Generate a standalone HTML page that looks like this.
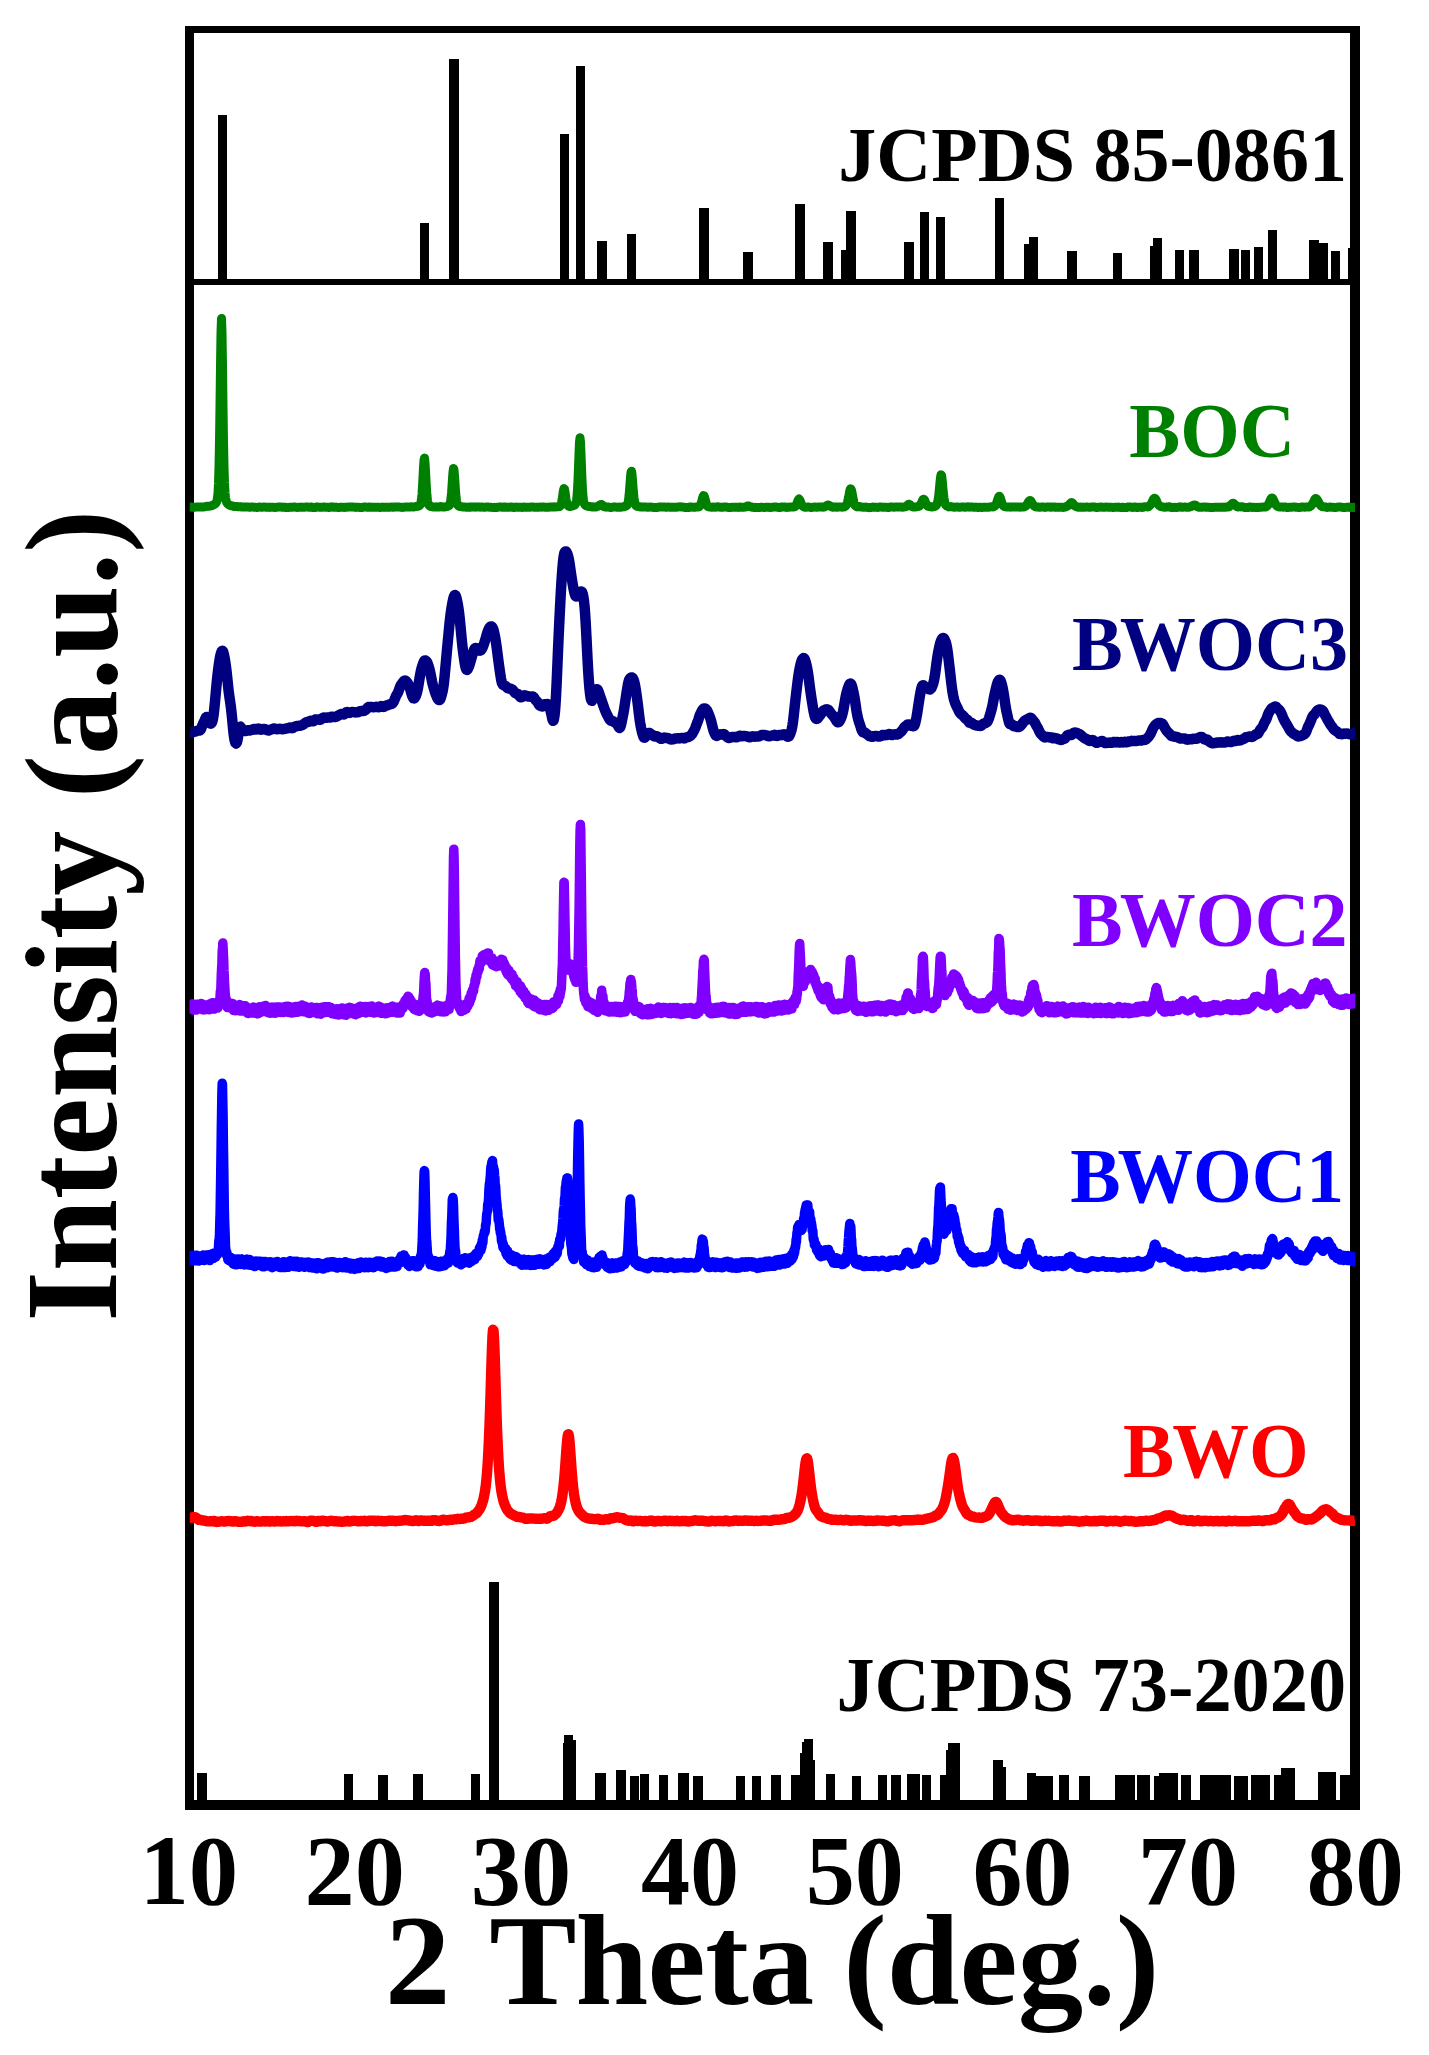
<!DOCTYPE html>
<html><head><meta charset="utf-8"><title>XRD patterns</title>
<style>html,body{margin:0;padding:0;background:#fff}svg{display:block}text{font-family:'Liberation Serif','Times New Roman',serif;font-weight:bold}</style>
</head><body>
<svg width="1429" height="2055" viewBox="0 0 1429 2055">
<rect x="0" y="0" width="1429" height="2055" fill="#fff"/>
<g fill="#000" shape-rendering="crispEdges">
<rect x="185" y="26" width="1175" height="7"/>
<rect x="185" y="1800" width="1175" height="10"/>
<rect x="185" y="26" width="9" height="1784"/>
<rect x="1350" y="26" width="10" height="1784"/>
<rect x="185" y="279" width="1175" height="6"/>
<rect x="218" y="115" width="9" height="167"/>
<rect x="420" y="223" width="9" height="59"/>
<rect x="449" y="59" width="10" height="223"/>
<rect x="560" y="134" width="9" height="148"/>
<rect x="576" y="66" width="9" height="216"/>
<rect x="597" y="241" width="10" height="41"/>
<rect x="627" y="234" width="9" height="48"/>
<rect x="699" y="208" width="10" height="74"/>
<rect x="743" y="252" width="10" height="30"/>
<rect x="795" y="204" width="10" height="78"/>
<rect x="823" y="242" width="10" height="40"/>
<rect x="841" y="250" width="9" height="32"/>
<rect x="846" y="211" width="10" height="71"/>
<rect x="904" y="242" width="10" height="40"/>
<rect x="920" y="212" width="9" height="70"/>
<rect x="936" y="217" width="9" height="65"/>
<rect x="995" y="198" width="9" height="84"/>
<rect x="1024" y="244" width="9" height="38"/>
<rect x="1029" y="237" width="9" height="45"/>
<rect x="1067" y="251" width="10" height="31"/>
<rect x="1113" y="253" width="9" height="29"/>
<rect x="1150" y="246" width="8" height="36"/>
<rect x="1153" y="238" width="9" height="44"/>
<rect x="1175" y="250" width="9" height="32"/>
<rect x="1189" y="250" width="10" height="32"/>
<rect x="1229" y="249" width="10" height="33"/>
<rect x="1241" y="250" width="9" height="32"/>
<rect x="1254" y="247" width="9" height="35"/>
<rect x="1268" y="230" width="9" height="52"/>
<rect x="1309" y="240" width="10" height="42"/>
<rect x="1319" y="243" width="9" height="39"/>
<rect x="1331" y="251" width="9" height="31"/>
<rect x="1348" y="248" width="7" height="34"/>
<rect x="197" y="1773" width="10" height="32"/>
<rect x="344" y="1774" width="9" height="31"/>
<rect x="378" y="1775" width="10" height="30"/>
<rect x="413" y="1774" width="10" height="31"/>
<rect x="471" y="1774" width="9" height="31"/>
<rect x="489" y="1582" width="10" height="223"/>
<rect x="563" y="1743" width="13" height="62"/>
<rect x="564" y="1735" width="9" height="70"/>
<rect x="573" y="1740" width="3" height="65"/>
<rect x="595" y="1773" width="11" height="32"/>
<rect x="616" y="1770" width="10" height="35"/>
<rect x="630" y="1776" width="9" height="29"/>
<rect x="640" y="1774" width="9" height="31"/>
<rect x="659" y="1775" width="9" height="30"/>
<rect x="678" y="1773" width="11" height="32"/>
<rect x="693" y="1776" width="10" height="29"/>
<rect x="736" y="1776" width="9" height="29"/>
<rect x="752" y="1776" width="9" height="29"/>
<rect x="771" y="1775" width="10" height="30"/>
<rect x="791" y="1775" width="9" height="30"/>
<rect x="800" y="1760" width="15" height="45"/>
<rect x="800" y="1753" width="13" height="52"/>
<rect x="802" y="1742" width="11" height="63"/>
<rect x="804" y="1739" width="9" height="66"/>
<rect x="826" y="1774" width="9" height="31"/>
<rect x="852" y="1776" width="9" height="29"/>
<rect x="878" y="1775" width="9" height="30"/>
<rect x="891" y="1775" width="10" height="30"/>
<rect x="907" y="1774" width="13" height="31"/>
<rect x="922" y="1775" width="9" height="30"/>
<rect x="940" y="1775" width="6" height="30"/>
<rect x="946" y="1750" width="14" height="55"/>
<rect x="948" y="1743" width="12" height="62"/>
<rect x="993" y="1767" width="13" height="38"/>
<rect x="993" y="1760" width="10" height="45"/>
<rect x="1027" y="1776" width="26" height="29"/>
<rect x="1027" y="1773" width="9" height="32"/>
<rect x="1059" y="1775" width="10" height="30"/>
<rect x="1079" y="1776" width="11" height="29"/>
<rect x="1115" y="1775" width="20" height="30"/>
<rect x="1137" y="1775" width="13" height="30"/>
<rect x="1154" y="1776" width="24" height="29"/>
<rect x="1159" y="1773" width="19" height="32"/>
<rect x="1181" y="1775" width="10" height="30"/>
<rect x="1200" y="1775" width="31" height="30"/>
<rect x="1234" y="1776" width="14" height="29"/>
<rect x="1251" y="1775" width="19" height="30"/>
<rect x="1274" y="1775" width="7" height="30"/>
<rect x="1281" y="1768" width="14" height="37"/>
<rect x="1318" y="1772" width="18" height="33"/>
<rect x="1340" y="1775" width="15" height="30"/>
</g>
<clipPath id="cp"><rect x="189.5" y="286" width="1165.8" height="1513"/></clipPath>
<g clip-path="url(#cp)">
<polyline points="189.5,507.1 190,507.1 190.5,507.1 191,507.1 191.5,507.1 192,507.2 192.5,507.3 193,507.3 193.5,507.3 194,507.2 194.5,507.2 195,507.2 195.5,507.2 196,507.1 196.5,507 197,507 197.5,507 198,507 198.5,507 199,507.1 199.5,507 200,507 200.5,507 201,507 201.5,507 202,507.1 202.5,507.1 203,507 203.5,507 204,506.9 204.5,506.8 205,506.7 205.5,506.6 206,506.5 206.5,506.4 207,506.3 207.5,506.2 208,506.2 208.5,506.2 209,506.2 209.5,506.2 210,506.1 210.5,505.9 211,505.8 211.5,505.6 212,505.5 212.5,505.3 213,505.1 213.5,504.9 214,504.6 214.5,504.2 215,503.9 215.5,503.5 216,502.9 216.5,502.1 217,500.6 217.5,497.9 218,492.9 218.5,483.4 219,466.7 219.5,440.6 220,405.4 220.5,365.9 221,332.3 221.5,318.6 222,332.2 222.5,365.8 223,405.2 223.5,440.3 224,466.3 224.5,483 225,492.6 225.5,497.7 226,500.4 226.5,501.9 227,502.9 227.5,503.6 228,504.1 228.5,504.5 229,504.8 229.5,505.1 230,505.4 230.5,505.7 231,505.8 231.5,505.8 232,505.8 232.5,505.9 233,506.1 233.5,506.4 234,506.5 234.5,506.5 235,506.5 235.5,506.5 236,506.5 236.5,506.5 237,506.6 237.5,506.7 238,506.8 238.5,506.8 239,506.8 239.5,506.8 240,506.7 240.5,506.7 241,506.7 241.5,506.8 242,507 242.5,507.1 243,507 243.5,507 244,506.9 244.5,506.9 245,506.9 245.5,507 246,507.1 246.5,507 247,507 247.5,507 248,507 248.5,507.1 249,507.2 249.5,507.3 250,507.3 250.5,507.2 251,507.1 251.5,507.1 252,507.1 252.5,507.1 253,507.1 253.5,507.2 254,507.2 254.5,507.2 255,507.2 255.5,507.3 256,507.3 256.5,507.4 257,507.4 257.5,507.4 258,507.3 258.5,507.2 259,507.1 259.5,507.1 260,507.1 260.5,507.2 261,507.3 261.5,507.3 262,507.2 262.5,507.2 263,507.2 263.5,507.1 264,507 264.5,507.1 265,507.1 265.5,507.2 266,507.3 266.5,507.3 267,507.3 267.5,507.2 268,507.2 268.5,507.2 269,507.3 269.5,507.4 270,507.3 270.5,507.3 271,507.3 271.5,507.3 272,507.3 272.5,507.3 273,507.2 273.5,507.3 274,507.3 274.5,507.4 275,507.4 275.5,507.4 276,507.3 276.5,507.3 277,507.3 277.5,507.2 278,507.1 278.5,507 279,507 279.5,506.9 280,506.9 280.5,506.9 281,507.1 281.5,507.2 282,507.2 282.5,507.2 283,507.1 283.5,507.2 284,507.3 284.5,507.3 285,507.4 285.5,507.3 286,507.3 286.5,507.4 287,507.5 287.5,507.5 288,507.5 288.5,507.5 289,507.4 289.5,507.3 290,507.2 290.5,507.2 291,507.2 291.5,507.3 292,507.3 292.5,507.3 293,507.2 293.5,507.1 294,507 294.5,507 295,507.1 295.5,507.2 296,507.3 296.5,507.3 297,507.4 297.5,507.4 298,507.4 298.5,507.3 299,507.3 299.5,507.3 300,507.2 300.5,507.2 301,507.1 301.5,507.2 302,507.2 302.5,507.2 303,507.3 303.5,507.3 304,507.3 304.5,507.2 305,507.2 305.5,507.1 306,507.1 306.5,507.1 307,507.1 307.5,507.1 308,507.1 308.5,507.2 309,507.3 309.5,507.3 310,507.2 310.5,507 311,507 311.5,507 312,507.2 312.5,507.3 313,507.5 313.5,507.6 314,507.6 314.5,507.6 315,507.5 315.5,507.3 316,507.1 316.5,507 317,507 317.5,507 318,507.1 318.5,507.2 319,507.2 319.5,507.3 320,507.3 320.5,507.3 321,507.2 321.5,507.2 322,507.2 322.5,507.2 323,507.2 323.5,507.1 324,507 324.5,507.1 325,507.2 325.5,507.3 326,507.3 326.5,507.3 327,507.2 327.5,507.2 328,507.3 328.5,507.4 329,507.4 329.5,507.4 330,507.3 330.5,507.1 331,506.9 331.5,506.8 332,506.9 332.5,507 333,507.2 333.5,507.3 334,507.3 334.5,507.3 335,507.3 335.5,507.2 336,507.1 336.5,507.2 337,507.3 337.5,507.4 338,507.5 338.5,507.5 339,507.5 339.5,507.4 340,507.3 340.5,507.2 341,507.2 341.5,507.2 342,507.2 342.5,507.3 343,507.3 343.5,507.3 344,507.4 344.5,507.4 345,507.3 345.5,507.2 346,507.2 346.5,507.2 347,507.2 347.5,507.2 348,507.1 348.5,507 349,506.9 349.5,506.9 350,507 350.5,507 351,507 351.5,507 352,507 352.5,507 353,507.1 353.5,507.1 354,507.2 354.5,507.2 355,507.3 355.5,507.3 356,507.4 356.5,507.3 357,507.3 357.5,507.3 358,507.3 358.5,507.3 359,507.3 359.5,507.4 360,507.4 360.5,507.5 361,507.4 361.5,507.4 362,507.4 362.5,507.4 363,507.3 363.5,507.2 364,507 364.5,507 365,507 365.5,507.1 366,507.1 366.5,507.2 367,507.3 367.5,507.2 368,507.2 368.5,507.1 369,507.2 369.5,507.2 370,507.1 370.5,507.1 371,507.2 371.5,507.3 372,507.3 372.5,507.3 373,507.3 373.5,507.2 374,507.3 374.5,507.3 375,507.3 375.5,507.2 376,507.2 376.5,507.2 377,507.3 377.5,507.3 378,507.3 378.5,507.2 379,507.3 379.5,507.4 380,507.4 380.5,507.4 381,507.3 381.5,507.2 382,507.2 382.5,507.1 383,507.2 383.5,507.2 384,507.2 384.5,507.3 385,507.3 385.5,507.3 386,507.2 386.5,507.2 387,507.3 387.5,507.3 388,507.3 388.5,507.2 389,507.2 389.5,507.2 390,507.2 390.5,507.2 391,507.1 391.5,507.1 392,507.1 392.5,507.2 393,507.3 393.5,507.3 394,507.2 394.5,507 395,506.9 395.5,506.9 396,507 396.5,507.1 397,507.1 397.5,507 398,506.9 398.5,506.9 399,507 399.5,507.1 400,507.2 400.5,507.2 401,507.2 401.5,507.3 402,507.4 402.5,507.4 403,507.3 403.5,507.3 404,507.2 404.5,507.2 405,507.1 405.5,507 406,507 406.5,507 407,507.1 407.5,507.1 408,507.1 408.5,507 409,507 409.5,507 410,507 410.5,506.9 411,506.8 411.5,506.8 412,506.8 412.5,506.9 413,507 413.5,507 414,506.9 414.5,506.8 415,506.7 415.5,506.6 416,506.5 416.5,506.5 417,506.4 417.5,506.3 418,506.1 418.5,506 419,505.8 419.5,505.5 420,505 420.5,504 421,502.2 421.5,499 422,493.9 422.5,486.4 423,477 423.5,467.3 424,460 424.5,458 425,462.4 425.5,471 426,480.7 426.5,489.4 427,496 427.5,500.5 428,503.1 428.5,504.5 429,505.2 429.5,505.7 430,506.1 430.5,506.4 431,506.6 431.5,506.7 432,506.7 432.5,506.8 433,506.9 433.5,507 434,507 434.5,507 435,507 435.5,506.9 436,506.9 436.5,506.8 437,506.9 437.5,507 438,507.1 438.5,507.1 439,507 439.5,506.8 440,506.6 440.5,506.6 441,506.6 441.5,506.7 442,506.9 442.5,507 443,507.1 443.5,507.1 444,507.1 444.5,507 445,506.9 445.5,506.8 446,506.7 446.5,506.6 447,506.5 447.5,506.4 448,506.2 448.5,506.1 449,505.7 449.5,505.1 450,504 450.5,501.9 451,498.4 451.5,493.2 452,486.3 452.5,478.6 453,471.8 453.5,468.4 454,470 454.5,475.8 455,483.4 455.5,490.7 456,496.6 456.5,500.6 457,503.1 457.5,504.5 458,505.3 458.5,505.9 459,506.2 459.5,506.4 460,506.5 460.5,506.5 461,506.5 461.5,506.7 462,506.8 462.5,506.9 463,507 463.5,507 464,507 464.5,507.1 465,507.1 465.5,507.1 466,507.2 466.5,507.3 467,507.3 467.5,507.2 468,507.2 468.5,507.1 469,506.9 469.5,506.9 470,507 470.5,507.2 471,507.2 471.5,507.1 472,507.1 472.5,507.1 473,507 473.5,507 474,506.9 474.5,507 475,507.1 475.5,507.2 476,507.1 476.5,507.1 477,507 477.5,507 478,507.1 478.5,507.1 479,507.1 479.5,507.1 480,507.2 480.5,507.2 481,507.1 481.5,507 482,507 482.5,507.1 483,507.2 483.5,507.3 484,507.2 484.5,507.2 485,507.2 485.5,507.2 486,507.1 486.5,507.1 487,507.1 487.5,507.1 488,507.1 488.5,507.1 489,507.2 489.5,507.2 490,507.3 490.5,507.3 491,507.3 491.5,507.3 492,507.4 492.5,507.4 493,507.4 493.5,507.4 494,507.4 494.5,507.3 495,507.4 495.5,507.5 496,507.6 496.5,507.5 497,507.4 497.5,507.2 498,507.2 498.5,507.2 499,507.1 499.5,507.1 500,507 500.5,507 501,507.1 501.5,507.2 502,507.2 502.5,507.2 503,507.2 503.5,507.2 504,507 504.5,506.9 505,507 505.5,507.1 506,507.3 506.5,507.3 507,507.3 507.5,507.3 508,507.3 508.5,507.3 509,507.3 509.5,507.2 510,507.1 510.5,507.1 511,507 511.5,507 512,507.1 512.5,507.3 513,507.4 513.5,507.4 514,507.3 514.5,507.4 515,507.3 515.5,507.2 516,507.1 516.5,507.2 517,507.2 517.5,507.2 518,507.2 518.5,507.3 519,507.3 519.5,507.3 520,507.3 520.5,507.3 521,507.3 521.5,507.3 522,507.4 522.5,507.4 523,507.3 523.5,507.1 524,507.1 524.5,507.1 525,507.2 525.5,507.2 526,507.2 526.5,507.2 527,507.2 527.5,507.3 528,507.3 528.5,507.3 529,507.3 529.5,507.3 530,507.3 530.5,507.2 531,507.1 531.5,507 532,507 532.5,507 533,507.1 533.5,507.1 534,507.2 534.5,507.3 535,507.3 535.5,507.3 536,507.2 536.5,507.2 537,507.2 537.5,507.2 538,507.3 538.5,507.3 539,507.2 539.5,507.2 540,507.1 540.5,507.1 541,507.1 541.5,507.2 542,507.2 542.5,507.1 543,507.1 543.5,507.1 544,507.1 544.5,507.2 545,507.2 545.5,507.2 546,507.2 546.5,507.2 547,507.2 547.5,507.3 548,507.3 548.5,507.3 549,507.2 549.5,507.1 550,507 550.5,506.9 551,506.9 551.5,506.9 552,507 552.5,507 553,507 553.5,506.9 554,506.8 554.5,506.8 555,506.9 555.5,506.9 556,506.9 556.5,506.8 557,506.8 557.5,506.8 558,506.8 558.5,506.8 559,506.7 559.5,506.5 560,506.2 560.5,505.5 561,504.6 561.5,503 562,500.5 562.5,497.2 563,493.4 563.5,490.1 564,488.5 564.5,489.2 565,491.9 565.5,495.6 566,499 566.5,501.8 567,503.6 567.5,504.8 568,505.6 568.5,506.1 569,506.4 569.5,506.5 570,506.5 570.5,506.4 571,506.3 571.5,506.2 572,506.1 572.5,505.8 573,505.6 573.5,505.5 574,505.4 574.5,505.1 575,504.7 575.5,504 576,502.7 576.5,500.4 577,496.4 577.5,489.7 578,479.8 578.5,467.1 579,453.4 579.5,442.1 580,437.7 580.5,442.3 581,453.6 581.5,467.2 582,479.9 582.5,489.7 583,496.3 583.5,500.4 584,502.8 584.5,504.1 585,504.8 585.5,505.3 586,505.6 586.5,505.9 587,506.1 587.5,506.2 588,506.3 588.5,506.4 589,506.6 589.5,506.6 590,506.6 590.5,506.6 591,506.7 591.5,506.9 592,506.9 592.5,506.9 593,506.8 593.5,506.8 594,506.9 594.5,507.1 595,507.1 595.5,507 596,506.9 596.5,506.8 597,506.6 597.5,506.4 598,506.2 598.5,505.9 599,505.6 599.5,505.3 600,504.9 600.5,504.6 601,504.4 601.5,504.5 602,504.8 602.5,505.3 603,505.8 603.5,506.3 604,506.6 604.5,506.8 605,506.9 605.5,507 606,507.1 606.5,507.2 607,507.1 607.5,507 608,507 608.5,507 609,507.2 609.5,507.3 610,507.4 610.5,507.5 611,507.5 611.5,507.4 612,507.3 612.5,507.2 613,507.1 613.5,507 614,507.1 614.5,507.1 615,507.1 615.5,507.1 616,507.1 616.5,507.2 617,507.2 617.5,507.2 618,507.2 618.5,507.2 619,507.1 619.5,507.1 620,507.2 620.5,507.2 621,507.2 621.5,507.1 622,507 622.5,506.9 623,506.8 623.5,506.7 624,506.7 624.5,506.5 625,506.3 625.5,506.2 626,506 626.5,505.7 627,505.2 627.5,504.3 628,502.8 628.5,500.2 629,496.1 629.5,490.5 630,483.8 630.5,477.1 631,472.3 631.5,471.2 632,474.3 632.5,480.1 633,486.8 633.5,492.9 634,497.8 634.5,501.2 635,503.5 635.5,505 636,505.7 636.5,506.1 637,506.3 637.5,506.4 638,506.4 638.5,506.5 639,506.6 639.5,506.7 640,506.9 640.5,507 641,507.1 641.5,507.1 642,507.1 642.5,507 643,506.9 643.5,506.9 644,506.9 644.5,506.9 645,506.9 645.5,507 646,507 646.5,507.1 647,507.2 647.5,507.2 648,507.2 648.5,507.2 649,507.2 649.5,507.1 650,507 650.5,507.1 651,507.1 651.5,507.2 652,507.3 652.5,507.3 653,507.3 653.5,507.4 654,507.5 654.5,507.6 655,507.6 655.5,507.5 656,507.5 656.5,507.5 657,507.5 657.5,507.3 658,507.2 658.5,507.2 659,507.1 659.5,507 660,507 660.5,507 661,507 661.5,507 662,507 662.5,507 663,506.9 663.5,506.9 664,506.9 664.5,507 665,507.1 665.5,507.2 666,507.3 666.5,507.3 667,507.2 667.5,507.1 668,507.1 668.5,507.1 669,507.1 669.5,507.2 670,507.3 670.5,507.3 671,507.2 671.5,507.2 672,507.3 672.5,507.2 673,507.2 673.5,507.3 674,507.3 674.5,507.3 675,507.3 675.5,507.2 676,507.3 676.5,507.2 677,507.2 677.5,507.1 678,507 678.5,506.9 679,506.9 679.5,506.8 680,506.8 680.5,506.8 681,506.9 681.5,507 682,507.1 682.5,507.1 683,507.1 683.5,507.2 684,507.3 684.5,507.4 685,507.4 685.5,507.5 686,507.5 686.5,507.6 687,507.5 687.5,507.4 688,507.4 688.5,507.5 689,507.5 689.5,507.3 690,507 690.5,506.9 691,506.9 691.5,507 692,507.1 692.5,507.2 693,507.3 693.5,507.3 694,507.3 694.5,507.3 695,507.3 695.5,507.2 696,507.1 696.5,507 697,507 697.5,507 698,507 698.5,506.9 699,506.7 699.5,506.3 700,505.6 700.5,504.8 701,503.5 701.5,502 702,500.1 702.5,498.1 703,496.5 703.5,495.6 704,495.8 704.5,497 705,498.8 705.5,500.7 706,502.5 706.5,504 707,505.2 707.5,506 708,506.5 708.5,506.7 709,506.9 709.5,507 710,507.1 710.5,507.1 711,507.2 711.5,507.2 712,507.3 712.5,507.2 713,507.1 713.5,507.1 714,507.1 714.5,507.2 715,507.2 715.5,507.2 716,507.2 716.5,507.1 717,507 717.5,506.8 718,506.8 718.5,506.9 719,507 719.5,507.1 720,507.2 720.5,507.2 721,507.2 721.5,507.2 722,507.2 722.5,507.2 723,507.2 723.5,507.2 724,507.1 724.5,507 725,506.9 725.5,506.9 726,507 726.5,507.1 727,507.2 727.5,507.3 728,507.4 728.5,507.4 729,507.5 729.5,507.5 730,507.5 730.5,507.5 731,507.4 731.5,507.3 732,507.2 732.5,507.2 733,507.2 733.5,507.2 734,507.2 734.5,507.2 735,507.2 735.5,507.2 736,507.2 736.5,507.2 737,507.2 737.5,507.2 738,507.3 738.5,507.4 739,507.3 739.5,507.2 740,507.1 740.5,507.1 741,507.2 741.5,507.2 742,507.2 742.5,507.2 743,507.2 743.5,507.3 744,507.2 744.5,507.1 745,507 745.5,507 746,506.8 746.5,506.6 747,506.3 747.5,506 748,505.9 748.5,506 749,506.2 749.5,506.5 750,506.7 750.5,506.8 751,506.9 751.5,507 752,507.2 752.5,507.3 753,507.3 753.5,507.4 754,507.4 754.5,507.4 755,507.4 755.5,507.3 756,507.4 756.5,507.4 757,507.4 757.5,507.4 758,507.4 758.5,507.5 759,507.5 759.5,507.5 760,507.4 760.5,507.3 761,507.3 761.5,507.3 762,507.3 762.5,507.3 763,507.3 763.5,507.4 764,507.4 764.5,507.4 765,507.4 765.5,507.3 766,507.3 766.5,507.3 767,507.3 767.5,507.2 768,507.2 768.5,507.2 769,507.3 769.5,507.4 770,507.5 770.5,507.5 771,507.4 771.5,507.3 772,507.3 772.5,507.2 773,507.2 773.5,507.1 774,507.1 774.5,507.1 775,507.1 775.5,507.1 776,507.1 776.5,507.1 777,507.2 777.5,507.3 778,507.3 778.5,507.4 779,507.5 779.5,507.5 780,507.5 780.5,507.4 781,507.2 781.5,507 782,506.9 782.5,507 783,507.1 783.5,507.1 784,507 784.5,507 785,507 785.5,507.1 786,507.3 786.5,507.4 787,507.4 787.5,507.3 788,507.2 788.5,507.1 789,507.2 789.5,507.2 790,507.1 790.5,507.1 791,507.1 791.5,507.1 792,507 792.5,507.1 793,507.1 793.5,507 794,506.9 794.5,506.7 795,506.5 795.5,506.1 796,505.4 796.5,504.4 797,503.2 797.5,501.8 798,500.4 798.5,499.4 799,499 799.5,499.4 800,500.4 800.5,501.7 801,503 801.5,504.2 802,505.1 802.5,505.9 803,506.3 803.5,506.6 804,506.8 804.5,507.1 805,507.3 805.5,507.3 806,507.2 806.5,507.2 807,507.2 807.5,507.1 808,507 808.5,507 809,507.1 809.5,507.2 810,507.3 810.5,507.4 811,507.5 811.5,507.5 812,507.4 812.5,507.3 813,507.2 813.5,507.2 814,507.1 814.5,507.1 815,507.1 815.5,507.1 816,507.2 816.5,507.3 817,507.3 817.5,507.2 818,507.1 818.5,507 819,507 819.5,507.1 820,507.1 820.5,507.1 821,507 821.5,507 822,507.1 822.5,507.2 823,507.2 823.5,507.1 824,507 824.5,506.8 825,506.6 825.5,506.4 826,506.1 826.5,505.8 827,505.4 827.5,505.2 828,505 828.5,505.1 829,505.3 829.5,505.6 830,505.9 830.5,506.2 831,506.5 831.5,506.7 832,506.8 832.5,507 833,507.2 833.5,507.2 834,507.1 834.5,507.1 835,507.1 835.5,507.1 836,507.2 836.5,507.2 837,507 837.5,506.9 838,506.9 838.5,507 839,507.1 839.5,507.1 840,507 840.5,507 841,507 841.5,507.1 842,507.2 842.5,507.2 843,507.1 843.5,507 844,506.9 844.5,506.8 845,506.6 845.5,506.2 846,505.6 846.5,504.7 847,503.6 847.5,502.1 848,500.1 848.5,497.7 849,495 849.5,492.3 850,490 850.5,488.8 851,488.9 851.5,490.3 852,492.6 852.5,495.3 853,498 853.5,500.6 854,502.8 854.5,504.4 855,505.3 855.5,505.8 856,506.1 856.5,506.5 857,506.8 857.5,506.9 858,506.8 858.5,506.6 859,506.5 859.5,506.5 860,506.6 860.5,506.8 861,507 861.5,507 862,507.1 862.5,507.2 863,507.2 863.5,507.2 864,507.2 864.5,507.2 865,507.2 865.5,507.1 866,507.1 866.5,507.2 867,507.3 867.5,507.4 868,507.5 868.5,507.6 869,507.7 869.5,507.7 870,507.6 870.5,507.5 871,507.4 871.5,507.4 872,507.3 872.5,507.1 873,507.1 873.5,507.2 874,507.3 874.5,507.3 875,507.2 875.5,507.2 876,507.2 876.5,507.3 877,507.3 877.5,507.4 878,507.4 878.5,507.3 879,507.2 879.5,507.1 880,507 880.5,507 881,507.1 881.5,507.1 882,507.2 882.5,507.3 883,507.3 883.5,507.3 884,507.3 884.5,507.3 885,507.2 885.5,507.3 886,507.3 886.5,507.3 887,507.3 887.5,507.4 888,507.5 888.5,507.5 889,507.4 889.5,507.2 890,507.1 890.5,507.1 891,507.1 891.5,507.1 892,507.1 892.5,507.1 893,507.1 893.5,507.2 894,507.2 894.5,507.2 895,507.1 895.5,507.1 896,507 896.5,507 897,507 897.5,507 898,507 898.5,507 899,507 899.5,507 900,506.9 900.5,507 901,507.1 901.5,507.1 902,507.2 902.5,507.2 903,507.2 903.5,507.1 904,507 904.5,506.9 905,506.8 905.5,506.7 906,506.5 906.5,506.1 907,505.7 907.5,505.2 908,504.7 908.5,504.3 909,504.2 909.5,504.3 910,504.8 910.5,505.3 911,505.9 911.5,506.3 912,506.6 912.5,506.7 913,506.9 913.5,507 914,507.1 914.5,507 915,507 915.5,506.9 916,506.9 916.5,506.8 917,506.7 917.5,506.6 918,506.5 918.5,506.4 919,506.2 919.5,506 920,505.5 920.5,504.8 921,504 921.5,502.9 922,501.7 922.5,500.5 923,499.6 923.5,499.2 924,499.3 924.5,499.9 925,501 925.5,502.3 926,503.4 926.5,504.4 927,505.2 927.5,505.8 928,506.2 928.5,506.4 929,506.4 929.5,506.4 930,506.5 930.5,506.6 931,506.9 931.5,507 932,507 932.5,506.8 933,506.7 933.5,506.7 934,506.6 934.5,506.4 935,506.3 935.5,506 936,505.6 936.5,505 937,504 937.5,502.6 938,500.4 938.5,497.2 939,492.9 939.5,487.7 940,482.2 940.5,477.5 941,474.8 941.5,475.2 942,478.5 942.5,483.6 943,489.1 943.5,494.1 944,498.1 944.5,501.2 945,503.2 945.5,504.6 946,505.3 946.5,505.7 947,505.9 947.5,506.2 948,506.6 948.5,506.8 949,506.9 949.5,506.8 950,506.7 950.5,506.6 951,506.6 951.5,506.7 952,506.7 952.5,506.9 953,507 953.5,507.1 954,507.2 954.5,507.3 955,507.2 955.5,507.1 956,507.1 956.5,507 957,507 957.5,507 958,507.1 958.5,507.2 959,507.3 959.5,507.3 960,507.2 960.5,507.2 961,507.1 961.5,507.1 962,507 962.5,506.9 963,506.9 963.5,507 964,507.1 964.5,507.2 965,507.3 965.5,507.2 966,507.1 966.5,507 967,506.9 967.5,506.8 968,506.8 968.5,506.9 969,507.1 969.5,507.2 970,507.1 970.5,507 971,506.9 971.5,506.9 972,507 972.5,507.1 973,507.2 973.5,507.3 974,507.3 974.5,507.3 975,507.3 975.5,507.2 976,507.1 976.5,507.2 977,507.3 977.5,507.4 978,507.4 978.5,507.4 979,507.3 979.5,507.2 980,507.2 980.5,507.3 981,507.4 981.5,507.5 982,507.5 982.5,507.4 983,507.2 983.5,507.2 984,507.2 984.5,507.2 985,507.3 985.5,507.3 986,507.3 986.5,507.3 987,507.3 987.5,507.2 988,507.2 988.5,507.2 989,507.2 989.5,507.1 990,507 990.5,506.9 991,506.7 991.5,506.7 992,506.8 992.5,506.9 993,506.9 993.5,506.8 994,506.5 994.5,506.2 995,505.8 995.5,505.3 996,504.4 996.5,503.2 997,501.7 997.5,500.1 998,498.6 998.5,497.3 999,496.5 999.5,496.3 1000,497 1000.5,498.3 1001,500 1001.5,501.7 1002,503.2 1002.5,504.4 1003,505.3 1003.5,505.9 1004,506.4 1004.5,506.6 1005,506.7 1005.5,506.8 1006,506.9 1006.5,506.9 1007,506.9 1007.5,506.9 1008,506.9 1008.5,507 1009,507 1009.5,507.1 1010,507.1 1010.5,507.2 1011,507.1 1011.5,507.1 1012,507.1 1012.5,507 1013,507 1013.5,507 1014,506.9 1014.5,507 1015,506.9 1015.5,506.9 1016,506.9 1016.5,506.9 1017,506.9 1017.5,506.9 1018,507 1018.5,507 1019,507.1 1019.5,507.2 1020,507.2 1020.5,507.1 1021,507 1021.5,507 1022,507 1022.5,507 1023,507 1023.5,507 1024,506.9 1024.5,506.7 1025,506.5 1025.5,506.2 1026,505.9 1026.5,505.3 1027,504.5 1027.5,503.6 1028,502.7 1028.5,501.8 1029,501.1 1029.5,500.6 1030,500.4 1030.5,500.6 1031,501.2 1031.5,502.1 1032,503 1032.5,503.9 1033,504.6 1033.5,505.2 1034,505.8 1034.5,506.2 1035,506.5 1035.5,506.7 1036,506.9 1036.5,507 1037,507 1037.5,506.9 1038,506.9 1038.5,507 1039,507.1 1039.5,507.3 1040,507.3 1040.5,507.2 1041,507.1 1041.5,507.1 1042,507.1 1042.5,507.1 1043,507.1 1043.5,507.1 1044,507.2 1044.5,507.3 1045,507.4 1045.5,507.3 1046,507.2 1046.5,507.1 1047,507.1 1047.5,507.1 1048,507.1 1048.5,507.1 1049,507.1 1049.5,507.1 1050,507.1 1050.5,507.2 1051,507.3 1051.5,507.2 1052,507 1052.5,506.9 1053,506.9 1053.5,507 1054,507.1 1054.5,507.2 1055,507.2 1055.5,507.1 1056,507.2 1056.5,507.2 1057,507.3 1057.5,507.3 1058,507.3 1058.5,507.2 1059,507.2 1059.5,507.2 1060,507.2 1060.5,507.2 1061,507.3 1061.5,507.3 1062,507.3 1062.5,507.3 1063,507.4 1063.5,507.4 1064,507.3 1064.5,507.2 1065,507.1 1065.5,507 1066,506.7 1066.5,506.5 1067,506.2 1067.5,506 1068,505.7 1068.5,505.4 1069,505 1069.5,504.4 1070,503.7 1070.5,503.2 1071,502.8 1071.5,502.6 1072,502.7 1072.5,503.1 1073,503.7 1073.5,504.4 1074,505.1 1074.5,505.7 1075,506.1 1075.5,506.3 1076,506.4 1076.5,506.6 1077,506.8 1077.5,507 1078,507.2 1078.5,507.3 1079,507.3 1079.5,507.2 1080,507.1 1080.5,507.1 1081,507.2 1081.5,507.3 1082,507.3 1082.5,507.2 1083,507.1 1083.5,507.2 1084,507.2 1084.5,507.3 1085,507.2 1085.5,507.2 1086,507.1 1086.5,507.1 1087,507.1 1087.5,507.1 1088,507.2 1088.5,507.2 1089,507.2 1089.5,507.2 1090,507.2 1090.5,507.2 1091,507.2 1091.5,507.1 1092,507 1092.5,507 1093,507 1093.5,506.9 1094,506.9 1094.5,507 1095,507.1 1095.5,507.2 1096,507.4 1096.5,507.5 1097,507.5 1097.5,507.4 1098,507.3 1098.5,507.3 1099,507.3 1099.5,507.2 1100,507.2 1100.5,507.1 1101,507 1101.5,507.1 1102,507.2 1102.5,507.3 1103,507.3 1103.5,507.3 1104,507.2 1104.5,507.2 1105,507.2 1105.5,507.2 1106,507.1 1106.5,507.1 1107,507.1 1107.5,507.2 1108,507.2 1108.5,507.2 1109,507.2 1109.5,507.3 1110,507.3 1110.5,507.2 1111,507.2 1111.5,507.2 1112,507.3 1112.5,507.4 1113,507.4 1113.5,507.4 1114,507.4 1114.5,507.3 1115,507.3 1115.5,507.2 1116,507.2 1116.5,507.3 1117,507.2 1117.5,507.2 1118,507.2 1118.5,507.1 1119,507.2 1119.5,507.3 1120,507.4 1120.5,507.5 1121,507.5 1121.5,507.5 1122,507.3 1122.5,507.2 1123,507.2 1123.5,507.3 1124,507.4 1124.5,507.4 1125,507.4 1125.5,507.5 1126,507.6 1126.5,507.6 1127,507.4 1127.5,507.2 1128,507 1128.5,506.9 1129,506.9 1129.5,506.9 1130,506.9 1130.5,507 1131,507.1 1131.5,507.3 1132,507.3 1132.5,507.4 1133,507.4 1133.5,507.3 1134,507.1 1134.5,507 1135,507 1135.5,507 1136,507.2 1136.5,507.3 1137,507.5 1137.5,507.5 1138,507.4 1138.5,507.3 1139,507.2 1139.5,507.2 1140,507.2 1140.5,507.2 1141,507.2 1141.5,507.3 1142,507.4 1142.5,507.4 1143,507.3 1143.5,507.1 1144,506.9 1144.5,506.7 1145,506.7 1145.5,506.7 1146,506.7 1146.5,506.7 1147,506.8 1147.5,506.9 1148,506.9 1148.5,506.7 1149,506.4 1149.5,505.9 1150,505.4 1150.5,504.8 1151,504.1 1151.5,503.2 1152,502.2 1152.5,501.1 1153,500 1153.5,499.1 1154,498.5 1154.5,498.2 1155,498.3 1155.5,498.9 1156,499.8 1156.5,500.8 1157,502 1157.5,503.1 1158,504 1158.5,504.7 1159,505.2 1159.5,505.7 1160,506.1 1160.5,506.4 1161,506.6 1161.5,506.7 1162,506.8 1162.5,506.9 1163,507 1163.5,507.1 1164,507.2 1164.5,507.3 1165,507.3 1165.5,507.2 1166,507.1 1166.5,507.1 1167,507.1 1167.5,507.1 1168,507 1168.5,506.8 1169,506.7 1169.5,506.8 1170,507 1170.5,507.2 1171,507.4 1171.5,507.5 1172,507.6 1172.5,507.5 1173,507.5 1173.5,507.4 1174,507.3 1174.5,507.3 1175,507.3 1175.5,507.4 1176,507.5 1176.5,507.5 1177,507.4 1177.5,507.3 1178,507.3 1178.5,507.2 1179,507.1 1179.5,506.9 1180,506.8 1180.5,506.9 1181,507.1 1181.5,507.3 1182,507.3 1182.5,507.2 1183,507.2 1183.5,507.2 1184,507.1 1184.5,507.1 1185,507.1 1185.5,507.1 1186,507.2 1186.5,507.3 1187,507.3 1187.5,507.3 1188,507.2 1188.5,507.2 1189,507.2 1189.5,507.1 1190,506.9 1190.5,506.7 1191,506.5 1191.5,506.3 1192,506 1192.5,505.7 1193,505.4 1193.5,505.2 1194,505.1 1194.5,505.1 1195,505.1 1195.5,505.2 1196,505.5 1196.5,505.9 1197,506.3 1197.5,506.7 1198,506.9 1198.5,507.1 1199,507.3 1199.5,507.3 1200,507.3 1200.5,507.2 1201,507.2 1201.5,507.2 1202,507.2 1202.5,507.2 1203,507.1 1203.5,507.1 1204,507.1 1204.5,507.1 1205,507.2 1205.5,507.2 1206,507.1 1206.5,507.1 1207,507.2 1207.5,507.3 1208,507.3 1208.5,507.3 1209,507.3 1209.5,507.4 1210,507.4 1210.5,507.4 1211,507.4 1211.5,507.3 1212,507.4 1212.5,507.4 1213,507.5 1213.5,507.4 1214,507.3 1214.5,507.2 1215,507.2 1215.5,507.2 1216,507.2 1216.5,507.2 1217,507.3 1217.5,507.3 1218,507.2 1218.5,507.2 1219,507.2 1219.5,507.2 1220,507.3 1220.5,507.3 1221,507.3 1221.5,507.3 1222,507.2 1222.5,507.1 1223,507.2 1223.5,507.2 1224,507.3 1224.5,507.3 1225,507.3 1225.5,507.1 1226,507 1226.5,507 1227,507 1227.5,507 1228,507 1228.5,506.9 1229,506.7 1229.5,506.3 1230,505.8 1230.5,505.2 1231,504.7 1231.5,504.2 1232,503.8 1232.5,503.4 1233,503.2 1233.5,503.3 1234,503.7 1234.5,504.2 1235,504.9 1235.5,505.5 1236,505.9 1236.5,506.3 1237,506.6 1237.5,506.9 1238,507 1238.5,506.9 1239,506.8 1239.5,506.8 1240,506.8 1240.5,506.9 1241,506.8 1241.5,506.8 1242,506.8 1242.5,506.8 1243,506.9 1243.5,507.1 1244,507.3 1244.5,507.4 1245,507.5 1245.5,507.6 1246,507.6 1246.5,507.6 1247,507.6 1247.5,507.6 1248,507.5 1248.5,507.3 1249,507.1 1249.5,506.9 1250,506.9 1250.5,506.9 1251,507.1 1251.5,507.3 1252,507.4 1252.5,507.4 1253,507.4 1253.5,507.3 1254,507.3 1254.5,507.3 1255,507.4 1255.5,507.5 1256,507.5 1256.5,507.4 1257,507.3 1257.5,507.3 1258,507.4 1258.5,507.4 1259,507.4 1259.5,507.3 1260,507.3 1260.5,507.2 1261,507.2 1261.5,507.2 1262,507.2 1262.5,507.1 1263,507.1 1263.5,507 1264,507 1264.5,507 1265,507 1265.5,507 1266,506.8 1266.5,506.5 1267,506.1 1267.5,505.7 1268,505 1268.5,504.2 1269,503.1 1269.5,502 1270,500.8 1270.5,499.7 1271,498.8 1271.5,498.2 1272,498 1272.5,498.2 1273,498.9 1273.5,499.9 1274,500.9 1274.5,502 1275,503.1 1275.5,504.1 1276,505 1276.5,505.6 1277,506 1277.5,506.4 1278,506.7 1278.5,506.8 1279,506.9 1279.5,507 1280,507.1 1280.5,507.1 1281,507 1281.5,506.9 1282,507 1282.5,507.1 1283,507.2 1283.5,507.2 1284,507.1 1284.5,507 1285,506.9 1285.5,507 1286,507.2 1286.5,507.4 1287,507.5 1287.5,507.5 1288,507.4 1288.5,507.4 1289,507.3 1289.5,507.3 1290,507.3 1290.5,507.3 1291,507.3 1291.5,507.2 1292,507.2 1292.5,507.1 1293,507.1 1293.5,507 1294,506.9 1294.5,507 1295,507.1 1295.5,507.2 1296,507.3 1296.5,507.3 1297,507.3 1297.5,507.3 1298,507.4 1298.5,507.4 1299,507.4 1299.5,507.4 1300,507.4 1300.5,507.3 1301,507.1 1301.5,507 1302,507.1 1302.5,507.1 1303,507.1 1303.5,507.1 1304,507.2 1304.5,507.2 1305,507.2 1305.5,507.1 1306,507 1306.5,506.9 1307,506.9 1307.5,506.9 1308,507 1308.5,507 1309,507 1309.5,506.8 1310,506.5 1310.5,506.2 1311,505.7 1311.5,505.2 1312,504.5 1312.5,503.7 1313,502.9 1313.5,501.9 1314,500.9 1314.5,499.8 1315,499 1315.5,498.6 1316,498.6 1316.5,498.9 1317,499.4 1317.5,500.1 1318,501 1318.5,501.9 1319,502.9 1319.5,503.8 1320,504.6 1320.5,505.2 1321,505.8 1321.5,506.2 1322,506.5 1322.5,506.7 1323,506.7 1323.5,506.8 1324,506.8 1324.5,506.8 1325,506.9 1325.5,507 1326,507.2 1326.5,507.3 1327,507.4 1327.5,507.4 1328,507.3 1328.5,507.3 1329,507.2 1329.5,507.1 1330,507.1 1330.5,507.1 1331,507.2 1331.5,507.3 1332,507.3 1332.5,507.3 1333,507.3 1333.5,507.3 1334,507.4 1334.5,507.5 1335,507.6 1335.5,507.5 1336,507.4 1336.5,507.3 1337,507.2 1337.5,507.2 1338,507.1 1338.5,507.1 1339,507 1339.5,507 1340,507 1340.5,507.1 1341,507.2 1341.5,507.2 1342,507.3 1342.5,507.3 1343,507.4 1343.5,507.5 1344,507.4 1344.5,507.4 1345,507.4 1345.5,507.4 1346,507.3 1346.5,507.3 1347,507.3 1347.5,507.3 1348,507.2 1348.5,507.1 1349,507.1 1349.5,507.2 1350,507.4 1350.5,507.5 1351,507.6 1351.5,507.5 1352,507.4 1352.5,507.4 1353,507.4 1353.5,507.4 1354,507.3 1354.5,507.2 1355,507.2" fill="none" stroke="#008000" stroke-width="9" stroke-linejoin="round" stroke-linecap="butt"/>
<polyline points="189.5,732 190,732.3 190.5,732.4 191,732.4 191.5,732.3 192,732.2 192.5,732.2 193,732.1 193.5,732 194,731.8 194.5,731.7 195,731.6 195.5,731.5 196,731.3 196.5,731.1 197,730.9 197.5,730.7 198,730.5 198.5,730.4 199,730.4 199.5,730.5 200,730.4 200.5,729.9 201,729 201.5,727.7 202,726.3 202.5,725 203,723.8 203.5,722.9 204,721.9 204.5,720.7 205,719.5 205.5,718.4 206,717.4 206.5,717 207,717.1 207.5,717.8 208,718.7 208.5,719.9 209,721.2 209.5,722.4 210,723.3 210.5,723.7 211,723.6 211.5,723.1 212,722.2 212.5,720.8 213,718.6 213.5,715.5 214,711.5 214.5,706.8 215,701.5 215.5,696.1 216,690.6 216.5,685.2 217,680.1 217.5,675.4 218,671 218.5,667.1 219,663.5 219.5,660.3 220,657.4 220.5,655 221,653.2 221.5,651.8 222,650.9 222.5,650.8 223,651.4 223.5,652.9 224,655 224.5,657.4 225,660.2 225.5,663.3 226,666.9 226.5,670.9 227,675.5 227.5,680.4 228,685.3 228.5,689.8 229,693.8 229.5,697.4 230,700.8 230.5,704.2 231,708 231.5,712.3 232,717.2 232.5,722.6 233,727.9 233.5,732.7 234,736.7 234.5,739.7 235,741.7 235.5,742.9 236,743.5 236.5,743.2 237,742.1 237.5,740.1 238,737.1 238.5,733.8 239,730.8 239.5,728.4 240,727.1 240.5,726.8 241,727.4 241.5,728.3 242,729.2 242.5,729.8 243,730.3 243.5,730.6 244,730.8 244.5,730.9 245,731 245.5,731 246,730.9 246.5,730.7 247,730.5 247.5,730.3 248,730.2 248.5,730.3 249,730.4 249.5,730.5 250,730.4 250.5,730.2 251,730 251.5,729.9 252,729.8 252.5,729.6 253,729.3 253.5,729.1 254,728.9 254.5,729 255,729.2 255.5,729.5 256,729.6 256.5,729.6 257,729.3 257.5,729 258,728.7 258.5,728.6 259,728.7 259.5,729 260,729.4 260.5,729.6 261,729.7 261.5,729.6 262,729.4 262.5,729.2 263,729.1 263.5,729 264,729 264.5,729.1 265,729.2 265.5,729.4 266,729.7 266.5,729.9 267,730.1 267.5,730.3 268,730.5 268.5,730.5 269,730.4 269.5,730.2 270,730 270.5,729.7 271,729.5 271.5,729.3 272,729.2 272.5,729 273,728.8 273.5,728.6 274,728.5 274.5,728.5 275,728.8 275.5,729 276,729.1 276.5,729.2 277,729.2 277.5,729.2 278,729.1 278.5,729 279,728.9 279.5,728.8 280,728.8 280.5,728.9 281,729 281.5,729.1 282,729.2 282.5,729.3 283,729.2 283.5,729.1 284,729 284.5,728.8 285,728.8 285.5,728.7 286,728.6 286.5,728.5 287,728.5 287.5,728.3 288,728.2 288.5,728 289,727.8 289.5,727.6 290,727.6 290.5,727.7 291,728 291.5,728.1 292,728.2 292.5,728.1 293,727.9 293.5,727.5 294,727.2 294.5,726.8 295,726.6 295.5,726.4 296,726.4 296.5,726.2 297,726.1 297.5,726 298,725.9 298.5,725.8 299,725.8 299.5,725.8 300,725.8 300.5,725.7 301,725.5 301.5,725.3 302,725.1 302.5,724.9 303,724.6 303.5,724.3 304,723.9 304.5,723.5 305,723.1 305.5,722.8 306,722.5 306.5,722.2 307,722 307.5,721.9 308,721.9 308.5,721.9 309,721.7 309.5,721.4 310,721 310.5,720.7 311,720.7 311.5,720.8 312,721 312.5,721.2 313,721.3 313.5,721.2 314,720.8 314.5,720.3 315,719.8 315.5,719.5 316,719.4 316.5,719.5 317,719.5 317.5,719.5 318,719.5 318.5,719.6 319,719.7 319.5,719.8 320,719.8 320.5,719.7 321,719.3 321.5,718.9 322,718.5 322.5,718.1 323,717.8 323.5,717.6 324,717.6 324.5,717.6 325,717.7 325.5,717.8 326,717.8 326.5,717.8 327,717.7 327.5,717.5 328,717.4 328.5,717.4 329,717.5 329.5,717.6 330,717.5 330.5,717.2 331,716.9 331.5,716.7 332,716.7 332.5,716.7 333,716.8 333.5,716.9 334,717 334.5,717 335,717 335.5,716.9 336,716.8 336.5,716.5 337,716.3 337.5,715.9 338,715.6 338.5,715.4 339,715.1 339.5,714.9 340,714.6 340.5,714.3 341,714.1 341.5,714 342,714 342.5,714.1 343,714.3 343.5,714.4 344,714.4 344.5,714.1 345,713.6 345.5,713.1 346,712.6 346.5,712.2 347,712 347.5,712 348,712.2 348.5,712.5 349,712.8 349.5,713 350,712.8 350.5,712.5 351,712.2 351.5,712 352,712 352.5,712 353,712.1 353.5,712.1 354,712.2 354.5,712.2 355,712.3 355.5,712.4 356,712.4 356.5,712.3 357,712.3 357.5,712.3 358,712.2 358.5,711.9 359,711.5 359.5,711.3 360,711.2 360.5,711.2 361,711.2 361.5,711.1 362,710.9 362.5,710.8 363,710.8 363.5,710.9 364,710.8 364.5,710.6 365,710.3 365.5,709.9 366,709.5 366.5,709.1 367,708.5 367.5,708 368,707.4 368.5,707 369,706.9 369.5,706.9 370,707 370.5,707.1 371,707.1 371.5,707 372,707 372.5,707 373,707.2 373.5,707.3 374,707.2 374.5,707.1 375,706.9 375.5,706.9 376,706.8 376.5,706.8 377,706.9 377.5,707 378,707.2 378.5,707.2 379,707.2 379.5,706.9 380,706.6 380.5,706.3 381,706.1 381.5,706.2 382,706.4 382.5,706.6 383,706.8 383.5,706.9 384,706.8 384.5,706.5 385,706.2 385.5,705.8 386,705.6 386.5,705.5 387,705.5 387.5,705.3 388,705.1 388.5,704.8 389,704.6 389.5,704.4 390,704.3 390.5,704.2 391,704.2 391.5,704 392,703.7 392.5,703.3 393,702.7 393.5,701.9 394,701 394.5,699.8 395,698.6 395.5,697.3 396,696.1 396.5,695.1 397,694.3 397.5,693.5 398,692.5 398.5,691.2 399,689.8 399.5,688.3 400,687 400.5,685.8 401,684.9 401.5,684.2 402,683.5 402.5,682.8 403,682.1 403.5,681.5 404,681 404.5,680.7 405,680.6 405.5,680.7 406,681 406.5,681.5 407,682.1 407.5,682.8 408,683.6 408.5,684.5 409,685.7 409.5,687 410,688.6 410.5,690.3 411,692 411.5,693.8 412,695.4 412.5,696.7 413,697.7 413.5,698.3 414,698.5 414.5,698.2 415,697.5 415.5,696.6 416,695.5 416.5,694.1 417,692.3 417.5,690.2 418,687.7 418.5,684.8 419,681.7 419.5,678.6 420,675.6 420.5,673 421,670.6 421.5,668.6 422,666.9 422.5,665.3 423,663.8 423.5,662.4 424,661.3 424.5,660.6 425,660.4 425.5,660.5 426,660.9 426.5,661.4 427,662.1 427.5,663.1 428,664.4 428.5,665.9 429,667.5 429.5,669.4 430,671.4 430.5,673.7 431,676.2 431.5,678.8 432,681.3 432.5,683.5 433,685.4 433.5,687.1 434,688.9 434.5,690.6 435,692.2 435.5,693.6 436,694.9 436.5,696.1 437,697.3 437.5,698.3 438,699.1 438.5,699.7 439,700.1 439.5,700.1 440,699.6 440.5,698.7 441,697.3 441.5,695.6 442,693.7 442.5,691.7 443,689.2 443.5,686 444,682 444.5,677.3 445,672.1 445.5,666.6 446,661 446.5,655.5 447,650.1 447.5,644.8 448,639.6 448.5,634.3 449,628.9 449.5,623.8 450,619.2 450.5,615 451,611.4 451.5,608.1 452,605.2 452.5,602.4 453,600 453.5,597.9 454,596.3 454.5,595.3 455,595 455.5,595.4 456,596.5 456.5,598.2 457,600.4 457.5,602.8 458,605.5 458.5,608.7 459,612.3 459.5,616.5 460,621.2 460.5,626.5 461,631.9 461.5,637.3 462,642.3 462.5,646.9 463,651 463.5,654.8 464,658.3 464.5,661.7 465,664.7 465.5,667.1 466,668.8 466.5,669.7 467,669.9 467.5,669.5 468,668.7 468.5,667.6 469,666.3 469.5,664.9 470,663.3 470.5,661.6 471,659.8 471.5,658 472,656.2 472.5,654.5 473,652.8 473.5,651.2 474,649.9 474.5,648.9 475,648.3 475.5,648 476,648 476.5,648.2 477,648.4 477.5,648.8 478,649.2 478.5,649.7 479,650.3 479.5,650.6 480,650.7 480.5,650.5 481,650.1 481.5,649.5 482,648.7 482.5,647.7 483,646.5 483.5,645.2 484,643.8 484.5,642.2 485,640.6 485.5,638.9 486,637.2 486.5,635.4 487,633.7 487.5,632.1 488,630.8 488.5,629.6 489,628.5 489.5,627.6 490,627 490.5,626.6 491,626.4 491.5,626.5 492,626.8 492.5,627.5 493,628.5 493.5,630 494,631.8 494.5,634.1 495,636.6 495.5,639.4 496,642.6 496.5,646.1 497,649.8 497.5,653.6 498,657.6 498.5,661.4 499,665.1 499.5,668.7 500,672.2 500.5,675.6 501,678.7 501.5,681.2 502,683.1 502.5,684.2 503,684.8 503.5,685.1 504,685.3 504.5,685.4 505,685.7 505.5,686 506,686.5 506.5,687 507,687.5 507.5,688 508,688.3 508.5,688.5 509,688.5 509.5,688.5 510,688.6 510.5,688.7 511,688.9 511.5,689.2 512,689.4 512.5,689.7 513,690.2 513.5,690.9 514,691.6 514.5,692.3 515,692.8 515.5,693.2 516,693.4 516.5,693.5 517,693.6 517.5,693.8 518,694.1 518.5,694.7 519,695.4 519.5,696.1 520,696.7 520.5,697.1 521,697.3 521.5,697.3 522,697 522.5,696.6 523,696.2 523.5,695.7 524,695.4 524.5,695.3 525,695.4 525.5,695.6 526,695.8 526.5,696 527,696.1 527.5,696.2 528,696.4 528.5,696.5 529,696.6 529.5,696.6 530,696.6 530.5,696.7 531,696.7 531.5,696.6 532,696.6 532.5,696.5 533,696.6 533.5,696.9 534,697.6 534.5,698.4 535,699.2 535.5,700 536,700.5 536.5,700.9 537,701.4 537.5,702.1 538,703 538.5,703.9 539,704.7 539.5,705.3 540,705.6 540.5,705.9 541,706.1 541.5,706.3 542,706.5 542.5,706.4 543,706 543.5,705.3 544,704.7 544.5,704.3 545,704.3 545.5,704.3 546,704.3 546.5,704.2 547,704 547.5,704 548,704.3 548.5,704.9 549,705.9 549.5,707.3 550,708.8 550.5,710.6 551,712.7 551.5,715 552,717.5 552.5,719.6 553,720.8 553.5,720.6 554,718.8 554.5,715.6 555,710.9 555.5,704.4 556,696.1 556.5,686 557,674.6 557.5,662.6 558,650.7 558.5,639.3 559,628.6 559.5,618.2 560,608 560.5,598.4 561,589.4 561.5,581.2 562,573.8 562.5,567.3 563,561.8 563.5,557.6 564,554.6 564.5,552.7 565,551.8 565.5,551.4 566,551.5 566.5,552 567,553 567.5,554.2 568,555.7 568.5,557.7 569,560.1 569.5,563.1 570,566.5 570.5,570 571,573.5 571.5,576.8 572,580 572.5,583 573,585.9 573.5,588.5 574,590.9 574.5,593 575,594.7 575.5,595.9 576,596.5 576.5,596.5 577,595.9 577.5,595.1 578,594.2 578.5,593.5 579,593 579.5,592.5 580,592.1 580.5,591.8 581,591.5 581.5,591.5 582,592 582.5,593.1 583,594.9 583.5,597.6 584,601.2 584.5,606 585,612.2 585.5,619.8 586,628.7 586.5,638.5 587,648.6 587.5,658.5 588,667.7 588.5,675.9 589,682.9 589.5,688.7 590,693.3 590.5,696.9 591,699.4 591.5,700.7 592,700.8 592.5,699.7 593,698 593.5,696.3 594,694.5 594.5,692.8 595,691.4 595.5,690.3 596,689.6 596.5,689.2 597,689.2 597.5,689.6 598,690.4 598.5,691.5 599,693 599.5,694.5 600,695.9 600.5,697.3 601,698.7 601.5,700.2 602,701.7 602.5,703.2 603,704.7 603.5,706 604,707.4 604.5,708.8 605,710.1 605.5,711.4 606,712.5 606.5,713.6 607,714.6 607.5,715.6 608,716.5 608.5,717.5 609,718.5 609.5,719.3 610,720 610.5,720.4 611,720.7 611.5,720.8 612,720.9 612.5,721 613,721.2 613.5,721.5 614,721.9 614.5,722.2 615,722.5 615.5,722.8 616,723.1 616.5,723.5 617,724.1 617.5,724.9 618,725.8 618.5,726.7 619,727.5 619.5,727.9 620,727.6 620.5,726.6 621,724.9 621.5,722.6 622,720.1 622.5,717.6 623,715.1 623.5,712.6 624,709.8 624.5,706.6 625,703.2 625.5,699.8 626,696.4 626.5,693.1 627,690 627.5,687 628,684.2 628.5,681.9 629,680.2 629.5,679.1 630,678.5 630.5,678 631,677.6 631.5,677.4 632,677.5 632.5,677.9 633,678.6 633.5,679.6 634,681 634.5,682.8 635,685.1 635.5,687.9 636,691.1 636.5,694.5 637,698.1 637.5,701.9 638,705.9 638.5,710.1 639,714.4 639.5,718.4 640,722 640.5,725 641,727.6 641.5,729.9 642,731.9 642.5,733.8 643,735.5 643.5,736.8 644,737.6 644.5,737.7 645,737.4 645.5,736.7 646,735.9 646.5,735.1 647,734.3 647.5,733.7 648,733.2 648.5,732.9 649,732.9 649.5,733 650,733.3 650.5,733.7 651,734.1 651.5,734.5 652,734.7 652.5,735 653,735.3 653.5,735.8 654,736.2 654.5,736.5 655,736.5 655.5,736.4 656,736.2 656.5,736.2 657,736.3 657.5,736.6 658,736.8 658.5,737.1 659,737.4 659.5,737.8 660,738.3 660.5,738.6 661,738.8 661.5,738.8 662,738.6 662.5,738.3 663,738 663.5,737.8 664,737.6 664.5,737.6 665,737.7 665.5,738 666,738.1 666.5,738.1 667,738 667.5,738 668,738 668.5,738.2 669,738.5 669.5,738.9 670,739.1 670.5,739.3 671,739.4 671.5,739.4 672,739.4 672.5,739.3 673,739.3 673.5,739.1 674,738.9 674.5,738.7 675,738.5 675.5,738.4 676,738.4 676.5,738.4 677,738.4 677.5,738.3 678,738.2 678.5,738.3 679,738.3 679.5,738.4 680,738.3 680.5,738.2 681,738 681.5,738 682,738 682.5,738 683,738.1 683.5,738.2 684,738.4 684.5,738.3 685,738.1 685.5,737.8 686,737.5 686.5,737.3 687,737.3 687.5,737.2 688,737.1 688.5,736.9 689,736.6 689.5,736.4 690,736 690.5,735.7 691,735.3 691.5,734.8 692,734.1 692.5,733.4 693,732.5 693.5,731.5 694,730.6 694.5,729.7 695,728.6 695.5,727.4 696,726 696.5,724.6 697,723.3 697.5,722.1 698,720.8 698.5,719.3 699,717.6 699.5,716 700,714.7 700.5,713.5 701,712.5 701.5,711.5 702,710.6 702.5,709.8 703,709.1 703.5,708.6 704,708.4 704.5,708.4 705,708.5 705.5,708.7 706,709.2 706.5,709.7 707,710.4 707.5,711.3 708,712.3 708.5,713.5 709,714.9 709.5,716.2 710,717.6 710.5,719.1 711,720.7 711.5,722.6 712,724.7 712.5,726.9 713,728.8 713.5,730.5 714,731.9 714.5,733 715,734.1 715.5,734.9 716,735.6 716.5,736 717,736 717.5,735.6 718,735.2 718.5,734.8 719,734.5 719.5,734.4 720,734.3 720.5,734.4 721,734.5 721.5,734.6 722,734.6 722.5,734.4 723,734.2 723.5,734.1 724,734.2 724.5,734.5 725,735 725.5,735.5 726,736 726.5,736.5 727,736.9 727.5,737.3 728,737.7 728.5,737.9 729,738 729.5,738 730,737.8 730.5,737.6 731,737.3 731.5,737.2 732,737 732.5,737 733,736.9 733.5,736.9 734,736.9 734.5,737 735,737 735.5,737.1 736,737.3 736.5,737.3 737,737.2 737.5,737 738,736.7 738.5,736.4 739,736.1 739.5,735.9 740,735.7 740.5,735.8 741,736 741.5,736.2 742,736.3 742.5,736.2 743,736.1 743.5,736.1 744,736.1 744.5,736.1 745,736.1 745.5,736.2 746,736.2 746.5,736.3 747,736.4 747.5,736.6 748,736.8 748.5,737 749,737.2 749.5,737.3 750,737.2 750.5,736.9 751,736.6 751.5,736.4 752,736.4 752.5,736.3 753,736.4 753.5,736.5 754,736.6 754.5,736.7 755,736.7 755.5,736.6 756,736.5 756.5,736.4 757,736.4 757.5,736.4 758,736.5 758.5,736.4 759,736.3 759.5,736.1 760,735.8 760.5,735.6 761,735.3 761.5,735.1 762,735 762.5,735 763,735 763.5,735.1 764,735.1 764.5,735.1 765,735.1 765.5,735.2 766,735.3 766.5,735.4 767,735.6 767.5,735.9 768,736.1 768.5,736.2 769,736.3 769.5,736.2 770,736.1 770.5,736 771,735.8 771.5,735.7 772,735.6 772.5,735.6 773,735.4 773.5,735.2 774,735 774.5,734.8 775,734.9 775.5,735.2 776,735.6 776.5,735.8 777,735.9 777.5,735.9 778,735.7 778.5,735.5 779,735.3 779.5,735 780,734.9 780.5,734.9 781,735.1 781.5,735.2 782,735.1 782.5,734.9 783,734.6 783.5,734.4 784,734.3 784.5,734.4 785,734.6 785.5,734.9 786,735.3 786.5,735.8 787,736.2 787.5,736.6 788,736.7 788.5,736.7 789,736.3 789.5,735.5 790,734.4 790.5,733.1 791,731.6 791.5,730 792,727.9 792.5,725.1 793,721.7 793.5,717.6 794,713.1 794.5,708.4 795,703.8 795.5,699.3 796,695 796.5,690.8 797,686.7 797.5,682.6 798,678.8 798.5,675.3 799,672.2 799.5,669.4 800,666.8 800.5,664.6 801,662.7 801.5,661.1 802,659.9 802.5,659.1 803,658.5 803.5,658.1 804,658.2 804.5,658.7 805,659.8 805.5,661.3 806,663 806.5,665 807,667.3 807.5,670.1 808,673.1 808.5,676.6 809,680.4 809.5,684.3 810,688.1 810.5,691.8 811,695.2 811.5,698.5 812,701.6 812.5,704.8 813,707.8 813.5,710.7 814,713.2 814.5,715.4 815,717 815.5,718.1 816,718.7 816.5,718.9 817,718.8 817.5,718.5 818,718 818.5,717.3 819,716.6 819.5,716 820,715.4 820.5,714.7 821,714 821.5,713.1 822,712.3 822.5,711.6 823,711 823.5,710.6 824,710.3 824.5,710 825,709.8 825.5,709.6 826,709.4 826.5,709.3 827,709.4 827.5,709.5 828,709.7 828.5,710 829,710.5 829.5,711.2 830,711.9 830.5,712.7 831,713.4 831.5,714 832,714.6 832.5,715.1 833,715.7 833.5,716.3 834,717 834.5,717.7 835,718.5 835.5,719.3 836,720.2 836.5,721 837,721.7 837.5,722.1 838,722.3 838.5,722.2 839,721.8 839.5,721.2 840,720.4 840.5,719.4 841,718.3 841.5,717 842,715.5 842.5,713.7 843,711.6 843.5,709.1 844,706.3 844.5,703.3 845,700.3 845.5,697.6 846,695.1 846.5,693 847,691.2 847.5,689.5 848,687.9 848.5,686.5 849,685.3 849.5,684.3 850,683.7 850.5,683.6 851,683.9 851.5,684.8 852,686.1 852.5,688 853,690.1 853.5,692.4 854,694.8 854.5,697.6 855,700.7 855.5,704.1 856,707.5 856.5,710.8 857,713.6 857.5,716.1 858,718.4 858.5,720.3 859,721.9 859.5,723.4 860,724.9 860.5,726.4 861,728 861.5,729.5 862,730.8 862.5,731.7 863,732.2 863.5,732.4 864,732.5 864.5,732.5 865,732.7 865.5,733.1 866,733.4 866.5,733.8 867,734.2 867.5,734.5 868,734.9 868.5,735.4 869,735.8 869.5,736.2 870,736.3 870.5,736.3 871,736.4 871.5,736.6 872,736.8 872.5,736.8 873,736.7 873.5,736.5 874,736.2 874.5,736.1 875,736.1 875.5,736 876,736 876.5,736 877,736.1 877.5,736.3 878,736.5 878.5,736.6 879,736.6 879.5,736.5 880,736.3 880.5,736.2 881,736.1 881.5,735.8 882,735.4 882.5,735 883,734.9 883.5,734.9 884,735 884.5,735.2 885,735.2 885.5,735.2 886,735.1 886.5,735 887,735 887.5,734.9 888,734.7 888.5,734.4 889,734.1 889.5,734.1 890,734.2 890.5,734.5 891,734.8 891.5,735 892,735.1 892.5,735 893,734.8 893.5,734.6 894,734.4 894.5,734.3 895,734.3 895.5,734.5 896,734.6 896.5,734.6 897,734.5 897.5,734.4 898,734.2 898.5,733.9 899,733.5 899.5,733.1 900,732.6 900.5,732.1 901,731.7 901.5,731.2 902,730.7 902.5,730 903,729.2 903.5,728.5 904,727.8 904.5,727.1 905,726.7 905.5,726.3 906,726 906.5,725.5 907,725 907.5,724.6 908,724.4 908.5,724.5 909,724.8 909.5,725.2 910,725.5 910.5,725.7 911,725.7 911.5,725.7 912,725.8 912.5,726 913,726.2 913.5,726.3 914,726 914.5,725.2 915,723.8 915.5,721.9 916,719.6 916.5,717.2 917,714.4 917.5,711.2 918,707.9 918.5,704.5 919,701.2 919.5,698.1 920,695.2 920.5,692.4 921,689.9 921.5,687.8 922,686.3 922.5,685.5 923,685.2 923.5,685.4 924,685.8 924.5,686.4 925,686.9 925.5,687.1 926,687.1 926.5,687.1 927,687.3 927.5,687.6 928,688.2 928.5,688.8 929,689.3 929.5,689.5 930,689.4 930.5,689.1 931,688.6 931.5,687.9 932,686.8 932.5,685.6 933,684.2 933.5,682.5 934,680.4 934.5,677.8 935,674.7 935.5,671 936,667.1 936.5,663.3 937,659.6 937.5,656.3 938,653.3 938.5,650.7 939,648.3 939.5,646 940,644 940.5,642.2 941,640.8 941.5,639.7 942,638.9 942.5,638.3 943,638 943.5,638 944,638.5 944.5,639.4 945,640.4 945.5,641.6 946,643 946.5,645 947,647.5 947.5,650.7 948,654.5 948.5,658.6 949,662.8 949.5,667.1 950,671.4 950.5,675.9 951,680.3 951.5,684.5 952,688.4 952.5,691.9 953,694.8 953.5,697.3 954,699.4 954.5,701.1 955,702.6 955.5,703.9 956,705 956.5,706.1 957,707.1 957.5,708 958,709.1 958.5,710.3 959,711.4 959.5,712.3 960,713 960.5,713.5 961,714 961.5,714.5 962,714.9 962.5,715.2 963,715.6 963.5,716.1 964,716.7 964.5,717.4 965,718 965.5,718.5 966,718.9 966.5,719.2 967,719.5 967.5,719.9 968,720.6 968.5,721.5 969,722.2 969.5,722.7 970,722.8 970.5,722.7 971,722.6 971.5,722.8 972,723.2 972.5,723.7 973,724.1 973.5,724.5 974,724.7 974.5,724.9 975,725 975.5,725.1 976,725.3 976.5,725.5 977,725.6 977.5,725.7 978,725.7 978.5,725.7 979,725.8 979.5,725.8 980,725.9 980.5,725.9 981,725.8 981.5,725.5 982,725 982.5,724.4 983,724 983.5,723.7 984,723.5 984.5,723.4 985,723.2 985.5,723.1 986,722.8 986.5,722.5 987,722.1 987.5,721.4 988,720.6 988.5,719.4 989,718.1 989.5,716.5 990,714.9 990.5,713.2 991,711.5 991.5,709.7 992,707.7 992.5,705.3 993,702.7 993.5,699.9 994,697.2 994.5,694.7 995,692.5 995.5,690.3 996,688.2 996.5,686.2 997,684.3 997.5,682.8 998,681.6 998.5,680.7 999,680 999.5,679.7 1000,679.8 1000.5,680.5 1001,681.8 1001.5,683.4 1002,685.2 1002.5,687.3 1003,689.8 1003.5,692.6 1004,695.7 1004.5,699.1 1005,702.6 1005.5,706 1006,708.9 1006.5,711.4 1007,713.7 1007.5,715.8 1008,718.1 1008.5,720.3 1009,722.3 1009.5,723.6 1010,724.2 1010.5,724.3 1011,724.2 1011.5,724.2 1012,724.4 1012.5,724.9 1013,725.5 1013.5,726 1014,726.3 1014.5,726.2 1015,726.1 1015.5,726 1016,726.2 1016.5,726.6 1017,726.9 1017.5,727.1 1018,727.1 1018.5,727.1 1019,726.9 1019.5,726.7 1020,726.3 1020.5,725.8 1021,725.3 1021.5,724.7 1022,724.1 1022.5,723.4 1023,722.8 1023.5,722.1 1024,721.5 1024.5,721 1025,720.5 1025.5,720.2 1026,719.9 1026.5,719.7 1027,719.4 1027.5,719.1 1028,718.9 1028.5,718.7 1029,718.4 1029.5,718 1030,717.7 1030.5,717.7 1031,718 1031.5,718.5 1032,719.1 1032.5,719.7 1033,720.4 1033.5,721 1034,721.5 1034.5,722.1 1035,722.9 1035.5,723.9 1036,724.9 1036.5,725.9 1037,726.7 1037.5,727.5 1038,728.4 1038.5,729.5 1039,730.7 1039.5,731.8 1040,732.7 1040.5,733.5 1041,734 1041.5,734.5 1042,735 1042.5,735.5 1043,736.1 1043.5,736.6 1044,737 1044.5,737.3 1045,737.4 1045.5,737.3 1046,737.2 1046.5,737.1 1047,737.1 1047.5,737.1 1048,737.1 1048.5,737.2 1049,737.3 1049.5,737.4 1050,737.4 1050.5,737.3 1051,737.4 1051.5,737.5 1052,737.8 1052.5,738.1 1053,738.3 1053.5,738.3 1054,738.2 1054.5,738.1 1055,738 1055.5,738 1056,738.2 1056.5,738.4 1057,738.7 1057.5,738.9 1058,739.1 1058.5,739.2 1059,739.4 1059.5,739.5 1060,739.7 1060.5,739.9 1061,739.9 1061.5,739.8 1062,739.6 1062.5,739.3 1063,739.2 1063.5,739 1064,738.9 1064.5,738.7 1065,738.3 1065.5,737.7 1066,737.1 1066.5,736.5 1067,735.8 1067.5,735.3 1068,735 1068.5,734.8 1069,734.7 1069.5,734.8 1070,735 1070.5,735.1 1071,735.1 1071.5,734.9 1072,734.5 1072.5,734 1073,733.5 1073.5,733 1074,732.7 1074.5,732.5 1075,732.6 1075.5,732.6 1076,732.7 1076.5,732.8 1077,732.9 1077.5,733.2 1078,733.5 1078.5,733.8 1079,734 1079.5,734.2 1080,734.4 1080.5,734.8 1081,735.3 1081.5,735.7 1082,736.2 1082.5,736.6 1083,737 1083.5,737.4 1084,737.7 1084.5,738.1 1085,738.4 1085.5,738.7 1086,738.9 1086.5,739 1087,739.2 1087.5,739.5 1088,740 1088.5,740.4 1089,740.7 1089.5,740.9 1090,740.9 1090.5,740.7 1091,740.5 1091.5,740.2 1092,740 1092.5,740 1093,740.2 1093.5,740.6 1094,741.1 1094.5,741.6 1095,742 1095.5,742.3 1096,742.6 1096.5,742.8 1097,742.8 1097.5,742.6 1098,742.3 1098.5,742 1099,741.8 1099.5,741.8 1100,741.7 1100.5,741.6 1101,741.2 1101.5,740.9 1102,740.9 1102.5,741.1 1103,741.6 1103.5,742 1104,742.4 1104.5,742.7 1105,743 1105.5,743.1 1106,743 1106.5,742.9 1107,742.8 1107.5,742.8 1108,742.8 1108.5,742.8 1109,742.7 1109.5,742.6 1110,742.6 1110.5,742.7 1111,742.8 1111.5,742.8 1112,742.7 1112.5,742.4 1113,742.2 1113.5,742 1114,741.9 1114.5,742 1115,742.1 1115.5,742.3 1116,742.4 1116.5,742.3 1117,742.1 1117.5,742 1118,742 1118.5,742.2 1119,742.4 1119.5,742.5 1120,742.4 1120.5,742.2 1121,742.1 1121.5,742.1 1122,742.2 1122.5,742.4 1123,742.4 1123.5,742.2 1124,742 1124.5,741.8 1125,741.8 1125.5,741.9 1126,742.1 1126.5,742.3 1127,742.2 1127.5,741.9 1128,741.6 1128.5,741.5 1129,741.5 1129.5,741.6 1130,741.6 1130.5,741.3 1131,741 1131.5,740.8 1132,740.9 1132.5,741 1133,741.1 1133.5,741.1 1134,741.1 1134.5,741.1 1135,741.1 1135.5,741.1 1136,741 1136.5,740.9 1137,740.8 1137.5,740.8 1138,740.7 1138.5,740.6 1139,740.6 1139.5,740.6 1140,740.6 1140.5,740.6 1141,740.6 1141.5,740.5 1142,740.3 1142.5,740.1 1143,739.9 1143.5,739.9 1144,739.9 1144.5,739.9 1145,739.8 1145.5,739.6 1146,739.3 1146.5,738.9 1147,738.4 1147.5,738 1148,737.4 1148.5,736.9 1149,736.2 1149.5,735.5 1150,734.7 1150.5,733.9 1151,732.9 1151.5,731.8 1152,730.7 1152.5,729.5 1153,728.4 1153.5,727.5 1154,726.7 1154.5,726 1155,725.4 1155.5,724.8 1156,724.4 1156.5,724 1157,723.7 1157.5,723.3 1158,723.1 1158.5,723 1159,723 1159.5,723 1160,723 1160.5,723 1161,723.1 1161.5,723.3 1162,723.5 1162.5,723.8 1163,724.5 1163.5,725.3 1164,726.3 1164.5,727.3 1165,728.2 1165.5,729 1166,729.8 1166.5,730.6 1167,731.2 1167.5,731.7 1168,732.2 1168.5,732.7 1169,733.2 1169.5,733.8 1170,734.3 1170.5,734.9 1171,735.5 1171.5,736 1172,736.2 1172.5,736.2 1173,736.2 1173.5,736.2 1174,736.4 1174.5,736.6 1175,736.8 1175.5,736.8 1176,736.8 1176.5,736.9 1177,737 1177.5,737.2 1178,737.5 1178.5,737.7 1179,738 1179.5,738.2 1180,738.4 1180.5,738.6 1181,738.6 1181.5,738.6 1182,738.5 1182.5,738.5 1183,738.4 1183.5,738.4 1184,738.4 1184.5,738.4 1185,738.6 1185.5,738.8 1186,739.1 1186.5,739.4 1187,739.6 1187.5,739.7 1188,739.6 1188.5,739.5 1189,739.3 1189.5,739.2 1190,739.2 1190.5,739.3 1191,739.3 1191.5,739.3 1192,739.2 1192.5,738.9 1193,738.8 1193.5,738.7 1194,738.7 1194.5,738.8 1195,738.8 1195.5,738.8 1196,738.8 1196.5,738.7 1197,738.6 1197.5,738.4 1198,738.1 1198.5,737.8 1199,737.6 1199.5,737.3 1200,737.1 1200.5,736.9 1201,736.9 1201.5,736.9 1202,737.1 1202.5,737.5 1203,738 1203.5,738.5 1204,738.9 1204.5,739.3 1205,739.5 1205.5,739.7 1206,739.8 1206.5,739.7 1207,739.6 1207.5,739.7 1208,740.2 1208.5,740.8 1209,741.3 1209.5,741.8 1210,742.1 1210.5,742.5 1211,742.7 1211.5,743 1212,743.2 1212.5,743.3 1213,743.3 1213.5,743.2 1214,743.1 1214.5,743.1 1215,743 1215.5,742.9 1216,742.8 1216.5,742.6 1217,742.5 1217.5,742.4 1218,742.4 1218.5,742.5 1219,742.5 1219.5,742.4 1220,742.4 1220.5,742.3 1221,742.3 1221.5,742.5 1222,742.6 1222.5,742.6 1223,742.6 1223.5,742.5 1224,742.4 1224.5,742.4 1225,742.4 1225.5,742.3 1226,742.1 1226.5,741.8 1227,741.6 1227.5,741.5 1228,741.6 1228.5,741.7 1229,741.8 1229.5,741.9 1230,741.9 1230.5,742 1231,742 1231.5,741.9 1232,741.7 1232.5,741.4 1233,741.1 1233.5,740.9 1234,740.8 1234.5,740.8 1235,740.9 1235.5,741 1236,741 1236.5,740.7 1237,740.4 1237.5,740.1 1238,740 1238.5,740.2 1239,740.3 1239.5,740.4 1240,740.4 1240.5,740.3 1241,740 1241.5,739.8 1242,739.5 1242.5,739.3 1243,739.2 1243.5,739 1244,738.7 1244.5,738.4 1245,738 1245.5,737.6 1246,737.2 1246.5,737 1247,737 1247.5,737 1248,737 1248.5,736.8 1249,736.6 1249.5,736.5 1250,736.4 1250.5,736.5 1251,736.7 1251.5,736.9 1252,736.9 1252.5,736.7 1253,736.4 1253.5,736 1254,735.7 1254.5,735.5 1255,735.1 1255.5,734.7 1256,734.2 1256.5,733.9 1257,733.9 1257.5,733.8 1258,733.6 1258.5,733 1259,732 1259.5,731 1260,730 1260.5,729.3 1261,728.7 1261.5,728.2 1262,727.6 1262.5,726.8 1263,725.8 1263.5,724.6 1264,723.5 1264.5,722.5 1265,721.6 1265.5,720.8 1266,719.9 1266.5,718.8 1267,717.4 1267.5,715.9 1268,714.5 1268.5,713.4 1269,712.4 1269.5,711.6 1270,710.8 1270.5,710 1271,709.2 1271.5,708.6 1272,708.2 1272.5,708 1273,707.8 1273.5,707.5 1274,707.1 1274.5,706.7 1275,706.4 1275.5,706.4 1276,706.7 1276.5,707.3 1277,707.9 1277.5,708.5 1278,708.9 1278.5,709.3 1279,709.7 1279.5,710.2 1280,710.8 1280.5,711.7 1281,712.6 1281.5,713.7 1282,714.9 1282.5,716.2 1283,717.5 1283.5,718.7 1284,719.8 1284.5,720.7 1285,721.6 1285.5,722.4 1286,723.2 1286.5,724.1 1287,724.9 1287.5,725.7 1288,726.6 1288.5,727.5 1289,728.5 1289.5,729.4 1290,730.3 1290.5,731 1291,731.5 1291.5,732 1292,732.4 1292.5,732.9 1293,733.3 1293.5,733.7 1294,734 1294.5,734.3 1295,734.4 1295.5,734.7 1296,735 1296.5,735.4 1297,735.8 1297.5,736.2 1298,736.4 1298.5,736.4 1299,736.3 1299.5,736.2 1300,736.1 1300.5,736 1301,735.9 1301.5,735.7 1302,735.5 1302.5,735.2 1303,734.9 1303.5,734.6 1304,734.4 1304.5,734.1 1305,733.7 1305.5,733 1306,732.1 1306.5,730.9 1307,729.6 1307.5,728.2 1308,726.9 1308.5,725.9 1309,724.9 1309.5,724 1310,722.8 1310.5,721.6 1311,720.3 1311.5,719 1312,717.7 1312.5,716.6 1313,715.7 1313.5,715.2 1314,714.8 1314.5,714.4 1315,713.8 1315.5,713.1 1316,712.2 1316.5,711.5 1317,710.9 1317.5,710.4 1318,710 1318.5,709.8 1319,709.6 1319.5,709.5 1320,709.5 1320.5,709.6 1321,709.7 1321.5,709.9 1322,710.1 1322.5,710.5 1323,711 1323.5,711.8 1324,712.8 1324.5,713.9 1325,715 1325.5,715.9 1326,716.8 1326.5,717.7 1327,718.7 1327.5,719.6 1328,720.5 1328.5,721.3 1329,722.1 1329.5,723 1330,723.9 1330.5,724.8 1331,725.5 1331.5,726 1332,726.6 1332.5,727.3 1333,728.1 1333.5,728.9 1334,729.5 1334.5,729.9 1335,730.2 1335.5,730.6 1336,730.9 1336.5,731.2 1337,731.6 1337.5,731.9 1338,732.4 1338.5,732.9 1339,733.4 1339.5,733.8 1340,733.9 1340.5,734 1341,734 1341.5,734.2 1342,734.2 1342.5,734.1 1343,733.9 1343.5,733.7 1344,733.6 1344.5,733.7 1345,733.8 1345.5,733.7 1346,733.6 1346.5,733.4 1347,733.4 1347.5,733.6 1348,733.8 1348.5,734 1349,734.2 1349.5,734.2 1350,734.2 1350.5,734.1 1351,734.2 1351.5,734.2 1352,734.2 1352.5,734.1 1353,733.8 1353.5,733.5 1354,733.2 1354.5,733.1 1355,733.1" fill="none" stroke="#000080" stroke-width="10.5" stroke-linejoin="round" stroke-linecap="butt"/>
<polyline points="189.5,1007.1 189.8,1008.8 190.1,1008.3 190.4,1006.7 190.7,1007.9 191,1009.1 191.3,1005.8 191.6,1005.2 191.9,1009.1 192.2,1004 192.5,1007.1 192.8,1003.9 193.1,1008.7 193.4,1010 193.7,1010.2 194,1006.1 194.3,1009.7 194.6,1008.5 194.9,1005.2 195.2,1004.3 195.5,1008.1 195.8,1006 196.1,1009.8 196.4,1010.1 196.7,1007.7 197,1008 197.3,1004.3 197.6,1005.4 197.9,1008.9 198.2,1006.5 198.5,1004.9 198.8,1006.6 199.1,1006.2 199.4,1005.7 199.7,1005.7 200,1006.6 200.3,1009.1 200.6,1008.8 200.9,1006.8 201.2,1003.4 201.5,1009.3 201.8,1008 202.1,1004.4 202.4,1009.8 202.7,1007.6 203,1005.4 203.3,1009.7 203.6,1005.8 203.9,1009.9 204.2,1008.6 204.5,1006.1 204.8,1005.9 205.1,1005.6 205.4,1004.9 205.7,1005.4 206,1006 206.3,1005.5 206.6,1006.4 206.9,1005.8 207.2,1009.5 207.5,1007.5 207.8,1004.7 208.1,1007.6 208.4,1005.1 208.7,1008.7 209,1006.4 209.3,1009.8 209.6,1003.9 209.9,1004.3 210.2,1008.3 210.5,1004.5 210.8,1003.4 211.1,1006.8 211.4,1009 211.7,1005.7 212,1006.1 212.3,1002.7 212.6,1008.1 212.9,1009.1 213.2,1002.8 213.5,1003.6 213.8,1003.5 214.1,1008.2 214.4,1009 214.7,1008.7 215,1003.6 215.3,1004.3 215.6,1007.1 215.9,1003.6 216.2,1008.2 216.5,1004.3 216.8,1003.2 217.1,1002.6 217.4,1007.9 217.7,1002 218,1007.5 218.3,1001.2 218.6,1005.8 218.9,1001.5 219.2,1005.1 219.5,1004.1 219.8,1002.4 220.1,995.3 220.4,990.8 220.7,992.5 221,984.4 221.3,974.5 221.6,968.6 221.9,963.6 222.2,950.7 222.5,949.2 222.8,943.1 223.1,947.2 223.4,954.7 223.7,959.7 224,970.4 224.3,975.6 224.6,983.8 224.9,988 225.2,993.4 225.5,996.3 225.8,997.6 226.1,998.8 226.4,1004 226.7,1001.2 227,1000.9 227.3,1007.6 227.6,1002.4 227.9,1002.4 228.2,1006.2 228.5,1004.7 228.8,1007.4 229.1,1006.4 229.4,1006.6 229.7,1007.3 230,1003.6 230.3,1008 230.6,1005.2 230.9,1007.8 231.2,1006.6 231.5,1003.5 231.8,1004.4 232.1,1005.6 232.4,1003.4 232.7,1007.3 233,1004.2 233.3,1007.5 233.6,1010.6 233.9,1010.4 234.2,1009 234.5,1005 234.8,1007.3 235.1,1006.7 235.4,1006 235.7,1010.7 236,1007 236.3,1006.4 236.6,1010.2 236.9,1005.8 237.2,1009.5 237.5,1006.4 237.8,1008.7 238.1,1006.9 238.4,1010.4 238.7,1005.5 239,1010.4 239.3,1004.7 239.6,1004.6 239.9,1010.9 240.2,1006.8 240.5,1008.2 240.8,1005.3 241.1,1011 241.4,1007.9 241.7,1010.3 242,1009.5 242.3,1006.1 242.6,1009.6 242.9,1006.6 243.2,1009.8 243.5,1008.9 243.8,1005.7 244.1,1007.3 244.4,1006.2 244.7,1007.3 245,1011.1 245.3,1005.7 245.6,1007 245.9,1011.7 246.2,1006.8 246.5,1007.8 246.8,1008.4 247.1,1011.3 247.4,1013.2 247.7,1010.1 248,1011.1 248.3,1013.6 248.6,1012.4 248.9,1009.5 249.2,1013 249.5,1009.6 249.8,1008.3 250.1,1009 250.4,1009.6 250.7,1010.5 251,1008.7 251.3,1012.3 251.6,1009.2 251.9,1013 252.2,1012.8 252.5,1012.1 252.8,1013 253.1,1007.7 253.4,1007.1 253.7,1008.6 254,1010.7 254.3,1007.9 254.6,1011.9 254.9,1011.1 255.2,1008 255.5,1008 255.8,1011 256.1,1013.4 256.4,1008 256.7,1012.9 257,1011.3 257.3,1013.9 257.6,1012.7 257.9,1007.8 258.2,1013.7 258.5,1010.8 258.8,1013 259.1,1009.2 259.4,1006.7 259.7,1012.6 260,1007.6 260.3,1007.6 260.6,1012.1 260.9,1012.2 261.2,1011.1 261.5,1011.4 261.8,1010.2 262.1,1009.2 262.4,1006.7 262.7,1006.9 263,1011.4 263.3,1010.4 263.6,1007.6 263.9,1006 264.2,1006 264.5,1006.8 264.8,1005.8 265.1,1007.1 265.4,1005.5 265.7,1011.7 266,1011.7 266.3,1007.9 266.6,1008 266.9,1007.4 267.2,1006.6 267.5,1011.7 267.8,1007.6 268.1,1012.7 268.4,1009.5 268.7,1008.9 269,1010.3 269.3,1012.3 269.6,1011.1 269.9,1008.3 270.2,1013.2 270.5,1011 270.8,1007.9 271.1,1012.2 271.4,1007.2 271.7,1009.1 272,1009.5 272.3,1007.1 272.6,1008.8 272.9,1013.1 273.2,1011.2 273.5,1008.3 273.8,1007.5 274.1,1012 274.4,1009.3 274.7,1007.7 275,1013.2 275.3,1007.8 275.6,1012.5 275.9,1011.4 276.2,1007 276.5,1008.7 276.8,1012.3 277.1,1011.1 277.4,1007.4 277.7,1008 278,1009.7 278.3,1007.1 278.6,1008.5 278.9,1011.2 279.2,1007 279.5,1012.1 279.8,1010.5 280.1,1012.5 280.4,1012 280.7,1009.9 281,1007.2 281.3,1008.2 281.6,1008.3 281.9,1011.4 282.2,1010.8 282.5,1008.1 282.8,1007.2 283.1,1011.7 283.4,1012.6 283.7,1012.2 284,1011.4 284.3,1007.2 284.6,1006.7 284.9,1011 285.2,1010 285.5,1007.2 285.8,1009.1 286.1,1011.9 286.4,1006.2 286.7,1009.8 287,1011.8 287.3,1007.6 287.6,1012.3 287.9,1007.2 288.2,1007.4 288.5,1006.3 288.8,1007.6 289.1,1009.5 289.4,1009.4 289.7,1012.7 290,1008.3 290.3,1007.4 290.6,1009.8 290.9,1010.4 291.2,1007 291.5,1011.7 291.8,1013 292.1,1008.8 292.4,1010.7 292.7,1012.8 293,1012 293.3,1010.5 293.6,1007.1 293.9,1007.5 294.2,1008.5 294.5,1010.5 294.8,1007.3 295.1,1006.5 295.4,1012.4 295.7,1011.4 296,1010.5 296.3,1010.8 296.6,1011.5 296.9,1011.7 297.2,1006.5 297.5,1007.1 297.8,1012.2 298.1,1008.4 298.4,1006.6 298.7,1010.7 299,1008.9 299.3,1007.4 299.6,1007.8 299.9,1010.7 300.2,1007.2 300.5,1011.5 300.8,1006.2 301.1,1010.7 301.4,1006.4 301.7,1011.5 302,1005.1 302.3,1006.1 302.6,1005.2 302.9,1010.7 303.2,1007.1 303.5,1007.8 303.8,1006.8 304.1,1007.4 304.4,1011.8 304.7,1010.7 305,1008.1 305.3,1006.2 305.6,1006.8 305.9,1008.6 306.2,1008.2 306.5,1011.3 306.8,1011.2 307.1,1008 307.4,1010.6 307.7,1012.9 308,1007.9 308.3,1009.7 308.6,1009.3 308.9,1013.4 309.2,1010.8 309.5,1012.9 309.8,1012.7 310.1,1013.3 310.4,1009 310.7,1012.6 311,1012.3 311.3,1007.1 311.6,1009.8 311.9,1011.3 312.2,1010.9 312.5,1012.5 312.8,1007.7 313.1,1010.9 313.4,1010.5 313.7,1009.5 314,1011.2 314.3,1008 314.6,1010.8 314.9,1009.1 315.2,1008.3 315.5,1007.6 315.8,1010.4 316.1,1012.5 316.4,1007.8 316.7,1012.8 317,1007.5 317.3,1013.8 317.6,1010.3 317.9,1010.1 318.2,1013.5 318.5,1008.5 318.8,1008.4 319.1,1013.8 319.4,1009.3 319.7,1010.2 320,1013.7 320.3,1012.4 320.6,1013 320.9,1014.2 321.2,1008.7 321.5,1010.2 321.8,1007.3 322.1,1013.1 322.4,1013 322.7,1012.1 323,1007.9 323.3,1011.5 323.6,1010.1 323.9,1009.6 324.2,1009.3 324.5,1006.7 324.8,1007.4 325.1,1006.7 325.4,1011.5 325.7,1012.5 326,1007.1 326.3,1011.8 326.6,1007.3 326.9,1006.8 327.2,1007.9 327.5,1011.7 327.8,1006.7 328.1,1007.2 328.4,1012 328.7,1006.8 329,1012.3 329.3,1012.6 329.6,1010.9 329.9,1008.6 330.2,1011.2 330.5,1012 330.8,1007.9 331.1,1007.6 331.4,1009.7 331.7,1011.4 332,1013.8 332.3,1013.3 332.6,1012.3 332.9,1013.4 333.2,1009.9 333.5,1013.8 333.8,1013.1 334.1,1009.6 334.4,1012.1 334.7,1010.2 335,1009.9 335.3,1014.3 335.6,1013.2 335.9,1012 336.2,1014.3 336.5,1014.4 336.8,1008.8 337.1,1008.8 337.4,1014.7 337.7,1009.3 338,1010.3 338.3,1012.1 338.6,1009.8 338.9,1014.9 339.2,1011.4 339.5,1012.7 339.8,1014.2 340.1,1010.7 340.4,1013.6 340.7,1014.6 341,1013.3 341.3,1011.9 341.6,1013.1 341.9,1007.9 342.2,1014 342.5,1012.3 342.8,1008.2 343.1,1010.6 343.4,1012.2 343.7,1009.5 344,1009 344.3,1013.2 344.6,1015 344.9,1011.7 345.2,1013.7 345.5,1010.2 345.8,1014.5 346.1,1015.3 346.4,1013.3 346.7,1011.3 347,1009.1 347.3,1014.3 347.6,1010 347.9,1013.6 348.2,1007.7 348.5,1009.7 348.8,1012.6 349.1,1007.8 349.4,1007.3 349.7,1008.6 350,1011.9 350.3,1009.4 350.6,1011.3 350.9,1012.1 351.2,1007.8 351.5,1008.4 351.8,1010 352.1,1009 352.4,1012.9 352.7,1009.8 353,1012.7 353.3,1013.3 353.6,1013.6 353.9,1014.1 354.2,1013.1 354.5,1010.5 354.8,1008.6 355.1,1010.1 355.4,1013.3 355.7,1014.8 356,1008.4 356.3,1009.2 356.6,1008.7 356.9,1008.6 357.2,1008.8 357.5,1010.9 357.8,1009.7 358.1,1013.7 358.4,1007.2 358.7,1012.7 359,1010.8 359.3,1008 359.6,1012 359.9,1012.7 360.2,1006.3 360.5,1012.6 360.8,1006.4 361.1,1006.7 361.4,1008.2 361.7,1006.6 362,1007.5 362.3,1010.3 362.6,1011.8 362.9,1007.3 363.2,1011.8 363.5,1012.3 363.8,1007.9 364.1,1011 364.4,1007 364.7,1007.7 365,1011.8 365.3,1006.6 365.6,1011.7 365.9,1012.9 366.2,1011.6 366.5,1012 366.8,1006.8 367.1,1007 367.4,1009.7 367.7,1010.5 368,1011.8 368.3,1008 368.6,1006.6 368.9,1008.9 369.2,1012.2 369.5,1008.9 369.8,1006.6 370.1,1010.4 370.4,1010.2 370.7,1009 371,1012.1 371.3,1012 371.6,1006 371.9,1011.6 372.2,1010.3 372.5,1011 372.8,1007.5 373.1,1011.9 373.4,1012.9 373.7,1010.9 374,1007.2 374.3,1011.4 374.6,1012.9 374.9,1012.6 375.2,1010.5 375.5,1007.9 375.8,1007.6 376.1,1010.8 376.4,1007.1 376.7,1009.1 377,1012.5 377.3,1009.9 377.6,1007.7 377.9,1007 378.2,1010.9 378.5,1006.3 378.8,1006.7 379.1,1010.3 379.4,1006.3 379.7,1007.1 380,1012.7 380.3,1011.3 380.6,1007.5 380.9,1012.6 381.2,1013.3 381.5,1008 381.8,1011 382.1,1010.4 382.4,1010 382.7,1011.8 383,1011.9 383.3,1008 383.6,1009.5 383.9,1011.5 384.2,1012.3 384.5,1011.6 384.8,1011.3 385.1,1011.5 385.4,1013.8 385.7,1011.5 386,1007.9 386.3,1012.5 386.6,1009.2 386.9,1013.5 387.2,1007.8 387.5,1012.7 387.8,1010.2 388.1,1013.1 388.4,1008.3 388.7,1012.2 389,1008.3 389.3,1011.9 389.6,1008.6 389.9,1008.2 390.2,1010.3 390.5,1010.2 390.8,1007.3 391.1,1011 391.4,1009.2 391.7,1008.3 392,1006.3 392.3,1012.2 392.6,1011 392.9,1006.3 393.2,1011.5 393.5,1011.9 393.8,1008.8 394.1,1008.6 394.4,1010.7 394.7,1009.9 395,1008.1 395.3,1007.2 395.6,1010.1 395.9,1012.7 396.2,1012.5 396.5,1008.3 396.8,1007.2 397.1,1013 397.4,1010.9 397.7,1007.5 398,1008.9 398.3,1012.9 398.6,1007.6 398.9,1009.8 399.2,1007.6 399.5,1013 399.8,1007.2 400.1,1012.9 400.4,1010.2 400.7,1008.5 401,1007.6 401.3,1010 401.6,1008.4 401.9,1006.3 402.2,1007.3 402.5,1006.8 402.8,1004.3 403.1,1008 403.4,1006.8 403.7,1003.4 404,1004.7 404.3,1003.4 404.6,1005 404.9,1000.7 405.2,1001 405.5,1002.4 405.8,999.5 406.1,1003.1 406.4,1000.4 406.7,998.5 407,1002.3 407.3,1000.4 407.6,1001.8 407.9,996.3 408.2,997.5 408.5,1000.9 408.8,997.1 409.1,1002.7 409.4,1000 409.7,1004.2 410,1002.9 410.3,999.3 410.6,1001.3 410.9,1003.5 411.2,1001.8 411.5,1001.3 411.8,1006.8 412.1,1004.5 412.4,1005.9 412.7,1005.8 413,1004.7 413.3,1008.1 413.6,1004.3 413.9,1009.2 414.2,1008.4 414.5,1004 414.8,1008.9 415.1,1006.5 415.4,1010.1 415.7,1006.4 416,1009.9 416.3,1004.9 416.6,1008.8 416.9,1005.4 417.2,1010.8 417.5,1006.5 417.8,1010.4 418.1,1010.2 418.4,1006.5 418.7,1007.2 419,1011.3 419.3,1007.9 419.6,1005.3 419.9,1010.6 420.2,1009.6 420.5,1009.5 420.8,1005.1 421.1,1007.3 421.4,1005.2 421.7,1008 422,1003.3 422.3,1007.1 422.6,1000.1 422.9,1000.5 423.2,995.5 423.5,994.4 423.8,988.1 424.1,980.9 424.4,976.2 424.7,972.6 425,975.9 425.3,974.6 425.6,982.3 425.9,983.1 426.2,992.4 426.5,998 426.8,1001.2 427.1,1000.8 427.4,1007 427.7,1007.6 428,1005.6 428.3,1011.4 428.6,1010.2 428.9,1010.7 429.2,1007.7 429.5,1007.3 429.8,1009.4 430.1,1012.6 430.4,1008.8 430.7,1012.5 431,1007.3 431.3,1012.8 431.6,1013 431.9,1007.2 432.2,1011.1 432.5,1010.3 432.8,1012.6 433.1,1008.9 433.4,1008.8 433.7,1007.9 434,1007.1 434.3,1008.8 434.6,1009.7 434.9,1011.3 435.2,1010.6 435.5,1011.3 435.8,1007.9 436.1,1011.3 436.4,1006 436.7,1011.3 437,1006.1 437.3,1007.4 437.6,1005.1 437.9,1007.4 438.2,1005.4 438.5,1010.2 438.8,1007.6 439.1,1009.9 439.4,1010 439.7,1008.8 440,1006 440.3,1006.8 440.6,1011.7 440.9,1009.2 441.2,1006.2 441.5,1010.8 441.8,1009.8 442.1,1011.7 442.4,1007 442.7,1006.3 443,1008.4 443.3,1006.9 443.6,1011.9 443.9,1009.9 444.2,1011.9 444.5,1009.3 444.8,1010.5 445.1,1011.6 445.4,1011.4 445.7,1011.8 446,1006 446.3,1005.4 446.6,1005.9 446.9,1009.5 447.2,1010 447.5,1007 447.8,1005.9 448.1,1009.8 448.4,1009.1 448.7,1007 449,1009.4 449.3,1003.9 449.6,1006.7 449.9,1001.6 450.2,1002.1 450.5,998.1 450.8,996.3 451.1,996.2 451.4,991.9 451.7,979.6 452,971.2 452.3,950.9 452.6,928.2 452.9,904.5 453.2,879.9 453.5,857.6 453.8,849.2 454.1,858.4 454.4,875.5 454.7,904.7 455,928.4 455.3,952.6 455.6,968.3 455.9,982.3 456.2,989.3 456.5,995.6 456.8,1001.4 457.1,1003.7 457.4,1004.6 457.7,1004 458,1004.7 458.3,1003.1 458.6,1006.2 458.9,1007.3 459.2,1006.7 459.5,1007.8 459.8,1008.9 460.1,1009.7 460.4,1005.7 460.7,1006.8 461,1011.5 461.3,1005.4 461.6,1010.7 461.9,1008 462.2,1009.4 462.5,1008 462.8,1010.4 463.1,1008 463.4,1010.4 463.7,1005.6 464,1005.7 464.3,1010.1 464.6,1009.3 464.9,1007.1 465.2,1007 465.5,1004.1 465.8,1006.2 466.1,1009 466.4,1006.6 466.7,1005.5 467,1003.2 467.3,1003.7 467.6,1006.3 467.9,1004.6 468.2,1001.6 468.5,1002.3 468.8,1003.9 469.1,998.5 469.4,997.7 469.7,1002.4 470,999.9 470.3,996.3 470.6,999.8 470.9,996.3 471.2,992.8 471.5,997.6 471.8,994.5 472.1,994.7 472.4,990.1 472.7,990.2 473,990.5 473.3,990.5 473.6,991.3 473.9,986.2 474.2,985.2 474.5,986 474.8,984.1 475.1,979.2 475.4,982.7 475.7,981.7 476,975.3 476.3,974.6 476.6,977.3 476.9,976.2 477.2,971.3 477.5,973 477.8,969.1 478.1,971.6 478.4,969.2 478.7,968.3 479,965.7 479.3,968.7 479.6,964.5 479.9,961.2 480.2,960.3 480.5,960.5 480.8,960.1 481.1,962.2 481.4,962.6 481.7,962.2 482,961.4 482.3,956 482.6,955.5 482.9,956.6 483.2,958.8 483.5,955 483.8,954.8 484.1,957.3 484.4,957.1 484.7,954.4 485,954.6 485.3,957.3 485.6,957.4 485.9,954 486.2,956.4 486.5,955.4 486.8,956.8 487.1,955.9 487.4,957.4 487.7,952.9 488,954.3 488.3,958.8 488.6,953.3 488.9,956.6 489.2,957.4 489.5,959 489.8,960 490.1,961.7 490.4,957.5 490.7,961.5 491,958 491.3,957.9 491.6,960.5 491.9,958 492.2,963.1 492.5,964.8 492.8,961.1 493.1,959.7 493.4,963.5 493.7,965.2 494,965.3 494.3,964.2 494.6,965.9 494.9,962.8 495.2,965.3 495.5,961.6 495.8,962.9 496.1,966.7 496.4,962 496.7,961.2 497,963.5 497.3,962.2 497.6,964.3 497.9,962.9 498.2,963.1 498.5,964.7 498.8,965 499.1,965.9 499.4,961.1 499.7,961.4 500,961.1 500.3,963.5 500.6,959.8 500.9,963.8 501.2,959.2 501.5,960.7 501.8,960.9 502.1,964.1 502.4,964.9 502.7,959.9 503,964.6 503.3,966.1 503.6,966.4 503.9,962.7 504.2,965.8 504.5,967.1 504.8,964.5 505.1,966.1 505.4,967 505.7,970.3 506,968.6 506.3,972.1 506.6,967.9 506.9,971.9 507.2,971.3 507.5,974.4 507.8,971.9 508.1,973.9 508.4,975.3 508.7,975.1 509,970.4 509.3,971.8 509.6,974.3 509.9,975.5 510.2,975.2 510.5,976.3 510.8,975.9 511.1,977.9 511.4,977.9 511.7,975.9 512,974.1 512.3,979.8 512.6,979.3 512.9,977.1 513.2,978 513.5,977.1 513.8,977.6 514.1,982.2 514.4,981.7 514.7,983 515,981.6 515.3,983 515.6,985.9 515.9,984.1 516.2,982.8 516.5,984.6 516.8,985.9 517.1,981.7 517.4,982.8 517.7,983.5 518,988.3 518.3,985.5 518.6,985.2 518.9,985.8 519.2,986.1 519.5,985.9 519.8,985.7 520.1,991.7 520.4,986.1 520.7,991.4 521,990.8 521.3,987.6 521.6,988 521.9,994 522.2,990.8 522.5,989.9 522.8,990.1 523.1,990.4 523.4,995.2 523.7,991.2 524,996.2 524.3,993.2 524.6,993.2 524.9,996.3 525.2,998.3 525.5,998.2 525.8,994.3 526.1,996 526.4,995.6 526.7,996.7 527,998.3 527.3,996.4 527.6,1002 527.9,1002.7 528.2,998.6 528.5,1003.5 528.8,999.1 529.1,998.8 529.4,1003.7 529.7,999.5 530,1003 530.3,1002.8 530.6,1003.1 530.9,1003.6 531.2,1002.1 531.5,1002.9 531.8,999.2 532.1,999.3 532.4,1001.5 532.7,1005.5 533,1001 533.3,1000.8 533.6,1006.1 533.9,1000.1 534.2,1004.4 534.5,1000.6 534.8,1002.1 535.1,1006.7 535.4,1002.2 535.7,1007.1 536,1006.6 536.3,1004.3 536.6,1002.2 536.9,1002.4 537.2,1004.8 537.5,1004.5 537.8,1006 538.1,1005 538.4,1004.1 538.7,1003.2 539,1005.5 539.3,1009.3 539.6,1005 539.9,1009.7 540.2,1009.5 540.5,1008.6 540.8,1006.3 541.1,1007.9 541.4,1006.4 541.7,1005.5 542,1005.8 542.3,1005.4 542.6,1005.1 542.9,1004.7 543.2,1005.5 543.5,1009.9 543.8,1009 544.1,1010.5 544.4,1004.5 544.7,1009.1 545,1006.2 545.3,1007.1 545.6,1010.9 545.9,1007.1 546.2,1010.6 546.5,1004.6 546.8,1009.8 547.1,1006.7 547.4,1009.2 547.7,1006.8 548,1010.1 548.3,1006.1 548.6,1010.3 548.9,1008.4 549.2,1009.6 549.5,1005.7 549.8,1009.1 550.1,1007.9 550.4,1005.3 550.7,1007.5 551,1009 551.3,1007.7 551.6,1005.6 551.9,1008.6 552.2,1004.2 552.5,1003.9 552.8,1003.4 553.1,1007.8 553.4,1002 553.7,1003.9 554,1004.5 554.3,1002.8 554.6,1001.4 554.9,1001.7 555.2,1002.5 555.5,1002 555.8,1005 556.1,1000.5 556.4,1001.4 556.7,1004.2 557,999.7 557.3,1001.9 557.6,1002 557.9,996.1 558.2,996.7 558.5,1000.7 558.8,997.7 559.1,993.7 559.4,992.8 559.7,991.8 560,996 560.3,989.3 560.6,992.6 560.9,989.7 561.2,989.4 561.5,984.6 561.8,977.3 562.1,969.3 562.4,964.9 562.7,946.1 563,932.8 563.3,914.5 563.6,897.7 563.9,882.3 564.2,882.4 564.5,894.1 564.8,911.4 565.1,926.3 565.4,944.3 565.7,954.9 566,958.9 566.3,965.8 566.6,963.4 566.9,966.2 567.2,966.4 567.5,964.8 567.8,970 568.1,968.9 568.4,965.3 568.7,965.3 569,969.5 569.3,968.4 569.6,963.7 569.9,965.5 570.2,964.2 570.5,964.9 570.8,968.7 571.1,966 571.4,970.7 571.7,965.4 572,971.8 572.3,966.4 572.6,971.3 572.9,973.2 573.2,974.1 573.5,970.4 573.8,976.9 574.1,973.3 574.4,976.5 574.7,979.6 575,977.8 575.3,977.2 575.6,978.2 575.9,982.3 576.2,978.2 576.5,980.2 576.8,976.9 577.1,976.4 577.4,972.4 577.7,974.4 578,962.6 578.3,952.7 578.6,938 578.9,920.2 579.2,902.1 579.5,874.4 579.8,845.8 580.1,830.4 580.4,824.6 580.7,828.5 581,852.6 581.3,875.7 581.6,903.4 581.9,931.3 582.2,951.1 582.5,966.4 582.8,972.5 583.1,983.8 583.4,988.9 583.7,993.4 584,994.8 584.3,997.9 584.6,999.6 584.9,995.7 585.2,996.6 585.5,998.6 585.8,1002.9 586.1,1002.8 586.4,1002.8 586.7,1000.9 587,1001 587.3,1004 587.6,1004.8 587.9,1006.6 588.2,1000.9 588.5,1005 588.8,1005.2 589.1,1005.9 589.4,1004.2 589.7,1006.1 590,1006.7 590.3,1002.4 590.6,1007.2 590.9,1002.5 591.2,1008.3 591.5,1004.3 591.8,1005.1 592.1,1004.5 592.4,1004.5 592.7,1003.6 593,1007.2 593.3,1006.9 593.6,1005.2 593.9,1010.3 594.2,1004.2 594.5,1007 594.8,1006.3 595.1,1006 595.4,1008.8 595.7,1007.8 596,1006 596.3,1008 596.6,1011.1 596.9,1010.2 597.2,1006 597.5,1012.3 597.8,1006.5 598.1,1008.2 598.4,1007.9 598.7,1010.6 599,1009.7 599.3,1007.5 599.6,1008.9 599.9,1002.7 600.2,1002.9 600.5,999.3 600.8,995.9 601.1,997.5 601.4,997.6 601.7,990.3 602,996 602.3,995.2 602.6,999.3 602.9,996.1 603.2,1000.6 603.5,1005.9 603.8,1005.1 604.1,1002.4 604.4,1009.4 604.7,1006 605,1010.8 605.3,1007.6 605.6,1009.4 605.9,1006.8 606.2,1009.9 606.5,1009.8 606.8,1006.8 607.1,1006.3 607.4,1007.3 607.7,1009.8 608,1008.9 608.3,1011.9 608.6,1011.6 608.9,1007.4 609.2,1006.5 609.5,1008 609.8,1011.4 610.1,1008.8 610.4,1010 610.7,1011.9 611,1008.4 611.3,1006.4 611.6,1007.5 611.9,1008.7 612.2,1006.8 612.5,1007.6 612.8,1011.4 613.1,1011.9 613.4,1010.4 613.7,1010.2 614,1007.3 614.3,1010.4 614.6,1011.1 614.9,1006.2 615.2,1008 615.5,1009.3 615.8,1011.8 616.1,1007.6 616.4,1006.6 616.7,1012.2 617,1010.9 617.3,1006.5 617.6,1009 617.9,1008.8 618.2,1007.2 618.5,1012.1 618.8,1007.2 619.1,1006.5 619.4,1009 619.7,1008 620,1012.7 620.3,1012.4 620.6,1008.4 620.9,1006.6 621.2,1007.3 621.5,1011 621.8,1012.5 622.1,1006.7 622.4,1007.1 622.7,1012.3 623,1007.7 623.3,1011.9 623.6,1010.7 623.9,1007 624.2,1006.3 624.5,1011.6 624.8,1010.3 625.1,1011.9 625.4,1005.8 625.7,1007.1 626,1009.3 626.3,1006.1 626.6,1009.9 626.9,1009.3 627.2,1008 627.5,1002.4 627.8,1007.2 628.1,1002.3 628.4,1002.6 628.7,997.9 629,996.3 629.3,991.6 629.6,989.7 629.9,984.6 630.2,982.5 630.5,981.9 630.8,979.4 631.1,985 631.4,981.7 631.7,985.6 632,989 632.3,991.4 632.6,1000 632.9,998.1 633.2,999.8 633.5,1001.7 633.8,1007.8 634.1,1005.3 634.4,1006.6 634.7,1009.5 635,1011.3 635.3,1005.8 635.6,1006.6 635.9,1006.7 636.2,1011 636.5,1010.3 636.8,1011.5 637.1,1006 637.4,1007 637.7,1009.2 638,1010.8 638.3,1011.3 638.6,1010.7 638.9,1008.8 639.2,1006.8 639.5,1008.3 639.8,1007.6 640.1,1013.4 640.4,1013.7 640.7,1011.6 641,1013.9 641.3,1012 641.6,1011 641.9,1013.5 642.2,1010.2 642.5,1014.8 642.8,1011.9 643.1,1014.1 643.4,1013.5 643.7,1013.2 644,1012.4 644.3,1009.6 644.6,1010.4 644.9,1010.8 645.2,1010.9 645.5,1009.8 645.8,1012.1 646.1,1012 646.4,1009.8 646.7,1009.5 647,1014.8 647.3,1012.6 647.6,1008.7 647.9,1011.6 648.2,1011.4 648.5,1011.7 648.8,1009.8 649.1,1014.7 649.4,1009.2 649.7,1014.2 650,1009.1 650.3,1008.3 650.6,1008.6 650.9,1014.4 651.2,1010.1 651.5,1011.5 651.8,1011.3 652.1,1013.5 652.4,1009.2 652.7,1010.5 653,1014 653.3,1012.7 653.6,1009.2 653.9,1012.7 654.2,1013.5 654.5,1010 654.8,1010.5 655.1,1012.5 655.4,1009.4 655.7,1009.4 656,1012.4 656.3,1013.2 656.6,1011.4 656.9,1009.4 657.2,1012.4 657.5,1009 657.8,1007.6 658.1,1011.5 658.4,1007.1 658.7,1011.6 659,1009.4 659.3,1010.7 659.6,1008.5 659.9,1011.4 660.2,1012.6 660.5,1009.1 660.8,1010.6 661.1,1013.5 661.4,1010.8 661.7,1008.2 662,1011.1 662.3,1008.8 662.6,1007.5 662.9,1008.7 663.2,1007.5 663.5,1008 663.8,1009.6 664.1,1009.6 664.4,1012.6 664.7,1007.5 665,1008.6 665.3,1007.9 665.6,1008.4 665.9,1012.4 666.2,1010.2 666.5,1011.2 666.8,1012.6 667.1,1007.9 667.4,1008.4 667.7,1010.5 668,1008.8 668.3,1008.5 668.6,1013.4 668.9,1008.5 669.2,1013.3 669.5,1012.2 669.8,1009.1 670.1,1007.4 670.4,1008.4 670.7,1011.5 671,1013.7 671.3,1011.4 671.6,1013 671.9,1010.8 672.2,1012.8 672.5,1008.1 672.8,1012 673.1,1009.5 673.4,1013.3 673.7,1007.6 674,1008.2 674.3,1013.2 674.6,1008.1 674.9,1011.7 675.2,1013.4 675.5,1011.4 675.8,1009.9 676.1,1009.7 676.4,1013.1 676.7,1007.5 677,1013.7 677.3,1012.3 677.6,1013.8 677.9,1012.9 678.2,1010.9 678.5,1013.3 678.8,1013.8 679.1,1008.3 679.4,1010.3 679.7,1013.9 680,1013.5 680.3,1012.7 680.6,1014.2 680.9,1008.7 681.2,1014.6 681.5,1013.3 681.8,1014 682.1,1014.2 682.4,1008.2 682.7,1010.6 683,1008.8 683.3,1012.1 683.6,1011.8 683.9,1008.5 684.2,1013.9 684.5,1007.7 684.8,1011.6 685.1,1008.9 685.4,1012.4 685.7,1008.8 686,1009.1 686.3,1010.8 686.6,1009.7 686.9,1009.6 687.2,1010.3 687.5,1008.1 687.8,1013.2 688.1,1008.7 688.4,1009.4 688.7,1008.5 689,1012.4 689.3,1012.2 689.6,1008.1 689.9,1009.4 690.2,1012 690.5,1007.4 690.8,1008.3 691.1,1007.9 691.4,1010.3 691.7,1011.6 692,1013.5 692.3,1013.8 692.6,1014 692.9,1008.2 693.2,1011.6 693.5,1010.5 693.8,1013.2 694.1,1014.3 694.4,1013.6 694.7,1012.6 695,1012.5 695.3,1010.5 695.6,1008.6 695.9,1014.2 696.2,1008.2 696.5,1010 696.8,1014 697.1,1008.1 697.4,1011.2 697.7,1013.3 698,1008.6 698.3,1007.9 698.6,1006.3 698.9,1006.1 699.2,1011.9 699.5,1008.1 699.8,1006.2 700.1,1004.7 700.4,1008.4 700.7,1007.3 701,1006.4 701.3,998.7 701.6,996 701.9,989.2 702.2,983.9 702.5,978.2 702.8,970.1 703.1,970.1 703.4,961.5 703.7,961.4 704,959.3 704.3,960.1 704.6,968.9 704.9,976.6 705.2,984.3 705.5,990.4 705.8,995.6 706.1,996.1 706.4,1000.3 706.7,1003.3 707,1006.4 707.3,1010 707.6,1005.2 707.9,1010.1 708.2,1007.9 708.5,1011.2 708.8,1007.4 709.1,1010.6 709.4,1009.5 709.7,1013.2 710,1007.9 710.3,1013.2 710.6,1007.8 710.9,1013.6 711.2,1010.3 711.5,1011.9 711.8,1008.9 712.1,1013.8 712.4,1013.8 712.7,1008.8 713,1013 713.3,1009.3 713.6,1013.2 713.9,1007.8 714.2,1012.3 714.5,1008 714.8,1009.2 715.1,1012.6 715.4,1007.4 715.7,1008.8 716,1013.3 716.3,1012.1 716.6,1009.6 716.9,1007.5 717.2,1008.5 717.5,1007.2 717.8,1011.3 718.1,1012.4 718.4,1008.6 718.7,1007.3 719,1010.9 719.3,1012.9 719.6,1008.5 719.9,1012.5 720.2,1007 720.5,1012.1 720.8,1010 721.1,1010.4 721.4,1010 721.7,1009.1 722,1006.4 722.3,1007 722.6,1007 722.9,1006.3 723.2,1010.5 723.5,1012.6 723.8,1007.8 724.1,1006.4 724.4,1011.6 724.7,1008 725,1011.1 725.3,1012.8 725.6,1010.3 725.9,1009.9 726.2,1012.6 726.5,1010.9 726.8,1013.2 727.1,1009 727.4,1013.2 727.7,1012.2 728,1011.6 728.3,1010.3 728.6,1012 728.9,1014 729.2,1007.6 729.5,1012.1 729.8,1013.6 730.1,1008.7 730.4,1013.4 730.7,1014 731,1011.9 731.3,1013.7 731.6,1008.4 731.9,1007.6 732.2,1011.5 732.5,1011.2 732.8,1013.1 733.1,1011.9 733.4,1007.6 733.7,1008 734,1010 734.3,1009.8 734.6,1014.1 734.9,1013.4 735.2,1014.6 735.5,1012.9 735.8,1009.9 736.1,1009.4 736.4,1011 736.7,1008.6 737,1011.1 737.3,1014.3 737.6,1014.3 737.9,1013.4 738.2,1008.2 738.5,1008.6 738.8,1011.6 739.1,1009 739.4,1010.1 739.7,1010.8 740,1008.1 740.3,1012.1 740.6,1009.2 740.9,1012.5 741.2,1012.3 741.5,1010.5 741.8,1006.6 742.1,1010.6 742.4,1008.2 742.7,1007.2 743,1009.3 743.3,1006.1 743.6,1006.3 743.9,1007.2 744.2,1012.2 744.5,1006.4 744.8,1010.9 745.1,1010 745.4,1010.5 745.7,1011.5 746,1007.5 746.3,1007.6 746.6,1012.3 746.9,1007.6 747.2,1007.2 747.5,1010.8 747.8,1007.3 748.1,1009.1 748.4,1006.8 748.7,1007.3 749,1008.4 749.3,1010.3 749.6,1011.5 749.9,1010.7 750.2,1010.2 750.5,1011.9 750.8,1006.7 751.1,1006.9 751.4,1009.6 751.7,1009 752,1008.8 752.3,1007.9 752.6,1010.8 752.9,1009.8 753.2,1008.3 753.5,1011.6 753.8,1009.5 754.1,1010.8 754.4,1008.1 754.7,1010.1 755,1008.9 755.3,1006.5 755.6,1006.6 755.9,1007 756.2,1010.7 756.5,1010.2 756.8,1012.2 757.1,1006.5 757.4,1007.3 757.7,1007.5 758,1006.8 758.3,1010.3 758.6,1013 758.9,1011.3 759.2,1012 759.5,1008.1 759.8,1008 760.1,1011.7 760.4,1007.8 760.7,1011.2 761,1012.5 761.3,1006.8 761.6,1008.4 761.9,1012.6 762.2,1012.8 762.5,1006.8 762.8,1007.1 763.1,1013.4 763.4,1013.2 763.7,1013.3 764,1012.1 764.3,1008.1 764.6,1014.1 764.9,1012.8 765.2,1012.1 765.5,1010.7 765.8,1012.9 766.1,1011.5 766.4,1011.6 766.7,1013.5 767,1013 767.3,1008.5 767.6,1012.8 767.9,1010.8 768.2,1007.2 768.5,1009.4 768.8,1009.9 769.1,1006.8 769.4,1011.5 769.7,1008.3 770,1010.3 770.3,1007.3 770.6,1012.1 770.9,1011.8 771.2,1007.7 771.5,1007.5 771.8,1007.7 772.1,1011.5 772.4,1012 772.7,1007.2 773,1007.2 773.3,1010.6 773.6,1006.4 773.9,1011.9 774.2,1012.1 774.5,1011.3 774.8,1010.3 775.1,1005.4 775.4,1005.7 775.7,1005.7 776,1007.9 776.3,1009.1 776.6,1008.5 776.9,1007.2 777.2,1009.6 777.5,1007.5 777.8,1011 778.1,1005.5 778.4,1005.3 778.7,1004.9 779,1006.6 779.3,1005.3 779.6,1005.6 779.9,1005.1 780.2,1010.4 780.5,1006.3 780.8,1006.9 781.1,1005.5 781.4,1011 781.7,1010.9 782,1005.6 782.3,1005.4 782.6,1010.8 782.9,1005.3 783.2,1009 783.5,1010.2 783.8,1004.4 784.1,1005.7 784.4,1005 784.7,1004.5 785,1008.6 785.3,1004.5 785.6,1006.2 785.9,1010.1 786.2,1009.4 786.5,1008.2 786.8,1009.2 787.1,1009.5 787.4,1005 787.7,1005.6 788,1009.5 788.3,1009.6 788.6,1010 788.9,1006 789.2,1006.8 789.5,1007.5 789.8,1009.2 790.1,1005.9 790.4,1008 790.7,1003.8 791,1003.5 791.3,1008.2 791.6,1002.9 791.9,1008.8 792.2,1003.1 792.5,1005 792.8,1003.2 793.1,1004.8 793.4,1000.6 793.7,1005 794,1000.6 794.3,1000 794.6,1004.5 794.9,999.5 795.2,997.6 795.5,997.9 795.8,1001.9 796.1,1001.3 796.4,1000.1 796.7,998.6 797,991.6 797.3,994.6 797.6,987.9 797.9,987 798.2,976.2 798.5,970.3 798.8,963.6 799.1,953.8 799.4,947.1 799.7,943.6 800,949.4 800.3,954 800.6,960.8 800.9,968.6 801.2,974.4 801.5,977.2 801.8,979.9 802.1,986.2 802.4,985.5 802.7,983.8 803,985.2 803.3,986.2 803.6,980 803.9,980.1 804.2,978.7 804.5,982.6 804.8,977.5 805.1,978.9 805.4,981.3 805.7,977.3 806,977 806.3,979.8 806.6,976.3 806.9,974.3 807.2,977.4 807.5,977.3 807.8,971.7 808.1,974.2 808.4,973.8 808.7,973.3 809,974.2 809.3,970.9 809.6,973.8 809.9,970.5 810.2,975.3 810.5,969.6 810.8,974.8 811.1,972 811.4,976 811.7,971.2 812,973.5 812.3,972 812.6,972.8 812.9,976.1 813.2,978.1 813.5,975.8 813.8,975.1 814.1,979.6 814.4,977.6 814.7,980.2 815,982.8 815.3,979 815.6,982.5 815.9,982.6 816.2,985.5 816.5,983.7 816.8,986.2 817.1,988.1 817.4,987.9 817.7,986.5 818,990.7 818.3,989.5 818.6,991.5 818.9,987.1 819.2,990.6 819.5,991.2 819.8,994.1 820.1,991.8 820.4,996 820.7,990.5 821,997 821.3,997.5 821.6,997.3 821.9,993.2 822.2,998.4 822.5,996.7 822.8,997.1 823.1,998.3 823.4,999.7 823.7,994.8 824,999.7 824.3,994.1 824.6,997.5 824.9,994.3 825.2,997.1 825.5,990.5 825.8,990.3 826.1,988.3 826.4,987.6 826.7,991.3 827,986.5 827.3,992.1 827.6,991.6 827.9,987.3 828.2,991.5 828.5,994 828.8,997.1 829.1,997.8 829.4,996.8 829.7,996.2 830,999.1 830.3,1004 830.6,999.5 830.9,1000 831.2,1004 831.5,1005.7 831.8,1006.8 832.1,1007.6 832.4,1003.5 832.7,1003.1 833,1003.6 833.3,1003.1 833.6,1009.2 833.9,1003.5 834.2,1009.7 834.5,1005.9 834.8,1006.1 835.1,1008.4 835.4,1006.2 835.7,1006.5 836,1004.3 836.3,1008.8 836.6,1004.4 836.9,1006.2 837.2,1003.9 837.5,1007.2 837.8,1009.9 838.1,1004 838.4,1008.4 838.7,1009.4 839,1002.9 839.3,1003.3 839.6,1003.9 839.9,1008.3 840.2,1007.9 840.5,1007.4 840.8,1008.3 841.1,1004.5 841.4,1003.2 841.7,1006.1 842,1008.8 842.3,1003.9 842.6,1007 842.9,1003.9 843.2,1003.8 843.5,1002.8 843.8,1008.6 844.1,1003 844.4,1007.3 844.7,1006.9 845,1003 845.3,1003.1 845.6,1004.2 845.9,1007.9 846.2,1006.9 846.5,1003 846.8,1006.4 847.1,1004.6 847.4,1002.8 847.7,996.2 848,993.3 848.3,990.9 848.6,985.5 848.9,986.4 849.2,977.4 849.5,975.6 849.8,967.9 850.1,964.3 850.4,959.5 850.7,961.8 851,967 851.3,971.3 851.6,973.3 851.9,977.7 852.2,984.7 852.5,993.1 852.8,996.9 853.1,1000.6 853.4,1003 853.7,1003.5 854,1001.8 854.3,1003.9 854.6,1008.1 854.9,1006.3 855.2,1005.8 855.5,1009.8 855.8,1010.4 856.1,1007.3 856.4,1006.3 856.7,1008.8 857,1005.2 857.3,1007.8 857.6,1011.4 857.9,1009.9 858.2,1006.4 858.5,1006.2 858.8,1009.5 859.1,1010.5 859.4,1007.2 859.7,1006.1 860,1011.1 860.3,1010.7 860.6,1010.3 860.9,1010.5 861.2,1007.6 861.5,1010.2 861.8,1006.9 862.1,1008.1 862.4,1010.6 862.7,1010.4 863,1011.1 863.3,1010.2 863.6,1006.3 863.9,1008.5 864.2,1011.5 864.5,1008.6 864.8,1009.1 865.1,1008.7 865.4,1007.4 865.7,1012.3 866,1011.3 866.3,1012.2 866.6,1008.1 866.9,1010.4 867.2,1009.8 867.5,1009.7 867.8,1009.3 868.1,1011 868.4,1010.3 868.7,1011.3 869,1006.1 869.3,1010.7 869.6,1006.6 869.9,1010.9 870.2,1010.9 870.5,1008.7 870.8,1005.8 871.1,1011.7 871.4,1005.8 871.7,1009.7 872,1006.4 872.3,1010.3 872.6,1006.8 872.9,1011.8 873.2,1005.8 873.5,1011.3 873.8,1009.7 874.1,1005.7 874.4,1005.6 874.7,1005.3 875,1010.8 875.3,1010.3 875.6,1010.7 875.9,1008.7 876.2,1011 876.5,1009.1 876.8,1006.8 877.1,1005 877.4,1005 877.7,1010.2 878,1006.4 878.3,1004.9 878.6,1007 878.9,1010.2 879.2,1010.9 879.5,1011.2 879.8,1010.3 880.1,1009.1 880.4,1011.7 880.7,1011.6 881,1007.1 881.3,1006.7 881.6,1011.2 881.9,1005.5 882.2,1011.2 882.5,1006.5 882.8,1009.6 883.1,1006.2 883.4,1006.5 883.7,1007.6 884,1008.4 884.3,1006.5 884.6,1011.6 884.9,1011.9 885.2,1007.1 885.5,1011.5 885.8,1012.1 886.1,1006.7 886.4,1009.6 886.7,1006.3 887,1009.7 887.3,1004.7 887.6,1009.9 887.9,1005.1 888.2,1005.4 888.5,1010.6 888.8,1010.1 889.1,1010.1 889.4,1004 889.7,1007.6 890,1009.4 890.3,1007.9 890.6,1008.5 890.9,1010.2 891.2,1005.6 891.5,1009.2 891.8,1004.3 892.1,1009.6 892.4,1010.6 892.7,1006.4 893,1009.6 893.3,1007.5 893.6,1004.7 893.9,1005.8 894.2,1005.5 894.5,1008.5 894.8,1010.2 895.1,1005.7 895.4,1006.2 895.7,1011.3 896,1011.7 896.3,1009.8 896.6,1006.7 896.9,1008.9 897.2,1008.5 897.5,1006.1 897.8,1010.6 898.1,1007.3 898.4,1006.1 898.7,1005.8 899,1010.2 899.3,1010.5 899.6,1010.3 899.9,1010.4 900.2,1010.6 900.5,1005.2 900.8,1008.5 901.1,1009.8 901.4,1005 901.7,1006.9 902,1007.1 902.3,1010.6 902.6,1006.1 902.9,1005 903.2,1007.4 903.5,1009.3 903.8,1003.7 904.1,1004.2 904.4,1007.2 904.7,1003.2 905,1002.2 905.3,1006.3 905.6,1000.2 905.9,1000.4 906.2,996.9 906.5,997.5 906.8,996.8 907.1,998.9 907.4,999.2 907.7,992.9 908,999.3 908.3,993.5 908.6,999.4 908.9,1000 909.2,1000.1 909.5,1001.1 909.8,1000.3 910.1,999.8 910.4,998.7 910.7,1003.4 911,1005.5 911.3,1003.2 911.6,1001.1 911.9,1006.1 912.2,1003 912.5,1008.4 912.8,1004.1 913.1,1007.3 913.4,1008.2 913.7,1009.2 914,1008.6 914.3,1009.4 914.6,1003.8 914.9,1008.9 915.2,1007.2 915.5,1006.4 915.8,1005.3 916.1,1004 916.4,1003.6 916.7,1008.4 917,1004.2 917.3,1008.5 917.6,1003.7 917.9,1007 918.2,1008.1 918.5,1004.8 918.8,1008.5 919.1,1008.6 919.4,1002.8 919.7,1000.5 920,999.2 920.3,997.2 920.6,994.5 920.9,994.9 921.2,989.5 921.5,979 921.8,974.9 922.1,968.2 922.4,957.6 922.7,958.4 923,956.3 923.3,956.9 923.6,961.7 923.9,971.4 924.2,980.7 924.5,981.3 924.8,988.6 925.1,990.5 925.4,995.4 925.7,1002 926,1002.3 926.3,1000.7 926.6,1000.5 926.9,1006.1 927.2,1006.6 927.5,1003.5 927.8,1006.2 928.1,1005.6 928.4,1005.1 928.7,1004.5 929,1002.2 929.3,1002.2 929.6,1003.6 929.9,1004.5 930.2,1005.2 930.5,1002.6 930.8,1006.8 931.1,1002.9 931.4,1004.1 931.7,1007.1 932,1008 932.3,1008.6 932.6,1003.9 932.9,1008.2 933.2,1002.6 933.5,1003.1 933.8,1004 934.1,1002.4 934.4,1002.4 934.7,1001.2 935,1000.5 935.3,1005.2 935.6,1001.4 935.9,1000.6 936.2,1000.4 936.5,1004.3 936.8,1001.8 937.1,999.6 937.4,999.4 937.7,994 938,990.6 938.3,987 938.6,986.6 938.9,982 939.2,977.1 939.5,970 939.8,963.9 940.1,958.2 940.4,956.2 940.7,956.6 941,956.4 941.3,961.9 941.6,969.2 941.9,971.8 942.2,980.9 942.5,981.8 942.8,983.9 943.1,990.4 943.4,991.3 943.7,994.3 944,990.9 944.3,994.8 944.6,992 944.9,995.6 945.2,993.5 945.5,991.6 945.8,991.1 946.1,993 946.4,990.9 946.7,989.6 947,990.2 947.3,992.8 947.6,986.4 947.9,991.2 948.2,986.6 948.5,989.7 948.8,989.8 949.1,986 949.4,983.4 949.7,984.3 950,983.4 950.3,985.8 950.6,984.4 950.9,980.3 951.2,981 951.5,979.4 951.8,977.4 952.1,978.4 952.4,980.6 952.7,977.1 953,976.4 953.3,979.7 953.6,974 953.9,975.1 954.2,974.2 954.5,978 954.8,976.1 955.1,975.3 955.4,976.2 955.7,975.3 956,979.3 956.3,980.9 956.6,979.2 956.9,976.8 957.2,976.9 957.5,981.2 957.8,983.5 958.1,979 958.4,984.4 958.7,980 959,983.5 959.3,982.7 959.6,982.8 959.9,984 960.2,985.9 960.5,988.7 960.8,986.6 961.1,990.2 961.4,990.5 961.7,991.7 962,992.7 962.3,992.2 962.6,993.8 962.9,990.4 963.2,990.7 963.5,996.4 963.8,996.5 964.1,991.9 964.4,993.9 964.7,993.1 965,996.2 965.3,997.4 965.6,998.8 965.9,998.7 966.2,997.3 966.5,998.1 966.8,996.8 967.1,997.2 967.4,1002.9 967.7,997.6 968,998.5 968.3,1004.4 968.6,1001.9 968.9,1005.3 969.2,1001.6 969.5,1003.7 969.8,1002.6 970.1,1000 970.4,1002.7 970.7,1003 971,1000.6 971.3,1004.5 971.6,1000.1 971.9,1000.7 972.2,1004.2 972.5,1000.7 972.8,1000.8 973.1,1000.5 973.4,1004.1 973.7,1001.7 974,1002.4 974.3,1001.4 974.6,1003.3 974.9,1003.2 975.2,1002.3 975.5,1006.5 975.8,1004.1 976.1,1003.8 976.4,1008.3 976.7,1003.1 977,1006.9 977.3,1003.7 977.6,1006.1 977.9,1008.8 978.2,1004 978.5,1008.5 978.8,1004.3 979.1,1006.4 979.4,1002.9 979.7,1008 980,1008 980.3,1007.7 980.6,1005.7 980.9,1008.8 981.2,1003.8 981.5,1007.6 981.8,1007.9 982.1,1006.2 982.4,1002.8 982.7,1007.1 983,1005.2 983.3,1008.4 983.6,1008.7 983.9,1003 984.2,1007.2 984.5,1007.5 984.8,1007.2 985.1,1002.5 985.4,1007.4 985.7,1002.9 986,1008.1 986.3,1006.5 986.6,1002.2 986.9,1005.1 987.2,1005.9 987.5,1005.1 987.8,1004.4 988.1,1001.4 988.4,1003.5 988.7,1003.7 989,999.9 989.3,1000.1 989.6,1003.5 989.9,1001.7 990.2,999.4 990.5,997.5 990.8,998.5 991.1,1001.5 991.4,997.8 991.7,1002 992,996.7 992.3,996 992.6,997.6 992.9,1000.8 993.2,1000.6 993.5,995.9 993.8,994.5 994.1,995.8 994.4,994.4 994.7,999.2 995,998.8 995.3,996.6 995.6,996.3 995.9,995 996.2,993.5 996.5,992.6 996.8,987.9 997.1,983.1 997.4,975.3 997.7,971.6 998,965.6 998.3,952.3 998.6,950.3 998.9,938.5 999.2,938.9 999.5,941.6 999.8,947 1000.1,949.2 1000.4,958.9 1000.7,966.5 1001,973.2 1001.3,984.9 1001.6,987 1001.9,993.8 1002.2,993.1 1002.5,995.7 1002.8,1002.2 1003.1,1002.8 1003.4,1004.3 1003.7,1004.6 1004,1002 1004.3,1006.2 1004.6,1002.6 1004.9,1002.1 1005.2,1002.2 1005.5,1005.5 1005.8,1004.7 1006.1,1003.4 1006.4,1003.6 1006.7,1003.6 1007,1003 1007.3,1008.5 1007.6,1006.3 1007.9,1009.3 1008.2,1005.4 1008.5,1003.6 1008.8,1007.1 1009.1,1009.3 1009.4,1004.9 1009.7,1009.5 1010,1007.7 1010.3,1005.5 1010.6,1010.2 1010.9,1005.7 1011.2,1005.1 1011.5,1009.3 1011.8,1009.5 1012.1,1006.1 1012.4,1008.6 1012.7,1006.4 1013,1009.8 1013.3,1006 1013.6,1005.6 1013.9,1004.1 1014.2,1009 1014.5,1008.9 1014.8,1005.5 1015.1,1009.7 1015.4,1005.1 1015.7,1005.5 1016,1009.8 1016.3,1005.1 1016.6,1009 1016.9,1008.9 1017.2,1006.1 1017.5,1005 1017.8,1010.6 1018.1,1009 1018.4,1009.7 1018.7,1006.5 1019,1005.2 1019.3,1006.2 1019.6,1006.2 1019.9,1005.1 1020.2,1009.6 1020.5,1007 1020.8,1009.6 1021.1,1006.4 1021.4,1007.7 1021.7,1005.9 1022,1011.9 1022.3,1010.1 1022.6,1008.3 1022.9,1009.8 1023.2,1011 1023.5,1011.3 1023.8,1010.9 1024.1,1008.2 1024.4,1008.5 1024.7,1008.7 1025,1006.8 1025.3,1008.1 1025.6,1006.8 1025.9,1008.3 1026.2,1009.4 1026.5,1008.9 1026.8,1007.5 1027.1,1007 1027.4,1004.4 1027.7,1006.6 1028,1007.2 1028.3,1000.9 1028.6,1001.9 1028.9,1005.3 1029.2,998.3 1029.5,1000.8 1029.8,1001.3 1030.1,1000.9 1030.4,998.1 1030.7,993.3 1031,991.6 1031.3,992.9 1031.6,992.8 1031.9,987.1 1032.2,986.6 1032.5,985.3 1032.8,987 1033.1,988.2 1033.4,986.2 1033.7,984.4 1034,990 1034.3,985.9 1034.6,987.4 1034.9,993.4 1035.2,995 1035.5,992.5 1035.8,993.8 1036.1,995.2 1036.4,994.7 1036.7,996.3 1037,997.9 1037.3,1001.9 1037.6,1000.7 1037.9,1000.8 1038.2,1006.3 1038.5,1004.5 1038.8,1007 1039.1,1009.6 1039.4,1008.9 1039.7,1006.6 1040,1010.9 1040.3,1007.5 1040.6,1011.8 1040.9,1008.1 1041.2,1008.5 1041.5,1009.1 1041.8,1007.7 1042.1,1012.7 1042.4,1012.4 1042.7,1008.1 1043,1010.3 1043.3,1010.3 1043.6,1008.5 1043.9,1010.4 1044.2,1008.8 1044.5,1007.1 1044.8,1009.8 1045.1,1010.8 1045.4,1010.5 1045.7,1008.4 1046,1006.9 1046.3,1005.7 1046.6,1011.2 1046.9,1007.5 1047.2,1009.8 1047.5,1006.2 1047.8,1006 1048.1,1011.1 1048.4,1011.7 1048.7,1010 1049,1010.4 1049.3,1012.7 1049.6,1006.7 1049.9,1007.6 1050.2,1008.9 1050.5,1012.6 1050.8,1007 1051.1,1010.7 1051.4,1006.6 1051.7,1006.6 1052,1009.3 1052.3,1011.5 1052.6,1008.4 1052.9,1007.2 1053.2,1008.3 1053.5,1011.9 1053.8,1012.8 1054.1,1012.5 1054.4,1009.8 1054.7,1010.8 1055,1007.3 1055.3,1008.6 1055.6,1012.2 1055.9,1012.7 1056.2,1010.5 1056.5,1009.7 1056.8,1012.6 1057.1,1008.1 1057.4,1007.6 1057.7,1006.1 1058,1009.5 1058.3,1006.5 1058.6,1007.5 1058.9,1010 1059.2,1007.6 1059.5,1010.7 1059.8,1008.2 1060.1,1009.5 1060.4,1009.9 1060.7,1006.5 1061,1011.8 1061.3,1006.7 1061.6,1011 1061.9,1007.8 1062.2,1006.6 1062.5,1007.3 1062.8,1006 1063.1,1009.5 1063.4,1012.2 1063.7,1010.5 1064,1008.2 1064.3,1012.4 1064.6,1008.5 1064.9,1007.4 1065.2,1010.6 1065.5,1013.1 1065.8,1009 1066.1,1013.9 1066.4,1009.1 1066.7,1012.8 1067,1009.7 1067.3,1008.1 1067.6,1013.8 1067.9,1012.2 1068.2,1009.3 1068.5,1008.9 1068.8,1008.5 1069.1,1011.8 1069.4,1010.7 1069.7,1012.4 1070,1008.3 1070.3,1007.6 1070.6,1007.6 1070.9,1010.6 1071.2,1009.2 1071.5,1007.2 1071.8,1008.7 1072.1,1006.8 1072.4,1012.3 1072.7,1009.3 1073,1008.4 1073.3,1007.7 1073.6,1012.3 1073.9,1012.8 1074.2,1007 1074.5,1007.2 1074.8,1010.9 1075.1,1011.3 1075.4,1012.5 1075.7,1009.3 1076,1008.5 1076.3,1010.1 1076.6,1012.9 1076.9,1010 1077.2,1009.2 1077.5,1009.5 1077.8,1009.9 1078.1,1012.2 1078.4,1010.9 1078.7,1007.7 1079,1008.4 1079.3,1007.1 1079.6,1008.2 1079.9,1012.9 1080.2,1008.6 1080.5,1009.3 1080.8,1008.1 1081.1,1009.5 1081.4,1011.6 1081.7,1013.1 1082,1010.2 1082.3,1012.6 1082.6,1007.6 1082.9,1012.1 1083.2,1006.6 1083.5,1008.2 1083.8,1008.8 1084.1,1009.9 1084.4,1011.4 1084.7,1013.1 1085,1012.7 1085.3,1012 1085.6,1008.7 1085.9,1008.4 1086.2,1009.5 1086.5,1008.9 1086.8,1009.9 1087.1,1012.3 1087.4,1008.8 1087.7,1008.1 1088,1013.4 1088.3,1007.3 1088.6,1010.7 1088.9,1011.6 1089.2,1012.5 1089.5,1008.5 1089.8,1009.7 1090.1,1012.6 1090.4,1009.2 1090.7,1011.7 1091,1010.1 1091.3,1008.7 1091.6,1010.3 1091.9,1013 1092.2,1010 1092.5,1012.6 1092.8,1008.5 1093.1,1009 1093.4,1013.3 1093.7,1013.7 1094,1008.3 1094.3,1012.6 1094.6,1012.2 1094.9,1009.3 1095.2,1011.3 1095.5,1007.3 1095.8,1009 1096.1,1013.2 1096.4,1011.4 1096.7,1011.6 1097,1010.9 1097.3,1009.3 1097.6,1013.3 1097.9,1009.6 1098.2,1009.3 1098.5,1008.7 1098.8,1011.7 1099.1,1008.6 1099.4,1010 1099.7,1008.2 1100,1009.7 1100.3,1007.3 1100.6,1013.5 1100.9,1008.9 1101.2,1013.4 1101.5,1008.4 1101.8,1010.7 1102.1,1013 1102.4,1008.9 1102.7,1010 1103,1009.8 1103.3,1013 1103.6,1009.1 1103.9,1012.5 1104.2,1012.4 1104.5,1013.1 1104.8,1011.6 1105.1,1008.2 1105.4,1007.8 1105.7,1013.4 1106,1013.5 1106.3,1009.8 1106.6,1008.2 1106.9,1012.6 1107.2,1009.8 1107.5,1008.6 1107.8,1013.5 1108.1,1010.8 1108.4,1007.8 1108.7,1007 1109,1013 1109.3,1009.6 1109.6,1006.9 1109.9,1009.6 1110.2,1012.9 1110.5,1010.4 1110.8,1007.6 1111.1,1011.4 1111.4,1013.3 1111.7,1013.7 1112,1008.2 1112.3,1009 1112.6,1011.9 1112.9,1009.4 1113.2,1013.4 1113.5,1013.8 1113.8,1013.7 1114.1,1011.7 1114.4,1008.6 1114.7,1011.3 1115,1008.7 1115.3,1009.8 1115.6,1012.4 1115.9,1012.3 1116.2,1008.8 1116.5,1012.5 1116.8,1011.9 1117.1,1009.4 1117.4,1008.7 1117.7,1009.1 1118,1011.2 1118.3,1013 1118.6,1006.5 1118.9,1012.8 1119.2,1012.5 1119.5,1010.6 1119.8,1006.9 1120.1,1007.4 1120.4,1012.3 1120.7,1010.5 1121,1009.5 1121.3,1011.7 1121.6,1008.6 1121.9,1008.9 1122.2,1011.8 1122.5,1012.5 1122.8,1013.4 1123.1,1013.3 1123.4,1012.1 1123.7,1013.2 1124,1007.7 1124.3,1013.3 1124.6,1007.3 1124.9,1012.6 1125.2,1010.9 1125.5,1011.7 1125.8,1012.3 1126.1,1012.8 1126.4,1008.3 1126.7,1012.4 1127,1009.8 1127.3,1013 1127.6,1011.5 1127.9,1010.5 1128.2,1009.9 1128.5,1007.6 1128.8,1013.8 1129.1,1008.6 1129.4,1008.1 1129.7,1011.5 1130,1008.5 1130.3,1013.5 1130.6,1013.4 1130.9,1012.2 1131.2,1010.2 1131.5,1008.6 1131.8,1009 1132.1,1008.5 1132.4,1008.7 1132.7,1013.1 1133,1008.9 1133.3,1008.7 1133.6,1012.2 1133.9,1011 1134.2,1010.5 1134.5,1010.7 1134.8,1007.9 1135.1,1011.6 1135.4,1007.8 1135.7,1011 1136,1007.7 1136.3,1012.7 1136.6,1008.9 1136.9,1012 1137.2,1006.4 1137.5,1012.4 1137.8,1008.2 1138.1,1012.5 1138.4,1011.7 1138.7,1007 1139,1006.3 1139.3,1007 1139.6,1007.7 1139.9,1007.3 1140.2,1011.8 1140.5,1009.4 1140.8,1010.6 1141.1,1009.3 1141.4,1009.2 1141.7,1006 1142,1009.4 1142.3,1011.3 1142.6,1007.8 1142.9,1011.3 1143.2,1008.4 1143.5,1009.7 1143.8,1005.6 1144.1,1010.4 1144.4,1010.9 1144.7,1010.9 1145,1011.4 1145.3,1008.1 1145.6,1011.8 1145.9,1007.2 1146.2,1010.9 1146.5,1009.7 1146.8,1012 1147.1,1008.8 1147.4,1009.3 1147.7,1007.2 1148,1007.8 1148.3,1012 1148.6,1010.6 1148.9,1009.9 1149.2,1011.8 1149.5,1009.9 1149.8,1005.9 1150.1,1005.3 1150.4,1004.9 1150.7,1010.8 1151,1010.4 1151.3,1010.2 1151.6,1004.4 1151.9,1008.9 1152.2,1005 1152.5,1003.1 1152.8,1003.8 1153.1,1001.2 1153.4,1001.1 1153.7,999.2 1154,999.8 1154.3,997.4 1154.6,997.2 1154.9,993.3 1155.2,996.7 1155.5,995.4 1155.8,988.9 1156.1,993.7 1156.4,987.6 1156.7,987.7 1157,990.2 1157.3,995.1 1157.6,991.8 1157.9,995.3 1158.2,994.6 1158.5,1000.5 1158.8,997.7 1159.1,999.2 1159.4,1002.8 1159.7,1001 1160,1002 1160.3,1001.9 1160.6,1005.6 1160.9,1007.4 1161.2,1005.8 1161.5,1009.8 1161.8,1005.5 1162.1,1009.2 1162.4,1009.1 1162.7,1008.9 1163,1006.3 1163.3,1010.4 1163.6,1010 1163.9,1011.9 1164.2,1010.4 1164.5,1007 1164.8,1006.3 1165.1,1010 1165.4,1012 1165.7,1006.1 1166,1007.2 1166.3,1005.8 1166.6,1006.4 1166.9,1005.8 1167.2,1007.3 1167.5,1006.5 1167.8,1005.5 1168.1,1005.8 1168.4,1010 1168.7,1007.3 1169,1006.1 1169.3,1011.1 1169.6,1007.8 1169.9,1011.6 1170.2,1010.3 1170.5,1007.2 1170.8,1008.2 1171.1,1009.1 1171.4,1009.5 1171.7,1010.9 1172,1005.8 1172.3,1011.5 1172.6,1005.6 1172.9,1010.5 1173.2,1010.7 1173.5,1005.6 1173.8,1010.9 1174.1,1009.7 1174.4,1007.9 1174.7,1009 1175,1005.7 1175.3,1008.5 1175.6,1008 1175.9,1009.6 1176.2,1007.4 1176.5,1005.2 1176.8,1008.9 1177.1,1009.1 1177.4,1006.1 1177.7,1006.6 1178,1004.8 1178.3,1010.3 1178.6,1003.6 1178.9,1005.6 1179.2,1007.6 1179.5,1007.2 1179.8,1006 1180.1,1006 1180.4,1006.3 1180.7,1005.8 1181,1003.4 1181.3,1004.5 1181.6,1006.7 1181.9,1006.3 1182.2,1000.7 1182.5,1002.6 1182.8,1003.2 1183.1,1001.7 1183.4,1006.6 1183.7,1002 1184,1002.4 1184.3,1006.2 1184.6,1004.3 1184.9,1003.3 1185.2,1007.9 1185.5,1009.3 1185.8,1005.2 1186.1,1010.2 1186.4,1005.5 1186.7,1005.4 1187,1009.5 1187.3,1007.4 1187.6,1010.9 1187.9,1007.9 1188.2,1005.6 1188.5,1005.2 1188.8,1005.1 1189.1,1009.6 1189.4,1004.7 1189.7,1010.2 1190,1007.7 1190.3,1006.1 1190.6,1007.1 1190.9,1007.6 1191.2,1003.9 1191.5,1008.1 1191.8,1002.3 1192.1,1001.4 1192.4,1004.5 1192.7,1004.7 1193,1001.8 1193.3,1002.5 1193.6,1001 1193.9,1000.3 1194.2,1003.8 1194.5,1004.5 1194.8,1000.1 1195.1,1005.4 1195.4,1003.8 1195.7,1002 1196,1005.8 1196.3,1007.4 1196.6,1005.2 1196.9,1008.6 1197.2,1008.9 1197.5,1006.7 1197.8,1004 1198.1,1006.9 1198.4,1008.8 1198.7,1005.6 1199,1006 1199.3,1006.3 1199.6,1006.6 1199.9,1012.8 1200.2,1012.9 1200.5,1007.4 1200.8,1012 1201.1,1009.5 1201.4,1007.6 1201.7,1012.6 1202,1011.4 1202.3,1011.9 1202.6,1007.7 1202.9,1010.2 1203.2,1011.8 1203.5,1011.4 1203.8,1012 1204.1,1011 1204.4,1006.4 1204.7,1007.5 1205,1011.3 1205.3,1010.6 1205.6,1011.8 1205.9,1010.3 1206.2,1010.9 1206.5,1012.5 1206.8,1006.8 1207.1,1006.7 1207.4,1012.7 1207.7,1011.4 1208,1008.2 1208.3,1010.6 1208.6,1010.8 1208.9,1006.3 1209.2,1011.9 1209.5,1006.3 1209.8,1011.9 1210.1,1006.3 1210.4,1006.9 1210.7,1007.7 1211,1010.5 1211.3,1009.3 1211.6,1011.1 1211.9,1006.6 1212.2,1005.4 1212.5,1010.1 1212.8,1011.1 1213.1,1010.2 1213.4,1005.7 1213.7,1007.5 1214,1004.6 1214.3,1010.6 1214.6,1006.2 1214.9,1006.2 1215.2,1008.8 1215.5,1005.2 1215.8,1009.6 1216.1,1004.9 1216.4,1005 1216.7,1006 1217,1004.9 1217.3,1008.9 1217.6,1009 1217.9,1005.7 1218.2,1005.8 1218.5,1009.2 1218.8,1010.3 1219.1,1007.9 1219.4,1009.9 1219.7,1007.5 1220,1010.8 1220.3,1008.7 1220.6,1007.9 1220.9,1010.1 1221.2,1006.3 1221.5,1010.5 1221.8,1007.6 1222.1,1006.9 1222.4,1006.9 1222.7,1008.9 1223,1009.1 1223.3,1005.7 1223.6,1007.9 1223.9,1008.2 1224.2,1007.7 1224.5,1004.8 1224.8,1004.9 1225.1,1008.8 1225.4,1004.6 1225.7,1004.8 1226,1006.8 1226.3,1009 1226.6,1005.2 1226.9,1007.6 1227.2,1004.3 1227.5,1003.8 1227.8,1009.6 1228.1,1008.3 1228.4,1008.8 1228.7,1007.5 1229,1005.4 1229.3,1006 1229.6,1006.5 1229.9,1003.9 1230.2,1008.1 1230.5,1005.5 1230.8,1007.9 1231.1,1010.6 1231.4,1009.3 1231.7,1009.7 1232,1006.7 1232.3,1006.3 1232.6,1010.2 1232.9,1010.4 1233.2,1004.9 1233.5,1007.3 1233.8,1009.7 1234.1,1008.9 1234.4,1008.5 1234.7,1008.4 1235,1006.2 1235.3,1008.7 1235.6,1004.3 1235.9,1004.6 1236.2,1004.4 1236.5,1004.9 1236.8,1009.8 1237.1,1010.3 1237.4,1005.9 1237.7,1010 1238,1005.6 1238.3,1006.1 1238.6,1010.3 1238.9,1010.6 1239.2,1006 1239.5,1004.7 1239.8,1010.4 1240.1,1010.7 1240.4,1007.2 1240.7,1004.3 1241,1006.4 1241.3,1004.3 1241.6,1004.8 1241.9,1009.7 1242.2,1004.8 1242.5,1009.5 1242.8,1003.6 1243.1,1010.1 1243.4,1005.2 1243.7,1004.1 1244,1004.1 1244.3,1005.7 1244.6,1007.8 1244.9,1004.8 1245.2,1004.4 1245.5,1005.2 1245.8,1004.4 1246.1,1008.6 1246.4,1003.5 1246.7,1009.5 1247,1009 1247.3,1007.6 1247.6,1009.5 1247.9,1007.6 1248.2,1007.7 1248.5,1003.5 1248.8,1008.6 1249.1,1003.8 1249.4,1004.6 1249.7,1007.9 1250,1007.4 1250.3,1005.6 1250.6,1002.4 1250.9,1007.2 1251.2,1001.4 1251.5,1006.5 1251.8,1005.4 1252.1,1005.4 1252.4,1000.5 1252.7,1005.2 1253,1001.2 1253.3,1004.4 1253.6,1002.5 1253.9,1003.9 1254.2,1003.3 1254.5,996.7 1254.8,999.7 1255.1,1000.4 1255.4,1002.4 1255.7,1001.8 1256,999.9 1256.3,1001.8 1256.6,1002 1256.9,1001.4 1257.2,996.8 1257.5,996.2 1257.8,998.7 1258.1,999.7 1258.4,1001.2 1258.7,999.2 1259,999.1 1259.3,1000.7 1259.6,997.9 1259.9,1000.9 1260.2,1001.1 1260.5,998.6 1260.8,999 1261.1,998.8 1261.4,999.2 1261.7,1000.3 1262,1003.2 1262.3,1004.2 1262.6,1003.5 1262.9,1002.4 1263.2,1001.8 1263.5,1004.8 1263.8,1005.1 1264.1,999.2 1264.4,1002.9 1264.7,1001.7 1265,1005.7 1265.3,1004.2 1265.6,1003.3 1265.9,1000.4 1266.2,1006 1266.5,1000.6 1266.8,1003.7 1267.1,1000 1267.4,1000.1 1267.7,1000.2 1268,1004.8 1268.3,1002.1 1268.6,1001.1 1268.9,994.9 1269.2,997.9 1269.5,994 1269.8,992.3 1270.1,988 1270.4,983.7 1270.7,976.5 1271,976 1271.3,973.8 1271.6,975.8 1271.9,973.3 1272.2,978.8 1272.5,981.6 1272.8,980.6 1273.1,984.3 1273.4,992 1273.7,993.2 1274,998.4 1274.3,996.8 1274.6,1002.5 1274.9,1000 1275.2,1001 1275.5,1006.5 1275.8,1007 1276.1,1005.6 1276.4,1008.3 1276.7,1008.4 1277,1006.9 1277.3,1007 1277.6,1007 1277.9,1006.6 1278.2,1002.1 1278.5,1007.5 1278.8,1006.6 1279.1,1002.9 1279.4,1007.2 1279.7,1005.4 1280,1000.8 1280.3,1001.2 1280.6,1004.5 1280.9,1001.5 1281.2,999.8 1281.5,998.9 1281.8,1002.3 1282.1,1003.5 1282.4,1004 1282.7,998.1 1283,998.9 1283.3,998.9 1283.6,1000.7 1283.9,997.4 1284.2,1003.2 1284.5,996.9 1284.8,1000 1285.1,1003.1 1285.4,1000.7 1285.7,999.9 1286,999.1 1286.3,1001.1 1286.6,1000.1 1286.9,1001 1287.2,1000.5 1287.5,1000.3 1287.8,999.1 1288.1,1001.1 1288.4,995.8 1288.7,997.2 1289,994.8 1289.3,998.4 1289.6,1000 1289.9,998.3 1290.2,994.4 1290.5,998.9 1290.8,993 1291.1,997.9 1291.4,996.5 1291.7,993.2 1292,993.4 1292.3,994 1292.6,999.2 1292.9,994 1293.2,996.4 1293.5,997.5 1293.8,996.4 1294.1,995 1294.4,995.7 1294.7,1000.9 1295,996.1 1295.3,1002.6 1295.6,1002.1 1295.9,997.8 1296.2,998.1 1296.5,1001 1296.8,998.3 1297.1,1001.9 1297.4,998.6 1297.7,1004.4 1298,1003.6 1298.3,998.7 1298.6,999.4 1298.9,1002.1 1299.2,999.6 1299.5,1001 1299.8,1004.4 1300.1,1003.8 1300.4,999.5 1300.7,1000 1301,1004.2 1301.3,1001.9 1301.6,1002.2 1301.9,1002.4 1302.2,1003.7 1302.5,998.7 1302.8,999.7 1303.1,999.2 1303.4,1002.9 1303.7,1002.6 1304,998.2 1304.3,999 1304.6,998.2 1304.9,1004 1305.2,998 1305.5,998.6 1305.8,1002.5 1306.1,1002.9 1306.4,997.4 1306.7,1001 1307,997.4 1307.3,995.6 1307.6,995.5 1307.9,996.2 1308.2,993.9 1308.5,999.3 1308.8,998.5 1309.1,997.8 1309.4,992.2 1309.7,997 1310,994.1 1310.3,989.8 1310.6,993 1310.9,990.4 1311.2,990.6 1311.5,986.9 1311.8,991.6 1312.1,991.1 1312.4,989.9 1312.7,984.4 1313,983.4 1313.3,987.3 1313.6,987.6 1313.9,984.3 1314.2,987.1 1314.5,985.2 1314.8,985.5 1315.1,983.8 1315.4,983.9 1315.7,988.1 1316,982.3 1316.3,983.3 1316.6,986.5 1316.9,983.6 1317.2,984.3 1317.5,989 1317.8,986.7 1318.1,989.8 1318.4,989.8 1318.7,988.6 1319,988.2 1319.3,987.2 1319.6,990.4 1319.9,986.2 1320.2,990.4 1320.5,986.9 1320.8,985.5 1321.1,987.5 1321.4,987.6 1321.7,989.3 1322,985.8 1322.3,988 1322.6,986.9 1322.9,986.8 1323.2,985.9 1323.5,989.1 1323.8,984.7 1324.1,983.7 1324.4,986.2 1324.7,983.3 1325,989.1 1325.3,984.6 1325.6,983.1 1325.9,988.1 1326.2,984.2 1326.5,988.4 1326.8,990.6 1327.1,990.9 1327.4,986.5 1327.7,986.8 1328,989 1328.3,990.1 1328.6,993.3 1328.9,994.4 1329.2,990.4 1329.5,992.4 1329.8,995 1330.1,996.4 1330.4,996.7 1330.7,994.2 1331,996.6 1331.3,996 1331.6,994.4 1331.9,995.4 1332.2,998.9 1332.5,1001.3 1332.8,997.6 1333.1,997.4 1333.4,996.6 1333.7,1002.4 1334,997.2 1334.3,997.9 1334.6,1003.2 1334.9,998.4 1335.2,999.7 1335.5,998.8 1335.8,998 1336.1,998.9 1336.4,1002.9 1336.7,1000.1 1337,999 1337.3,1002.8 1337.6,998.9 1337.9,999.5 1338.2,1000.5 1338.5,1000.8 1338.8,1004.5 1339.1,1004.5 1339.4,1003.2 1339.7,1000.2 1340,1003.7 1340.3,1002.5 1340.6,1005.2 1340.9,999.2 1341.2,1004 1341.5,1003.9 1341.8,999.5 1342.1,999.2 1342.4,999.3 1342.7,1005.3 1343,1002.3 1343.3,1001 1343.6,1003.5 1343.9,1004.1 1344.2,998.9 1344.5,1002.3 1344.8,1002.7 1345.1,1001 1345.4,998.9 1345.7,1004 1346,998.1 1346.3,1003.9 1346.6,1001.3 1346.9,1002.8 1347.2,1000.6 1347.5,1000.5 1347.8,999.1 1348.1,999.6 1348.4,1000.5 1348.7,1000.4 1349,999.5 1349.3,1004.6 1349.6,999.2 1349.9,998.7 1350.2,1000 1350.5,1000.7 1350.8,1001 1351.1,1002.8 1351.4,1000.8 1351.7,1002.1 1352,1002.4 1352.3,1003.6 1352.6,999 1352.9,999 1353.2,998.8 1353.5,1003.8 1353.8,1001.8 1354.1,998.2 1354.4,1003.4 1354.7,998.9 1355,999.4" fill="none" stroke="#8000ff" stroke-width="9.5" stroke-linejoin="round" stroke-linecap="butt"/>
<polyline points="189.5,1256.7 189.8,1258.9 190.1,1259.9 190.4,1255.5 190.7,1259.3 191,1258.2 191.3,1259.4 191.6,1255.4 191.9,1258.6 192.2,1260.9 192.5,1259.4 192.8,1260 193.1,1258.7 193.4,1258.1 193.7,1259.8 194,1259.7 194.3,1255.3 194.6,1256 194.9,1256.8 195.2,1259.9 195.5,1260.8 195.8,1257.5 196.1,1258.7 196.4,1255.3 196.7,1256.2 197,1256.3 197.3,1260.8 197.6,1260.8 197.9,1255.4 198.2,1255.9 198.5,1260.4 198.8,1261 199.1,1257.3 199.4,1260.2 199.7,1259 200,1259.7 200.3,1257 200.6,1256.4 200.9,1259.5 201.2,1256.8 201.5,1260.2 201.8,1256.8 202.1,1258.4 202.4,1259.9 202.7,1258.5 203,1255.2 203.3,1254.9 203.6,1257.1 203.9,1257.5 204.2,1260.5 204.5,1256.2 204.8,1259.8 205.1,1257.1 205.4,1256 205.7,1256 206,1258.2 206.3,1255.1 206.6,1258.9 206.9,1258.1 207.2,1255.8 207.5,1256.5 207.8,1258.5 208.1,1257.6 208.4,1258.5 208.7,1254.8 209,1259.7 209.3,1255.8 209.6,1260.5 209.9,1258.6 210.2,1255.1 210.5,1257.6 210.8,1255.9 211.1,1256.3 211.4,1257 211.7,1256.3 212,1255.8 212.3,1257.6 212.6,1253.6 212.9,1254 213.2,1255 213.5,1257.7 213.8,1258.3 214.1,1253.1 214.4,1254.8 214.7,1254.9 215,1253.5 215.3,1256.1 215.6,1257.1 215.9,1253.6 216.2,1255.5 216.5,1252.1 216.8,1254 217.1,1254.8 217.4,1254.9 217.7,1253.6 218,1250.8 218.3,1250.6 218.6,1245.2 218.9,1240.5 219.2,1239 219.5,1234.7 219.8,1222 220.1,1213.5 220.4,1194.3 220.7,1175.5 221,1153.1 221.3,1130.1 221.6,1111.4 221.9,1092.9 222.2,1083.2 222.5,1084.6 222.8,1101 223.1,1117.1 223.4,1143.7 223.7,1163 224,1184.4 224.3,1205.8 224.6,1219.8 224.9,1227.4 225.2,1235.5 225.5,1246.3 225.8,1249.1 226.1,1251.5 226.4,1251.5 226.7,1255.7 227,1253 227.3,1256.3 227.6,1257.9 227.9,1259.8 228.2,1259.4 228.5,1256.2 228.8,1256.6 229.1,1257.7 229.4,1260.9 229.7,1257.5 230,1259 230.3,1257.7 230.6,1257.2 230.9,1257.8 231.2,1260.9 231.5,1258 231.8,1258.8 232.1,1258.2 232.4,1260.6 232.7,1263.4 233,1260.6 233.3,1264.2 233.6,1263.8 233.9,1263.3 234.2,1264 234.5,1260.5 234.8,1262.8 235.1,1264.6 235.4,1260.2 235.7,1264.7 236,1263.5 236.3,1264.4 236.6,1259.1 236.9,1264.7 237.2,1259.4 237.5,1259.4 237.8,1264 238.1,1262.5 238.4,1259.7 238.7,1263.1 239,1259.1 239.3,1262.3 239.6,1263.3 239.9,1259.2 240.2,1261.6 240.5,1260.8 240.8,1262.5 241.1,1264.4 241.4,1259.1 241.7,1261.3 242,1261.8 242.3,1259.1 242.6,1261.3 242.9,1259.6 243.2,1261.3 243.5,1260.1 243.8,1260.9 244.1,1265 244.4,1260.4 244.7,1262.7 245,1263.3 245.3,1260.2 245.6,1264 245.9,1261.8 246.2,1264.8 246.5,1260.4 246.8,1261.6 247.1,1259.1 247.4,1263.2 247.7,1261.4 248,1262.2 248.3,1259.9 248.6,1264.9 248.9,1261.5 249.2,1262 249.5,1260.6 249.8,1259.6 250.1,1265.2 250.4,1264.6 250.7,1261.5 251,1264.1 251.3,1264.3 251.6,1264 251.9,1261.4 252.2,1262.2 252.5,1261.7 252.8,1261.7 253.1,1262 253.4,1265.6 253.7,1262.7 254,1266.5 254.3,1263.5 254.6,1261.2 254.9,1266.5 255.2,1262.3 255.5,1261.1 255.8,1265.4 256.1,1262.1 256.4,1264 256.7,1265.5 257,1262.5 257.3,1261.1 257.6,1265.4 257.9,1261.9 258.2,1261.7 258.5,1262.2 258.8,1263.4 259.1,1262 259.4,1261.3 259.7,1263.4 260,1263.4 260.3,1261.3 260.6,1262.5 260.9,1264.6 261.2,1264.6 261.5,1264 261.8,1263.7 262.1,1264.8 262.4,1266.4 262.7,1266.8 263,1261.6 263.3,1265.1 263.6,1265.2 263.9,1266.8 264.2,1262.5 264.5,1266.1 264.8,1263.1 265.1,1261.5 265.4,1263.2 265.7,1265.7 266,1263.7 266.3,1262 266.6,1265.7 266.9,1264.5 267.2,1264.6 267.5,1262.7 267.8,1264.3 268.1,1262.2 268.4,1261.9 268.7,1263 269,1263.7 269.3,1266.2 269.6,1263.1 269.9,1262.3 270.2,1261.8 270.5,1265.5 270.8,1264.2 271.1,1262.3 271.4,1267.3 271.7,1263.9 272,1267.7 272.3,1265.5 272.6,1262.3 272.9,1262.3 273.2,1263.7 273.5,1265.9 273.8,1266.7 274.1,1266.2 274.4,1263.4 274.7,1262.3 275,1264.5 275.3,1262.5 275.6,1265.3 275.9,1264.3 276.2,1262.7 276.5,1262.5 276.8,1265.6 277.1,1261.4 277.4,1264.1 277.7,1262.3 278,1266.3 278.3,1262.2 278.6,1264.9 278.9,1264.5 279.2,1267.3 279.5,1264.8 279.8,1265.1 280.1,1267.5 280.4,1263.1 280.7,1262.8 281,1263.7 281.3,1262.7 281.6,1266.2 281.9,1266.5 282.2,1266.1 282.5,1267.6 282.8,1267.5 283.1,1266.8 283.4,1261.7 283.7,1265.6 284,1265.6 284.3,1264.5 284.6,1267 284.9,1262.3 285.2,1262.7 285.5,1267.5 285.8,1263.3 286.1,1262.8 286.4,1261.9 286.7,1264.2 287,1266.5 287.3,1262.8 287.6,1267.3 287.9,1266.5 288.2,1267.3 288.5,1266.9 288.8,1264 289.1,1263.2 289.4,1261.9 289.7,1266 290,1261.1 290.3,1260.7 290.6,1263.6 290.9,1265.2 291.2,1261.1 291.5,1264.8 291.8,1261.5 292.1,1262 292.4,1263.3 292.7,1263.6 293,1263.4 293.3,1262.2 293.6,1266.5 293.9,1263.2 294.2,1261.3 294.5,1261.7 294.8,1266.1 295.1,1265.3 295.4,1262.7 295.7,1266.7 296,1262.9 296.3,1264.5 296.6,1261.3 296.9,1262.4 297.2,1265.6 297.5,1266.7 297.8,1265.9 298.1,1261.7 298.4,1262.5 298.7,1261.8 299,1267.2 299.3,1265.5 299.6,1263.5 299.9,1265.3 300.2,1262.4 300.5,1263.5 300.8,1261.9 301.1,1262.4 301.4,1262.8 301.7,1263.6 302,1264.4 302.3,1264.9 302.6,1262.1 302.9,1264.4 303.2,1266.5 303.5,1266.1 303.8,1262.8 304.1,1267.1 304.4,1267.2 304.7,1262.4 305,1265.2 305.3,1262.8 305.6,1263.3 305.9,1262.8 306.2,1265.5 306.5,1264.4 306.8,1262.2 307.1,1262.6 307.4,1266.1 307.7,1262.6 308,1265.1 308.3,1266.5 308.6,1261.9 308.9,1262.2 309.2,1267.2 309.5,1262.9 309.8,1267.6 310.1,1264.8 310.4,1267.5 310.7,1263.8 311,1264.8 311.3,1264.4 311.6,1267.7 311.9,1262.9 312.2,1265.3 312.5,1268.1 312.8,1267.8 313.1,1264.3 313.4,1267.3 313.7,1263 314,1267.4 314.3,1267.7 314.6,1263.6 314.9,1267.7 315.2,1266.4 315.5,1267.9 315.8,1268.5 316.1,1263.3 316.4,1263.1 316.7,1268.7 317,1262.8 317.3,1267.7 317.6,1263.9 317.9,1267.9 318.2,1263.2 318.5,1266.5 318.8,1262.8 319.1,1263.1 319.4,1263.2 319.7,1265.7 320,1263.6 320.3,1265.8 320.6,1264.5 320.9,1263.6 321.2,1265 321.5,1265 321.8,1263.7 322.1,1265.5 322.4,1268.6 322.7,1269 323,1268.9 323.3,1268.9 323.6,1265.2 323.9,1267.1 324.2,1267.3 324.5,1264.2 324.8,1266.1 325.1,1263.4 325.4,1267.2 325.7,1263.1 326,1266.6 326.3,1263.3 326.6,1267.3 326.9,1266.2 327.2,1262.3 327.5,1262.9 327.8,1267.8 328.1,1266.8 328.4,1267.5 328.7,1265.8 329,1263.5 329.3,1262 329.6,1263.2 329.9,1266 330.2,1262.6 330.5,1265.9 330.8,1263 331.1,1264.4 331.4,1261.9 331.7,1264.2 332,1261.8 332.3,1266.8 332.6,1267 332.9,1267 333.2,1261.7 333.5,1262.6 333.8,1266.3 334.1,1263.8 334.4,1262.5 334.7,1262 335,1266.9 335.3,1265.5 335.6,1262.5 335.9,1264.1 336.2,1263.3 336.5,1265.7 336.8,1268 337.1,1264.3 337.4,1263.1 337.7,1262.8 338,1267.9 338.3,1267.7 338.6,1265.6 338.9,1265.1 339.2,1262.4 339.5,1263.5 339.8,1263.9 340.1,1266 340.4,1266.8 340.7,1266.8 341,1266.3 341.3,1266.8 341.6,1264 341.9,1263 342.2,1266.6 342.5,1267.7 342.8,1266.9 343.1,1263.2 343.4,1264.2 343.7,1265.2 344,1263.6 344.3,1262.6 344.6,1266.1 344.9,1265.3 345.2,1261.8 345.5,1263.5 345.8,1262 346.1,1262.7 346.4,1267.9 346.7,1264.3 347,1267.9 347.3,1263 347.6,1262.4 347.9,1266.2 348.2,1263.8 348.5,1267.8 348.8,1267.7 349.1,1263.8 349.4,1263 349.7,1264.3 350,1264.9 350.3,1268.2 350.6,1266.8 350.9,1268.9 351.2,1268.7 351.5,1263.5 351.8,1263.6 352.1,1266.1 352.4,1266.4 352.7,1268.5 353,1265.1 353.3,1268.5 353.6,1263.6 353.9,1269.2 354.2,1269.4 354.5,1268.6 354.8,1267.7 355.1,1264.7 355.4,1269.1 355.7,1265 356,1264.9 356.3,1264.9 356.6,1266.3 356.9,1264.3 357.2,1265.1 357.5,1267.4 357.8,1268.6 358.1,1262.7 358.4,1266.5 358.7,1268.4 359,1268.4 359.3,1264.8 359.6,1267.1 359.9,1265.7 360.2,1267.2 360.5,1263.6 360.8,1262 361.1,1262.1 361.4,1267.1 361.7,1263 362,1264.2 362.3,1262.7 362.6,1266.7 362.9,1264.7 363.2,1266.6 363.5,1267.2 363.8,1266.8 364.1,1264.8 364.4,1264.3 364.7,1267.8 365,1266.2 365.3,1267.1 365.6,1262.2 365.9,1267.1 366.2,1264.9 366.5,1266.8 366.8,1266.9 367.1,1264.1 367.4,1266.3 367.7,1264.6 368,1267.7 368.3,1266.1 368.6,1263.5 368.9,1267.6 369.2,1262.2 369.5,1265.9 369.8,1266.2 370.1,1263.1 370.4,1267.1 370.7,1265.2 371,1266 371.3,1262.5 371.6,1263.8 371.9,1263.1 372.2,1264.8 372.5,1266.5 372.8,1266.4 373.1,1262.4 373.4,1267.7 373.7,1263.1 374,1264.4 374.3,1266.2 374.6,1264 374.9,1265.3 375.2,1265.9 375.5,1265.1 375.8,1265.4 376.1,1261.7 376.4,1262.2 376.7,1265.7 377,1261.1 377.3,1265.5 377.6,1264.8 377.9,1263.7 378.2,1262.4 378.5,1262.5 378.8,1263 379.1,1260.9 379.4,1266.2 379.7,1261.8 380,1261.4 380.3,1264.5 380.6,1261.4 380.9,1265.9 381.2,1266.9 381.5,1261.5 381.8,1265.9 382.1,1267.1 382.4,1262.1 382.7,1261.8 383,1262.3 383.3,1263.3 383.6,1267.3 383.9,1265.8 384.2,1264.5 384.5,1264.6 384.8,1266 385.1,1263.8 385.4,1264.1 385.7,1264.8 386,1268.4 386.3,1266.1 386.6,1262.9 386.9,1268 387.2,1266.9 387.5,1262.4 387.8,1264.8 388.1,1267.7 388.4,1267.6 388.7,1263.5 389,1264.8 389.3,1261.6 389.6,1265.5 389.9,1262.8 390.2,1263.9 390.5,1264.8 390.8,1267.1 391.1,1266.7 391.4,1265.7 391.7,1261.3 392,1263.7 392.3,1262.4 392.6,1266.9 392.9,1267 393.2,1261.8 393.5,1265.2 393.8,1265.4 394.1,1265 394.4,1266.8 394.7,1264.1 395,1267 395.3,1263.2 395.6,1265.1 395.9,1266.8 396.2,1261.7 396.5,1262.3 396.8,1264.4 397.1,1266.4 397.4,1263.6 397.7,1262.7 398,1264.6 398.3,1264.3 398.6,1260 398.9,1262.8 399.2,1263.5 399.5,1263.2 399.8,1258.7 400.1,1262.8 400.4,1261.1 400.7,1259.2 401,1256.1 401.3,1260.1 401.6,1256.1 401.9,1258.9 402.2,1256 402.5,1257 402.8,1258.6 403.1,1257.8 403.4,1255.1 403.7,1258.6 404,1254.9 404.3,1260.1 404.6,1260.7 404.9,1257.5 405.2,1260.1 405.5,1257.5 405.8,1261 406.1,1260.5 406.4,1261.7 406.7,1260.5 407,1260.3 407.3,1262.9 407.6,1261.1 407.9,1265 408.2,1265 408.5,1260.7 408.8,1262.2 409.1,1266.1 409.4,1266.5 409.7,1262.4 410,1265.5 410.3,1264.5 410.6,1265.1 410.9,1265.6 411.2,1263 411.5,1262.8 411.8,1264.3 412.1,1260.8 412.4,1264.9 412.7,1265 413,1263.2 413.3,1264.1 413.6,1263.8 413.9,1260.8 414.2,1261 414.5,1263.7 414.8,1266 415.1,1265.5 415.4,1261.8 415.7,1263.4 416,1266.8 416.3,1266.6 416.6,1263.2 416.9,1265.7 417.2,1264.6 417.5,1266.7 417.8,1262.7 418.1,1266.5 418.4,1261.4 418.7,1260.8 419,1260.4 419.3,1263.4 419.6,1262.1 419.9,1264 420.2,1262.6 420.5,1256.5 420.8,1256.9 421.1,1254.4 421.4,1255.8 421.7,1250.2 422,1245.4 422.3,1240.1 422.6,1227 422.9,1218.5 423.2,1208.9 423.5,1193.4 423.8,1181.9 424.1,1172.4 424.4,1170.6 424.7,1171.9 425,1180.6 425.3,1195.5 425.6,1207.2 425.9,1220.2 426.2,1231.6 426.5,1239.8 426.8,1241.8 427.1,1247.3 427.4,1251.8 427.7,1257.2 428,1257.6 428.3,1256 428.6,1258.7 428.9,1258.1 429.2,1261.5 429.5,1261.9 429.8,1259.1 430.1,1264.6 430.4,1260.4 430.7,1262 431,1260.1 431.3,1260.4 431.6,1262.3 431.9,1264.1 432.2,1263.5 432.5,1261.1 432.8,1265 433.1,1265.6 433.4,1261.6 433.7,1260.5 434,1261.4 434.3,1260.8 434.6,1261.7 434.9,1263.9 435.2,1260.7 435.5,1261 435.8,1266.2 436.1,1261.4 436.4,1265.9 436.7,1265.8 437,1265.5 437.3,1264.6 437.6,1266 437.9,1266.5 438.2,1266.3 438.5,1266.8 438.8,1263.5 439.1,1265.1 439.4,1263.1 439.7,1266.8 440,1261.5 440.3,1262.9 440.6,1261.5 440.9,1261.3 441.2,1266.3 441.5,1265.6 441.8,1261.3 442.1,1266.2 442.4,1265.9 442.7,1264.5 443,1264.5 443.3,1262.9 443.6,1263.2 443.9,1262.3 444.2,1265.3 444.5,1265.7 444.8,1261.5 445.1,1261.6 445.4,1264.3 445.7,1260.3 446,1264.2 446.3,1260.1 446.6,1261.3 446.9,1259 447.2,1262.5 447.5,1262.7 447.8,1260.5 448.1,1258.9 448.4,1262.8 448.7,1261.1 449,1257.3 449.3,1255.3 449.6,1253.6 449.9,1251.2 450.2,1252.4 450.5,1246.2 450.8,1241.5 451.1,1235.6 451.4,1223.3 451.7,1218.4 452,1210.1 452.3,1199.4 452.6,1198.5 452.9,1197.4 453.2,1199.4 453.5,1205 453.8,1216.1 454.1,1224.1 454.4,1231.2 454.7,1241.9 455,1246.8 455.3,1251.1 455.6,1251 455.9,1257.2 456.2,1258 456.5,1258.6 456.8,1260.1 457.1,1261.2 457.4,1263 457.7,1259.6 458,1261.2 458.3,1259 458.6,1259.2 458.9,1262.3 459.2,1262.9 459.5,1260 459.8,1259.7 460.1,1260.1 460.4,1260.8 460.7,1264.1 461,1264.8 461.3,1263.7 461.6,1263 461.9,1260.1 462.2,1260.9 462.5,1263.6 462.8,1261.2 463.1,1258.6 463.4,1260 463.7,1261.6 464,1260.3 464.3,1262.8 464.6,1261.8 464.9,1261.4 465.2,1257.8 465.5,1261.6 465.8,1258.3 466.1,1259.6 466.4,1259.6 466.7,1260.1 467,1261.8 467.3,1259.2 467.6,1262.7 467.9,1259 468.2,1262.1 468.5,1262 468.8,1259.4 469.1,1263.2 469.4,1262.7 469.7,1259.5 470,1260.8 470.3,1260.7 470.6,1257.6 470.9,1260.4 471.2,1261.7 471.5,1257.7 471.8,1259.9 472.1,1260.6 472.4,1260.8 472.7,1259.5 473,1257.5 473.3,1258.7 473.6,1257.8 473.9,1259.1 474.2,1255.4 474.5,1259.7 474.8,1259.6 475.1,1257.5 475.4,1254.7 475.7,1255.3 476,1253.6 476.3,1253.6 476.6,1253.4 476.9,1254.7 477.2,1256.4 477.5,1256.5 477.8,1255.1 478.1,1252.6 478.4,1254.7 478.7,1254 479,1252.2 479.3,1248.6 479.6,1247.9 479.9,1247.1 480.2,1248 480.5,1250.3 480.8,1250.5 481.1,1249.7 481.4,1243.8 481.7,1247.6 482,1246.4 482.3,1240.3 482.6,1239.2 482.9,1242.4 483.2,1236.6 483.5,1235.3 483.8,1235.1 484.1,1233.7 484.4,1231.3 484.7,1232.8 485,1232.1 485.3,1230.5 485.6,1224.4 485.9,1225 486.2,1222.6 486.5,1216.6 486.8,1213.8 487.1,1212.4 487.4,1211 487.7,1204.3 488,1204.7 488.3,1201.7 488.6,1197.9 488.9,1190.4 489.2,1186.2 489.5,1182.9 489.8,1182.5 490.1,1178 490.4,1175.6 490.7,1169.3 491,1166.2 491.3,1167.4 491.6,1164.2 491.9,1161.8 492.2,1162.5 492.5,1160.6 492.8,1165.3 493.1,1166.5 493.4,1166.4 493.7,1169.3 494,1169 494.3,1171 494.6,1175.9 494.9,1177.8 495.2,1184.8 495.5,1185.4 495.8,1188.8 496.1,1196.3 496.4,1198.9 496.7,1202.5 497,1204.1 497.3,1210.5 497.6,1209.9 497.9,1213.3 498.2,1219.7 498.5,1219.8 498.8,1219.8 499.1,1222.4 499.4,1225.1 499.7,1229.5 500,1228.5 500.3,1233 500.6,1231.6 500.9,1234.3 501.2,1236.6 501.5,1241.2 501.8,1237.6 502.1,1243.1 502.4,1241.7 502.7,1245.5 503,1247.7 503.3,1244.2 503.6,1248.1 503.9,1246.4 504.2,1249.3 504.5,1247.2 504.8,1248 505.1,1249 505.4,1250.3 505.7,1248.6 506,1253.7 506.3,1250.9 506.6,1253.2 506.9,1254.1 507.2,1255.8 507.5,1251.1 507.8,1255.8 508.1,1252.5 508.4,1253.5 508.7,1254.5 509,1257.6 509.3,1257.7 509.6,1254.6 509.9,1254.6 510.2,1259.4 510.5,1256.5 510.8,1258.2 511.1,1254.8 511.4,1260.3 511.7,1255.4 512,1255.9 512.3,1256.6 512.6,1255.3 512.9,1257 513.2,1257.3 513.5,1257 513.8,1261.3 514.1,1261.6 514.4,1256.3 514.7,1257.4 515,1259.9 515.3,1258.1 515.6,1257.9 515.9,1256.6 516.2,1260.7 516.5,1261.5 516.8,1257.4 517.1,1259.1 517.4,1260 517.7,1262 518,1259.8 518.3,1261.8 518.6,1258.7 518.9,1262.6 519.2,1259 519.5,1260.5 519.8,1262.5 520.1,1259.8 520.4,1259.2 520.7,1264.3 521,1261.5 521.3,1260.8 521.6,1260.7 521.9,1265.3 522.2,1262.4 522.5,1263.2 522.8,1260.9 523.1,1261.7 523.4,1259.2 523.7,1263.7 524,1264.9 524.3,1259.5 524.6,1263.9 524.9,1259.5 525.2,1265 525.5,1261.3 525.8,1264.5 526.1,1260.5 526.4,1264.8 526.7,1263.4 527,1265.1 527.3,1263.4 527.6,1260.6 527.9,1260.1 528.2,1259.6 528.5,1263.5 528.8,1260.5 529.1,1260.2 529.4,1263.2 529.7,1259.7 530,1262.3 530.3,1260.3 530.6,1265.5 530.9,1260.2 531.2,1263.3 531.5,1263.1 531.8,1265.2 532.1,1260.1 532.4,1260.2 532.7,1261.3 533,1264.7 533.3,1263.9 533.6,1260.1 533.9,1261 534.2,1265.3 534.5,1261.4 534.8,1260.5 535.1,1261.1 535.4,1263.7 535.7,1259.8 536,1261.9 536.3,1260 536.6,1262.8 536.9,1261.9 537.2,1259.2 537.5,1260.4 537.8,1260.8 538.1,1262 538.4,1259.2 538.7,1264.3 539,1264.2 539.3,1259.6 539.6,1258.8 539.9,1263.6 540.2,1259.5 540.5,1263.6 540.8,1264.1 541.1,1262.1 541.4,1264.1 541.7,1261.3 542,1264.3 542.3,1263.4 542.6,1263.9 542.9,1260.8 543.2,1259.6 543.5,1262.8 543.8,1262.6 544.1,1264.9 544.4,1263.8 544.7,1263.9 545,1263.8 545.3,1264.1 545.6,1263.8 545.9,1260.5 546.2,1264.5 546.5,1258.7 546.8,1261.1 547.1,1264 547.4,1263 547.7,1260.9 548,1258.3 548.3,1258.5 548.6,1259.1 548.9,1260.8 549.2,1260.9 549.5,1257.2 549.8,1259.7 550.1,1261.5 550.4,1256.8 550.7,1260.2 551,1257.4 551.3,1256.4 551.6,1259 551.9,1255.8 552.2,1257.7 552.5,1259.1 552.8,1258.3 553.1,1253.9 553.4,1253.5 553.7,1255.2 554,1255.8 554.3,1254.3 554.6,1256.2 554.9,1257.3 555.2,1256.9 555.5,1250.9 555.8,1255.5 556.1,1251 556.4,1253.8 556.7,1254.6 557,1251.7 557.3,1253.1 557.6,1248.4 557.9,1246.6 558.2,1246.3 558.5,1245.4 558.8,1245 559.1,1242.6 559.4,1246.1 559.7,1239.4 560,1240.7 560.3,1238.5 560.6,1239.2 560.9,1235.1 561.2,1233.9 561.5,1233.2 561.8,1231.5 562.1,1227.6 562.4,1224.5 562.7,1222.5 563,1218.3 563.3,1212 563.6,1209.3 563.9,1208.3 564.2,1206 564.5,1198.7 564.8,1198.1 565.1,1195 565.4,1187.2 565.7,1188.8 566,1183.5 566.3,1181.2 566.6,1180.1 566.9,1178.1 567.2,1180 567.5,1178 567.8,1180.8 568.1,1185.2 568.4,1191.2 568.7,1200.8 569,1204.1 569.3,1209.5 569.6,1221.1 569.9,1224.8 570.2,1229.9 570.5,1238.1 570.8,1243.6 571.1,1245.9 571.4,1246.7 571.7,1251.3 572,1254.7 572.3,1251.4 572.6,1256.1 572.9,1258 573.2,1256.5 573.5,1258.2 573.8,1259.4 574.1,1256.8 574.4,1257.3 574.7,1252.4 575,1255 575.3,1250.7 575.6,1245 575.9,1243.7 576.2,1232.6 576.5,1221.6 576.8,1208.1 577.1,1194.5 577.4,1177 577.7,1157.3 578,1143.2 578.3,1131.1 578.6,1124.1 578.9,1130.8 579.2,1141.1 579.5,1160.1 579.8,1179.8 580.1,1197.1 580.4,1208.6 580.7,1225.6 581,1232.1 581.3,1240.5 581.6,1249.6 581.9,1253.3 582.2,1251.8 582.5,1256.7 582.8,1256.2 583.1,1256.9 583.4,1258.2 583.7,1262.1 584,1257.1 584.3,1257.6 584.6,1257.9 584.9,1258.3 585.2,1260.9 585.5,1260 585.8,1259.9 586.1,1264.3 586.4,1260.8 586.7,1261.7 587,1260.6 587.3,1261.3 587.6,1260.2 587.9,1264 588.2,1265.5 588.5,1261.7 588.8,1264.7 589.1,1266.3 589.4,1263.2 589.7,1266.5 590,1262 590.3,1265.7 590.6,1266.9 590.9,1262.2 591.2,1262.6 591.5,1263.4 591.8,1263.5 592.1,1263.8 592.4,1265.9 592.7,1267.6 593,1265.3 593.3,1265.5 593.6,1262 593.9,1267.7 594.2,1267.5 594.5,1262.6 594.8,1266.3 595.1,1265.3 595.4,1267.2 595.7,1263.1 596,1262.3 596.3,1263.1 596.6,1267.3 596.9,1265.3 597.2,1264.8 597.5,1265.1 597.8,1260.6 598.1,1260.5 598.4,1260.5 598.7,1258.5 599,1257.5 599.3,1262.6 599.6,1258.1 599.9,1257.6 600.2,1258.6 600.5,1256.1 600.8,1256 601.1,1258.6 601.4,1258.6 601.7,1257.2 602,1254.9 602.3,1258.7 602.6,1258.3 602.9,1257.7 603.2,1261.7 603.5,1261.7 603.8,1261.5 604.1,1260.6 604.4,1261.3 604.7,1264.9 605,1264.6 605.3,1263 605.6,1262.4 605.9,1264.8 606.2,1262.4 606.5,1265.8 606.8,1266.5 607.1,1264.3 607.4,1267.4 607.7,1267.4 608,1264.2 608.3,1266.2 608.6,1263 608.9,1263.8 609.2,1267 609.5,1264.6 609.8,1268.8 610.1,1266.3 610.4,1265.1 610.7,1268.4 611,1265.1 611.3,1264.1 611.6,1266.3 611.9,1263 612.2,1266.8 612.5,1263 612.8,1264.1 613.1,1268.4 613.4,1264.7 613.7,1267 614,1263.4 614.3,1265.1 614.6,1266.8 614.9,1265 615.2,1267.3 615.5,1263.1 615.8,1264.1 616.1,1265 616.4,1267.5 616.7,1268.1 617,1267.8 617.3,1267 617.6,1263.8 617.9,1267.8 618.2,1262.9 618.5,1267.1 618.8,1262.6 619.1,1264.1 619.4,1263.5 619.7,1261.9 620,1266.4 620.3,1266.8 620.6,1262.7 620.9,1265.5 621.2,1266.9 621.5,1266 621.8,1263.1 622.1,1261.7 622.4,1261.7 622.7,1260.8 623,1264.5 623.3,1264.5 623.6,1261.9 623.9,1264.9 624.2,1264.4 624.5,1264.7 624.8,1261.6 625.1,1261.2 625.4,1262.5 625.7,1259 626,1262.2 626.3,1258.4 626.6,1260.7 626.9,1257.1 627.2,1253.7 627.5,1252.5 627.8,1249.8 628.1,1242.1 628.4,1236.8 628.7,1230.6 629,1222.7 629.3,1218.8 629.6,1207 629.9,1202.1 630.2,1199.1 630.5,1200.3 630.8,1206.4 631.1,1208.8 631.4,1220.9 631.7,1224.1 632,1230.7 632.3,1238.4 632.6,1247.6 632.9,1246.8 633.2,1250.6 633.5,1258.5 633.8,1260.2 634.1,1260.4 634.4,1259.8 634.7,1261.7 635,1263.2 635.3,1261.9 635.6,1259.8 635.9,1262.1 636.2,1262.3 636.5,1262.3 636.8,1260.6 637.1,1261 637.4,1265.4 637.7,1261.3 638,1260.9 638.3,1263.2 638.6,1261.8 638.9,1266.3 639.2,1262.4 639.5,1265.2 639.8,1266 640.1,1264.8 640.4,1266 640.7,1266.6 641,1264.3 641.3,1262.7 641.6,1265 641.9,1266.4 642.2,1266.9 642.5,1266.5 642.8,1263.4 643.1,1266.1 643.4,1264.8 643.7,1265.7 644,1264.6 644.3,1264.3 644.6,1263.4 644.9,1267.9 645.2,1267.8 645.5,1267.7 645.8,1267.4 646.1,1265.6 646.4,1264 646.7,1267 647,1263.5 647.3,1264.2 647.6,1268.8 647.9,1266.8 648.2,1265.3 648.5,1268.3 648.8,1267.4 649.1,1263.6 649.4,1267.2 649.7,1264 650,1263.4 650.3,1264.3 650.6,1263.6 650.9,1265.7 651.2,1261.8 651.5,1265.9 651.8,1263.8 652.1,1265.2 652.4,1261.6 652.7,1261.5 653,1262.3 653.3,1262.2 653.6,1264.4 653.9,1262.6 654.2,1264.3 654.5,1262 654.8,1262.4 655.1,1266 655.4,1262 655.7,1266 656,1261.7 656.3,1262.5 656.6,1267.6 656.9,1265.2 657.2,1266.9 657.5,1266.4 657.8,1267.7 658.1,1263.1 658.4,1266.9 658.7,1265.2 659,1262.2 659.3,1261.9 659.6,1266.6 659.9,1266.4 660.2,1267.5 660.5,1267 660.8,1261.7 661.1,1265.3 661.4,1262.5 661.7,1266.4 662,1266.2 662.3,1264.1 662.6,1266.5 662.9,1262.5 663.2,1263.1 663.5,1266.4 663.8,1267.9 664.1,1262.9 664.4,1264.6 664.7,1267.3 665,1265.6 665.3,1263.6 665.6,1267.9 665.9,1265 666.2,1267 666.5,1267.9 666.8,1268.1 667.1,1268.2 667.4,1263.4 667.7,1267.1 668,1265.7 668.3,1265.7 668.6,1266.8 668.9,1262.6 669.2,1264.7 669.5,1263.7 669.8,1262.8 670.1,1266.3 670.4,1265.7 670.7,1264.3 671,1262 671.3,1266.1 671.6,1267.3 671.9,1262.7 672.2,1263.5 672.5,1265 672.8,1263.1 673.1,1263.9 673.4,1268 673.7,1268.1 674,1268.2 674.3,1266 674.6,1268.4 674.9,1264.4 675.2,1268.2 675.5,1264.6 675.8,1265.5 676.1,1264.8 676.4,1266.9 676.7,1267.1 677,1266.4 677.3,1262.9 677.6,1267.4 677.9,1267.9 678.2,1266.2 678.5,1267.7 678.8,1265.8 679.1,1262.9 679.4,1264.6 679.7,1263.2 680,1264.6 680.3,1266.2 680.6,1267.6 680.9,1263.5 681.2,1266.9 681.5,1265.6 681.8,1263 682.1,1262.9 682.4,1263 682.7,1263.6 683,1263.3 683.3,1264.2 683.6,1267.8 683.9,1263.8 684.2,1262.1 684.5,1266.5 684.8,1265.2 685.1,1265.2 685.4,1267.3 685.7,1267.9 686,1266.4 686.3,1267.9 686.6,1266.8 686.9,1263.8 687.2,1267 687.5,1265.8 687.8,1262.7 688.1,1266.6 688.4,1268 688.7,1264.5 689,1266.2 689.3,1262.9 689.6,1267.7 689.9,1266.6 690.2,1267.4 690.5,1263.2 690.8,1262.4 691.1,1263.5 691.4,1267.3 691.7,1264.2 692,1262.8 692.3,1263.2 692.6,1265 692.9,1263.3 693.2,1267 693.5,1266.1 693.8,1263.9 694.1,1268.1 694.4,1268 694.7,1263.7 695,1265.6 695.3,1263.6 695.6,1263.9 695.9,1263.9 696.2,1264.1 696.5,1267.8 696.8,1263.5 697.1,1266.5 697.4,1262.4 697.7,1265.9 698,1263.8 698.3,1260.3 698.6,1263.6 698.9,1262.9 699.2,1263.7 699.5,1258.7 699.8,1256.9 700.1,1254.7 700.4,1256.6 700.7,1251.1 701,1251.3 701.3,1244.9 701.6,1245.8 701.9,1241.5 702.2,1239.1 702.5,1241.5 702.8,1239.7 703.1,1244.2 703.4,1241.7 703.7,1248.9 704,1247.2 704.3,1250 704.6,1256.4 704.9,1256.2 705.2,1259.8 705.5,1262 705.8,1259.8 706.1,1259.7 706.4,1264.9 706.7,1261.7 707,1261.1 707.3,1261.9 707.6,1263 707.9,1262.4 708.2,1262.8 708.5,1267.4 708.8,1267.4 709.1,1266.9 709.4,1267.6 709.7,1263.6 710,1263.3 710.3,1267.1 710.6,1267.2 710.9,1262.3 711.2,1262.5 711.5,1266.5 711.8,1266.3 712.1,1262.1 712.4,1265 712.7,1264.6 713,1261.9 713.3,1263.2 713.6,1266.8 713.9,1263.6 714.2,1263.4 714.5,1267.5 714.8,1263.2 715.1,1264.2 715.4,1265.8 715.7,1267.6 716,1262.3 716.3,1265.6 716.6,1262.7 716.9,1264.4 717.2,1263.7 717.5,1265 717.8,1264 718.1,1267.1 718.4,1266.4 718.7,1264.7 719,1262.9 719.3,1266.8 719.6,1267.3 719.9,1267.5 720.2,1267.5 720.5,1263 720.8,1264.5 721.1,1267.6 721.4,1263.7 721.7,1267.8 722,1264.7 722.3,1267.7 722.6,1263.3 722.9,1262.5 723.2,1267.5 723.5,1265.6 723.8,1266.9 724.1,1262.4 724.4,1264.9 724.7,1265.8 725,1261.7 725.3,1261.8 725.6,1262.9 725.9,1261.6 726.2,1263.5 726.5,1265.1 726.8,1266.1 727.1,1266.6 727.4,1262.5 727.7,1261.3 728,1261.7 728.3,1266.3 728.6,1263.4 728.9,1266.1 729.2,1263.2 729.5,1267.5 729.8,1264.1 730.1,1263.3 730.4,1262.3 730.7,1262 731,1267 731.3,1264.3 731.6,1267.9 731.9,1266.7 732.2,1264.9 732.5,1263.9 732.8,1263.2 733.1,1264.4 733.4,1264.7 733.7,1268.1 734,1267.3 734.3,1263.9 734.6,1264.3 734.9,1263.4 735.2,1267.2 735.5,1266.5 735.8,1266.7 736.1,1262.9 736.4,1267 736.7,1264 737,1268.3 737.3,1264 737.6,1266.4 737.9,1262.9 738.2,1267.6 738.5,1267.1 738.8,1266.4 739.1,1264.8 739.4,1263.5 739.7,1265.2 740,1267.9 740.3,1267.2 740.6,1264.5 740.9,1267.6 741.2,1266 741.5,1265.6 741.8,1262.1 742.1,1263.8 742.4,1264 742.7,1265.9 743,1262.5 743.3,1261.9 743.6,1266.8 743.9,1263.1 744.2,1265.9 744.5,1262.7 744.8,1267.3 745.1,1263.1 745.4,1266.2 745.7,1264.8 746,1262.2 746.3,1261.8 746.6,1265.8 746.9,1267.1 747.2,1265 747.5,1262.2 747.8,1266.3 748.1,1264.6 748.4,1263.9 748.7,1261.8 749,1265.3 749.3,1266.3 749.6,1265.5 749.9,1262.2 750.2,1264.7 750.5,1266.3 750.8,1262.2 751.1,1265.7 751.4,1265.4 751.7,1261.7 752,1265.1 752.3,1263.9 752.6,1265.6 752.9,1267.1 753.2,1265 753.5,1263 753.8,1262.3 754.1,1262.3 754.4,1262.4 754.7,1267.3 755,1265.1 755.3,1267.5 755.6,1267.1 755.9,1266.2 756.2,1267.7 756.5,1266.9 756.8,1264.3 757.1,1267 757.4,1268.4 757.7,1262.9 758,1263 758.3,1263.4 758.6,1267.5 758.9,1267.4 759.2,1263.6 759.5,1268 759.8,1262.8 760.1,1262.2 760.4,1266.3 760.7,1267.6 761,1262.9 761.3,1266.7 761.6,1263.2 761.9,1262.6 762.2,1262.9 762.5,1263.6 762.8,1262.5 763.1,1266.7 763.4,1267.1 763.7,1267.3 764,1262 764.3,1261.9 764.6,1266.6 764.9,1266.9 765.2,1265.3 765.5,1265 765.8,1261.2 766.1,1266.2 766.4,1262.6 766.7,1265.2 767,1265.8 767.3,1262.4 767.6,1266.7 767.9,1263.2 768.2,1265.3 768.5,1263.7 768.8,1260.9 769.1,1264 769.4,1264.5 769.7,1264.5 770,1266.4 770.3,1264.9 770.6,1265.8 770.9,1265 771.2,1265.4 771.5,1261.6 771.8,1261.6 772.1,1263.2 772.4,1264.9 772.7,1266.2 773,1261.7 773.3,1263.3 773.6,1262 773.9,1265.3 774.2,1265.8 774.5,1266.2 774.8,1266.1 775.1,1262.4 775.4,1265 775.7,1265.3 776,1260 776.3,1262 776.6,1264.5 776.9,1261.5 777.2,1264.7 777.5,1263.1 777.8,1264.2 778.1,1260.3 778.4,1259.6 778.7,1260.3 779,1259.6 779.3,1265 779.6,1265.1 779.9,1263.8 780.2,1262.8 780.5,1264.4 780.8,1261.3 781.1,1264.5 781.4,1264.1 781.7,1263.7 782,1263.4 782.3,1258.9 782.6,1262.5 782.9,1263.7 783.2,1260.2 783.5,1262.4 783.8,1262.3 784.1,1262.5 784.4,1263.6 784.7,1259.7 785,1264 785.3,1263.3 785.6,1259.3 785.9,1258.2 786.2,1259.7 786.5,1258.8 786.8,1259.5 787.1,1261.7 787.4,1263.3 787.7,1260.2 788,1262.2 788.3,1262.4 788.6,1257.5 788.9,1259.8 789.2,1260.1 789.5,1261.3 789.8,1256.5 790.1,1261.2 790.4,1257.8 790.7,1260.4 791,1257.6 791.3,1255.7 791.6,1256 791.9,1254.2 792.2,1259.1 792.5,1256.4 792.8,1256.4 793.1,1253.4 793.4,1256.7 793.7,1252.4 794,1249.9 794.3,1253.7 794.6,1252.6 794.9,1250.1 795.2,1246.5 795.5,1247.6 795.8,1245.1 796.1,1239.2 796.4,1241.9 796.7,1236.7 797,1232.3 797.3,1233.2 797.6,1227.4 797.9,1229.4 798.2,1226 798.5,1225.7 798.8,1226.1 799.1,1224.5 799.4,1228.6 799.7,1226.4 800,1229.1 800.3,1226.8 800.6,1228.4 800.9,1227.4 801.2,1230.6 801.5,1227.7 801.8,1226.5 802.1,1229.4 802.4,1225.2 802.7,1223.2 803,1221.7 803.3,1224.9 803.6,1218.4 803.9,1221.6 804.2,1219.2 804.5,1212.7 804.8,1212.9 805.1,1209.7 805.4,1212.4 805.7,1207.5 806,1206.6 806.3,1205 806.6,1208.8 806.9,1205.5 807.2,1208.1 807.5,1207 807.8,1205 808.1,1210.4 808.4,1209.7 808.7,1211.9 809,1213.6 809.3,1215.2 809.6,1211.9 809.9,1216.7 810.2,1218.9 810.5,1221.3 810.8,1219.2 811.1,1224.2 811.4,1222.7 811.7,1225.1 812,1226.9 812.3,1231.2 812.6,1230 812.9,1231.6 813.2,1238.8 813.5,1239.8 813.8,1241 814.1,1239.5 814.4,1244.7 814.7,1245.2 815,1244.9 815.3,1243.5 815.6,1245 815.9,1244.2 816.2,1246 816.5,1249.8 816.8,1250.3 817.1,1248.4 817.4,1251.1 817.7,1251.9 818,1251.9 818.3,1248.9 818.6,1248.9 818.9,1253.7 819.2,1253.4 819.5,1255.4 819.8,1250.7 820.1,1253.9 820.4,1256.4 820.7,1256.7 821,1256.6 821.3,1255.5 821.6,1256.5 821.9,1255.9 822.2,1252.9 822.5,1254 822.8,1251.6 823.1,1256.1 823.4,1251.1 823.7,1252.7 824,1251.4 824.3,1251.5 824.6,1254.5 824.9,1250.6 825.2,1249.7 825.5,1250.2 825.8,1252.3 826.1,1252.2 826.4,1252.7 826.7,1251.1 827,1250.6 827.3,1252.2 827.6,1252.9 827.9,1250.5 828.2,1252.3 828.5,1249.4 828.8,1250.9 829.1,1255.4 829.4,1256.2 829.7,1256.3 830,1257.2 830.3,1253.2 830.6,1255.5 830.9,1257.7 831.2,1258.7 831.5,1256.9 831.8,1256.6 832.1,1260.2 832.4,1261 832.7,1257.9 833,1257 833.3,1262.9 833.6,1259.7 833.9,1259.4 834.2,1257.8 834.5,1258 834.8,1263.2 835.1,1262.4 835.4,1259.7 835.7,1260.2 836,1258.3 836.3,1258 836.6,1261.9 836.9,1258 837.2,1263.3 837.5,1259.7 837.8,1259 838.1,1259.7 838.4,1260.8 838.7,1262.1 839,1261.4 839.3,1259.5 839.6,1259.6 839.9,1258.9 840.2,1262.8 840.5,1261.6 840.8,1259.6 841.1,1260 841.4,1260 841.7,1263 842,1264.6 842.3,1263.9 842.6,1262.8 842.9,1264 843.2,1263.2 843.5,1264.2 843.8,1261.5 844.1,1260.6 844.4,1262.9 844.7,1258.6 845,1261.6 845.3,1262.7 845.6,1263 845.9,1258.7 846.2,1255.7 846.5,1256 846.8,1258.7 847.1,1255.4 847.4,1253.1 847.7,1250.3 848,1246.5 848.3,1241 848.6,1237.6 848.9,1231.9 849.2,1229.2 849.5,1226.2 849.8,1223.4 850.1,1227.2 850.4,1227.5 850.7,1226.1 851,1230.3 851.3,1238.6 851.6,1239.3 851.9,1246.8 852.2,1247.9 852.5,1250.5 852.8,1254.9 853.1,1256.7 853.4,1259.2 853.7,1259.8 854,1257.5 854.3,1259.9 854.6,1261.4 854.9,1262.2 855.2,1262.2 855.5,1263.5 855.8,1263.8 856.1,1259.4 856.4,1261.3 856.7,1264.3 857,1260.5 857.3,1260.2 857.6,1263.7 857.9,1261.1 858.2,1262.8 858.5,1262.9 858.8,1259.6 859.1,1264.9 859.4,1264.5 859.7,1261.5 860,1260.1 860.3,1260.6 860.6,1264.2 860.9,1264.2 861.2,1261.2 861.5,1263.3 861.8,1265.2 862.1,1262.4 862.4,1264.6 862.7,1265.6 863,1262.6 863.3,1264 863.6,1266.6 863.9,1262.6 864.2,1263 864.5,1265.5 864.8,1265.4 865.1,1266.4 865.4,1264.7 865.7,1260.7 866,1263.6 866.3,1261.5 866.6,1261.3 866.9,1265.1 867.2,1262.3 867.5,1261.5 867.8,1266.2 868.1,1264.3 868.4,1266.2 868.7,1266.3 869,1264.5 869.3,1264.4 869.6,1265.2 869.9,1266.1 870.2,1265.4 870.5,1261.4 870.8,1266.2 871.1,1261.7 871.4,1265.6 871.7,1261.1 872,1264.5 872.3,1263.2 872.6,1260.7 872.9,1261.2 873.2,1260.7 873.5,1266.4 873.8,1261.5 874.1,1265.4 874.4,1261.2 874.7,1261.5 875,1260.5 875.3,1264.7 875.6,1263.8 875.9,1266.1 876.2,1264.8 876.5,1264.2 876.8,1260.7 877.1,1261.2 877.4,1266.2 877.7,1266.1 878,1264.4 878.3,1263.2 878.6,1266.8 878.9,1265.1 879.2,1261.2 879.5,1262.4 879.8,1265.2 880.1,1264.2 880.4,1265.8 880.7,1263.1 881,1261 881.3,1264.9 881.6,1264.7 881.9,1264.8 882.2,1260.3 882.5,1262.3 882.8,1260.4 883.1,1264 883.4,1264.6 883.7,1263.9 884,1264.4 884.3,1266.2 884.6,1262.3 884.9,1265.6 885.2,1261.6 885.5,1265.2 885.8,1265.9 886.1,1263 886.4,1267.2 886.7,1262.1 887,1263.5 887.3,1263.2 887.6,1264.5 887.9,1267.2 888.2,1267.1 888.5,1266.8 888.8,1261.1 889.1,1265.7 889.4,1263.5 889.7,1261.6 890,1263.4 890.3,1260.2 890.6,1262.7 890.9,1261.5 891.2,1263.8 891.5,1260.2 891.8,1264 892.1,1265.6 892.4,1261.1 892.7,1264 893,1265.1 893.3,1264.8 893.6,1261.2 893.9,1265.1 894.2,1262.3 894.5,1264.8 894.8,1264.2 895.1,1260.1 895.4,1260.8 895.7,1264.3 896,1260.1 896.3,1259.7 896.6,1264.6 896.9,1263.4 897.2,1262.3 897.5,1265.3 897.8,1265.5 898.1,1262.2 898.4,1262.1 898.7,1264.9 899,1261.7 899.3,1261.8 899.6,1261.8 899.9,1265.9 900.2,1260.7 900.5,1261.6 900.8,1265.1 901.1,1261.1 901.4,1265.5 901.7,1259.9 902,1264.5 902.3,1261.5 902.6,1261.2 902.9,1258.3 903.2,1262.4 903.5,1261.9 903.8,1259.7 904.1,1261 904.4,1260.8 904.7,1259.4 905,1256.6 905.3,1258.9 905.6,1255.3 905.9,1252.8 906.2,1255.9 906.5,1255.1 906.8,1255.3 907.1,1254.8 907.4,1252.3 907.7,1254.4 908,1252.2 908.3,1256.8 908.6,1256.9 908.9,1256.7 909.2,1259.9 909.5,1256.1 909.8,1260.7 910.1,1258.1 910.4,1262.6 910.7,1262.5 911,1258.1 911.3,1262.5 911.6,1262.7 911.9,1262.4 912.2,1264.2 912.5,1263.5 912.8,1261 913.1,1263.1 913.4,1262.8 913.7,1263.8 914,1259.8 914.3,1263.7 914.6,1261.7 914.9,1261.3 915.2,1261.6 915.5,1259.3 915.8,1261.4 916.1,1258.9 916.4,1260 916.7,1263.4 917,1262.4 917.3,1262.5 917.6,1259.2 917.9,1260.1 918.2,1261.6 918.5,1260.5 918.8,1258.7 919.1,1256.8 919.4,1256 919.7,1257.7 920,1260.1 920.3,1257.7 920.6,1255.4 920.9,1258.2 921.2,1253.1 921.5,1255.7 921.8,1254.4 922.1,1250.1 922.4,1248.1 922.7,1246.9 923,1248.1 923.3,1244.8 923.6,1247.4 923.9,1246.8 924.2,1244.6 924.5,1244.7 924.8,1241.9 925.1,1242.5 925.4,1247.7 925.7,1245 926,1249.4 926.3,1248.1 926.6,1253.6 926.9,1253.5 927.2,1252.5 927.5,1253.5 927.8,1257.5 928.1,1253.9 928.4,1256.9 928.7,1259.3 929,1255.4 929.3,1254.8 929.6,1258 929.9,1260.1 930.2,1255.4 930.5,1259.9 930.8,1255.7 931.1,1258.1 931.4,1256.5 931.7,1254.3 932,1259.6 932.3,1255.5 932.6,1256.4 932.9,1258.9 933.2,1256 933.5,1257.3 933.8,1255.6 934.1,1256.6 934.4,1258 934.7,1256.8 935,1254.8 935.3,1252.4 935.6,1249.8 935.9,1252.7 936.2,1246.8 936.5,1244.3 936.8,1241 937.1,1241.6 937.4,1232.7 937.7,1228 938,1225.7 938.3,1217.9 938.6,1207.7 938.9,1205.7 939.2,1198.7 939.5,1190.9 939.8,1188.2 940.1,1188.4 940.4,1187.1 940.7,1192.9 941,1200.2 941.3,1203.9 941.6,1211.1 941.9,1210.9 942.2,1216.1 942.5,1225.3 942.8,1223.3 943.1,1229.3 943.4,1232.6 943.7,1233.1 944,1234.2 944.3,1233.5 944.6,1231.3 944.9,1231.1 945.2,1229.8 945.5,1229.8 945.8,1229.2 946.1,1227.8 946.4,1229.5 946.7,1230.5 947,1223.8 947.3,1226.4 947.6,1224.3 947.9,1222.7 948.2,1222.3 948.5,1217.6 948.8,1220 949.1,1214.9 949.4,1217.9 949.7,1217.3 950,1212.1 950.3,1212.1 950.6,1214.8 950.9,1208.7 951.2,1212.8 951.5,1210.8 951.8,1213.2 952.1,1208.8 952.4,1214.5 952.7,1214.1 953,1216.2 953.3,1217.1 953.6,1215.6 953.9,1215.1 954.2,1220.5 954.5,1217.6 954.8,1220.1 955.1,1222 955.4,1226.9 955.7,1224.3 956,1228.8 956.3,1228.9 956.6,1231.5 956.9,1230.2 957.2,1236.5 957.5,1234.5 957.8,1234.6 958.1,1235.8 958.4,1240.6 958.7,1242.7 959,1238.6 959.3,1241.9 959.6,1245.8 959.9,1243 960.2,1245.1 960.5,1245.2 960.8,1249.4 961.1,1250.5 961.4,1246.9 961.7,1249.4 962,1252.3 962.3,1250.7 962.6,1253.3 962.9,1253.7 963.2,1249.8 963.5,1252.6 963.8,1253.5 964.1,1250.1 964.4,1250.2 964.7,1255.5 965,1252.2 965.3,1253.1 965.6,1256.8 965.9,1256.5 966.2,1257.2 966.5,1256.5 966.8,1254.3 967.1,1257.2 967.4,1254.8 967.7,1255.3 968,1254.7 968.3,1254.5 968.6,1258.6 968.9,1259.8 969.2,1260.3 969.5,1257.9 969.8,1259.9 970.1,1256.1 970.4,1261 970.7,1261.9 971,1258.6 971.3,1256.9 971.6,1258.1 971.9,1261.2 972.2,1257 972.5,1257.4 972.8,1262.7 973.1,1259.6 973.4,1260.8 973.7,1258.3 974,1260.3 974.3,1260.4 974.6,1261.7 974.9,1259.5 975.2,1261.3 975.5,1262.6 975.8,1262.8 976.1,1258.1 976.4,1258.2 976.7,1262 977,1261.3 977.3,1257.6 977.6,1262.2 977.9,1261.5 978.2,1260.8 978.5,1257.9 978.8,1260.8 979.1,1257.1 979.4,1257.8 979.7,1261.8 980,1261.8 980.3,1261.4 980.6,1257.5 980.9,1257.5 981.2,1257.2 981.5,1257.3 981.8,1260.9 982.1,1257.8 982.4,1256.8 982.7,1261 983,1259 983.3,1262 983.6,1261.4 983.9,1258.4 984.2,1260.9 984.5,1261.6 984.8,1257.3 985.1,1260.1 985.4,1261.1 985.7,1261.7 986,1260.3 986.3,1261.4 986.6,1259 986.9,1259.1 987.2,1257.7 987.5,1260.3 987.8,1260.8 988.1,1258.4 988.4,1255.5 988.7,1255.9 989,1259 989.3,1257.3 989.6,1255 989.9,1259.6 990.2,1255 990.5,1259.5 990.8,1255.7 991.1,1253.8 991.4,1257.2 991.7,1258 992,1253.3 992.3,1253.2 992.6,1253.1 992.9,1256.2 993.2,1250.8 993.5,1250.1 993.8,1249.5 994.1,1249.3 994.4,1247.8 994.7,1248.3 995,1247.3 995.3,1245.5 995.6,1241.4 995.9,1238 996.2,1236.9 996.5,1229 996.8,1230.2 997.1,1223.8 997.4,1221.5 997.7,1220.2 998,1217.2 998.3,1213.2 998.6,1212.4 998.9,1216 999.2,1218.9 999.5,1219.8 999.8,1223.3 1000.1,1229.4 1000.4,1232.1 1000.7,1236.3 1001,1234.4 1001.3,1237.7 1001.6,1243.8 1001.9,1246.7 1002.2,1245.7 1002.5,1249.8 1002.8,1248 1003.1,1254.4 1003.4,1251.6 1003.7,1253.9 1004,1255.4 1004.3,1254.8 1004.6,1256.9 1004.9,1253.1 1005.2,1254 1005.5,1254.7 1005.8,1259.8 1006.1,1258.4 1006.4,1256 1006.7,1257.7 1007,1257.2 1007.3,1256.1 1007.6,1255.8 1007.9,1256.5 1008.2,1255.5 1008.5,1255.9 1008.8,1260.7 1009.1,1258.8 1009.4,1256.7 1009.7,1256.6 1010,1261.5 1010.3,1257.9 1010.6,1258.2 1010.9,1262.2 1011.2,1260 1011.5,1262.4 1011.8,1262.2 1012.1,1261.1 1012.4,1258.5 1012.7,1258 1013,1262.9 1013.3,1263.4 1013.6,1259.2 1013.9,1258.8 1014.2,1260.7 1014.5,1259.5 1014.8,1261.6 1015.1,1262.8 1015.4,1264.3 1015.7,1262.9 1016,1262.3 1016.3,1260.3 1016.6,1262.3 1016.9,1262.4 1017.2,1259 1017.5,1260.2 1017.8,1258.8 1018.1,1259.4 1018.4,1262.2 1018.7,1264 1019,1263.2 1019.3,1259.8 1019.6,1262.8 1019.9,1262.5 1020.2,1264.6 1020.5,1260.3 1020.8,1262.3 1021.1,1258.6 1021.4,1260.3 1021.7,1259.8 1022,1259.5 1022.3,1258.8 1022.6,1263 1022.9,1258 1023.2,1260.8 1023.5,1258.3 1023.8,1257.3 1024.1,1259 1024.4,1257.4 1024.7,1257.1 1025,1257 1025.3,1254.7 1025.6,1251.4 1025.9,1255 1026.2,1251.1 1026.5,1252.8 1026.8,1247.6 1027.1,1247.4 1027.4,1244.9 1027.7,1248.2 1028,1244.7 1028.3,1244.9 1028.6,1244.6 1028.9,1242.7 1029.2,1248.1 1029.5,1243.3 1029.8,1248 1030.1,1247.9 1030.4,1250 1030.7,1246.9 1031,1250.3 1031.3,1254.3 1031.6,1253.9 1031.9,1253.1 1032.2,1251.9 1032.5,1255.1 1032.8,1256.6 1033.1,1257.7 1033.4,1257.1 1033.7,1259.9 1034,1261.8 1034.3,1262.5 1034.6,1260.9 1034.9,1258.7 1035.2,1258.8 1035.5,1259 1035.8,1262.3 1036.1,1264.4 1036.4,1261.8 1036.7,1263.3 1037,1260.8 1037.3,1262.7 1037.6,1264.8 1037.9,1259.3 1038.2,1264.4 1038.5,1259.6 1038.8,1265.5 1039.1,1260.8 1039.4,1260.1 1039.7,1264.9 1040,1262 1040.3,1265.1 1040.6,1263 1040.9,1263.7 1041.2,1265.7 1041.5,1265 1041.8,1264.8 1042.1,1261.6 1042.4,1263.1 1042.7,1265.2 1043,1267.2 1043.3,1264.3 1043.6,1266.7 1043.9,1262.1 1044.2,1265.3 1044.5,1266.3 1044.8,1262.1 1045.1,1263.3 1045.4,1266.5 1045.7,1261.8 1046,1260.6 1046.3,1261.7 1046.6,1261.6 1046.9,1265.7 1047.2,1266.1 1047.5,1264.2 1047.8,1266.6 1048.1,1266.1 1048.4,1266.7 1048.7,1262.9 1049,1266.7 1049.3,1266.5 1049.6,1261.7 1049.9,1261.5 1050.2,1262.5 1050.5,1262.5 1050.8,1260.8 1051.1,1262.6 1051.4,1265.9 1051.7,1265.2 1052,1262.1 1052.3,1265.4 1052.6,1261.6 1052.9,1264.4 1053.2,1264.4 1053.5,1262.8 1053.8,1261.9 1054.1,1262.9 1054.4,1266.4 1054.7,1265.2 1055,1263 1055.3,1262.2 1055.6,1262.9 1055.9,1261.6 1056.2,1262.5 1056.5,1261.1 1056.8,1262.3 1057.1,1262.1 1057.4,1262.7 1057.7,1263.1 1058,1264.5 1058.3,1262 1058.6,1261.3 1058.9,1265.7 1059.2,1260.7 1059.5,1264.5 1059.8,1261.3 1060.1,1261.5 1060.4,1262.2 1060.7,1262.2 1061,1266.2 1061.3,1263.1 1061.6,1264.3 1061.9,1265.4 1062.2,1260.8 1062.5,1266.5 1062.8,1261.8 1063.1,1264.2 1063.4,1263 1063.7,1266 1064,1262.8 1064.3,1266.1 1064.6,1262.5 1064.9,1264.9 1065.2,1261.4 1065.5,1262.5 1065.8,1262.4 1066.1,1264.8 1066.4,1264.6 1066.7,1260.4 1067,1259.8 1067.3,1260.3 1067.6,1262.6 1067.9,1257.5 1068.2,1262.6 1068.5,1261.4 1068.8,1261 1069.1,1259.2 1069.4,1257.5 1069.7,1261.3 1070,1260.5 1070.3,1260.3 1070.6,1256.3 1070.9,1261.2 1071.2,1256.8 1071.5,1256.8 1071.8,1261.3 1072.1,1262.5 1072.4,1257.8 1072.7,1258.8 1073,1262.3 1073.3,1263.7 1073.6,1264.5 1073.9,1263.2 1074.2,1261 1074.5,1262 1074.8,1260.2 1075.1,1265.3 1075.4,1264.4 1075.7,1261.6 1076,1261.7 1076.3,1266 1076.6,1266.4 1076.9,1262.9 1077.2,1266.1 1077.5,1267.1 1077.8,1261.2 1078.1,1267 1078.4,1267.3 1078.7,1266.1 1079,1267.1 1079.3,1267.3 1079.6,1263 1079.9,1262 1080.2,1265.6 1080.5,1265.8 1080.8,1266.4 1081.1,1263.5 1081.4,1263.2 1081.7,1265.2 1082,1263.3 1082.3,1265.7 1082.6,1263 1082.9,1263.8 1083.2,1264.4 1083.5,1266 1083.8,1263 1084.1,1267.1 1084.4,1268.2 1084.7,1268.3 1085,1265 1085.3,1266.8 1085.6,1265.9 1085.9,1265.1 1086.2,1268.6 1086.5,1265.8 1086.8,1268.5 1087.1,1263 1087.4,1267.2 1087.7,1266.5 1088,1264.1 1088.3,1267.9 1088.6,1262.4 1088.9,1264 1089.2,1263.4 1089.5,1266.4 1089.8,1265.7 1090.1,1267 1090.4,1262.1 1090.7,1261.4 1091,1264.7 1091.3,1266.6 1091.6,1261 1091.9,1263.3 1092.2,1260.9 1092.5,1261.4 1092.8,1262.8 1093.1,1261 1093.4,1262.9 1093.7,1262 1094,1266.4 1094.3,1265.5 1094.6,1262.9 1094.9,1262.6 1095.2,1262.6 1095.5,1264.7 1095.8,1266.3 1096.1,1261.6 1096.4,1266.5 1096.7,1262 1097,1265.1 1097.3,1262.6 1097.6,1267.3 1097.9,1261.8 1098.2,1263.1 1098.5,1263.9 1098.8,1263 1099.1,1264.6 1099.4,1263.9 1099.7,1262.2 1100,1264.3 1100.3,1265.4 1100.6,1262 1100.9,1265.7 1101.2,1262.7 1101.5,1264.4 1101.8,1266.4 1102.1,1264.5 1102.4,1265.2 1102.7,1261.5 1103,1260.7 1103.3,1261.4 1103.6,1265.1 1103.9,1264.1 1104.2,1265 1104.5,1265.2 1104.8,1261.7 1105.1,1266.5 1105.4,1261.8 1105.7,1266.6 1106,1267.3 1106.3,1261.7 1106.6,1261.7 1106.9,1267.3 1107.2,1266.1 1107.5,1265.1 1107.8,1266.5 1108.1,1265.6 1108.4,1266.8 1108.7,1266.6 1109,1265 1109.3,1266.9 1109.6,1262.1 1109.9,1264 1110.2,1264.1 1110.5,1262.1 1110.8,1264.4 1111.1,1265.1 1111.4,1262.8 1111.7,1267.3 1112,1262.7 1112.3,1263.5 1112.6,1261.7 1112.9,1262 1113.2,1265.2 1113.5,1262.9 1113.8,1266.9 1114.1,1262.8 1114.4,1262.4 1114.7,1264.1 1115,1266.8 1115.3,1262.3 1115.6,1266.3 1115.9,1262.6 1116.2,1263.8 1116.5,1264.4 1116.8,1267.8 1117.1,1262.4 1117.4,1267.2 1117.7,1263.1 1118,1268 1118.3,1267.2 1118.6,1264.8 1118.9,1268 1119.2,1264.1 1119.5,1264.6 1119.8,1267.5 1120.1,1266.7 1120.4,1262.5 1120.7,1266.5 1121,1267.6 1121.3,1266.4 1121.6,1265.6 1121.9,1263.3 1122.2,1263.6 1122.5,1263.5 1122.8,1265.5 1123.1,1264.2 1123.4,1261.8 1123.7,1264.8 1124,1267.3 1124.3,1261.5 1124.6,1262.4 1124.9,1262.9 1125.2,1262.1 1125.5,1262.8 1125.8,1265.2 1126.1,1264.3 1126.4,1264.8 1126.7,1267.7 1127,1263.8 1127.3,1263.6 1127.6,1263 1127.9,1267.6 1128.2,1262.3 1128.5,1266.5 1128.8,1265.7 1129.1,1265.2 1129.4,1262.5 1129.7,1262 1130,1261.8 1130.3,1262.3 1130.6,1265.1 1130.9,1267 1131.2,1264.8 1131.5,1265.7 1131.8,1266 1132.1,1264.8 1132.4,1264.7 1132.7,1264.9 1133,1261.9 1133.3,1266.1 1133.6,1267.1 1133.9,1263.4 1134.2,1262.6 1134.5,1265.3 1134.8,1261.8 1135.1,1263.6 1135.4,1264.4 1135.7,1261.8 1136,1266.4 1136.3,1261.6 1136.6,1265.7 1136.9,1265.2 1137.2,1265.5 1137.5,1261.9 1137.8,1261.8 1138.1,1260.6 1138.4,1261.6 1138.7,1262.8 1139,1262.5 1139.3,1261.1 1139.6,1266.4 1139.9,1265.9 1140.2,1265 1140.5,1261.6 1140.8,1265.2 1141.1,1267 1141.4,1265.9 1141.7,1262.3 1142,1264.5 1142.3,1265.3 1142.6,1262.1 1142.9,1263.4 1143.2,1266.8 1143.5,1261.4 1143.8,1264.1 1144.1,1264.9 1144.4,1265 1144.7,1265.1 1145,1262 1145.3,1263.6 1145.6,1262.6 1145.9,1265.2 1146.2,1265.5 1146.5,1262.3 1146.8,1264.8 1147.1,1260.2 1147.4,1263.1 1147.7,1263.7 1148,1261.3 1148.3,1263.1 1148.6,1263.2 1148.9,1263.3 1149.2,1263.9 1149.5,1258.2 1149.8,1262.7 1150.1,1257.8 1150.4,1258.3 1150.7,1257.1 1151,1260 1151.3,1259 1151.6,1254.4 1151.9,1255.5 1152.2,1255.7 1152.5,1251.2 1152.8,1253.4 1153.1,1252.7 1153.4,1251.3 1153.7,1249.5 1154,1246.4 1154.3,1244.9 1154.6,1244.3 1154.9,1247.4 1155.2,1244.2 1155.5,1248.2 1155.8,1246.7 1156.1,1245.5 1156.4,1249.2 1156.7,1249.9 1157,1248.1 1157.3,1253.7 1157.6,1250.8 1157.9,1254.3 1158.2,1255.2 1158.5,1255.2 1158.8,1257 1159.1,1256.4 1159.4,1255.2 1159.7,1253.2 1160,1258 1160.3,1257.8 1160.6,1257 1160.9,1256.3 1161.2,1257.3 1161.5,1253.6 1161.8,1257.7 1162.1,1255.1 1162.4,1253.2 1162.7,1252.1 1163,1252 1163.3,1256.6 1163.6,1257.3 1163.9,1252.1 1164.2,1254.9 1164.5,1255.3 1164.8,1255.8 1165.1,1256.1 1165.4,1257 1165.7,1253.1 1166,1256.8 1166.3,1255.1 1166.6,1255.1 1166.9,1256 1167.2,1254.5 1167.5,1257.8 1167.8,1257.2 1168.1,1257.1 1168.4,1254.9 1168.7,1253.9 1169,1255.4 1169.3,1255.2 1169.6,1255 1169.9,1255 1170.2,1260.5 1170.5,1258.7 1170.8,1255.2 1171.1,1257.2 1171.4,1260.6 1171.7,1258.3 1172,1259.8 1172.3,1262 1172.6,1260 1172.9,1256.9 1173.2,1258.1 1173.5,1260 1173.8,1259.6 1174.1,1258.7 1174.4,1258.8 1174.7,1260.3 1175,1259 1175.3,1259.7 1175.6,1258.4 1175.9,1262.1 1176.2,1262 1176.5,1261.6 1176.8,1263.4 1177.1,1259.9 1177.4,1263.8 1177.7,1259.9 1178,1264 1178.3,1259.5 1178.6,1258.6 1178.9,1262.5 1179.2,1260.7 1179.5,1259.9 1179.8,1260.6 1180.1,1263.9 1180.4,1261.8 1180.7,1259.6 1181,1262.9 1181.3,1264.2 1181.6,1262.4 1181.9,1261.9 1182.2,1261.9 1182.5,1263.8 1182.8,1262 1183.1,1265.8 1183.4,1261.7 1183.7,1262.2 1184,1266.5 1184.3,1263.9 1184.6,1266.9 1184.9,1266.8 1185.2,1263.7 1185.5,1262.8 1185.8,1264.6 1186.1,1264.5 1186.4,1263.7 1186.7,1262.3 1187,1262.5 1187.3,1266.4 1187.6,1265.4 1187.9,1267 1188.2,1263.4 1188.5,1263.6 1188.8,1263.9 1189.1,1265 1189.4,1263.8 1189.7,1264.1 1190,1262 1190.3,1263.6 1190.6,1265.7 1190.9,1264.8 1191.2,1265.6 1191.5,1265.2 1191.8,1263.7 1192.1,1264.3 1192.4,1265.7 1192.7,1266 1193,1262.8 1193.3,1263.1 1193.6,1264.2 1193.9,1266.7 1194.2,1266.1 1194.5,1266 1194.8,1261.5 1195.1,1263 1195.4,1261.8 1195.7,1263.2 1196,1261.3 1196.3,1265.3 1196.6,1265 1196.9,1262.7 1197.2,1261.5 1197.5,1263.3 1197.8,1262.1 1198.1,1264.4 1198.4,1266.4 1198.7,1263.6 1199,1261.8 1199.3,1263.9 1199.6,1263.1 1199.9,1267.5 1200.2,1263.5 1200.5,1262.2 1200.8,1267.4 1201.1,1266.6 1201.4,1263.6 1201.7,1267.7 1202,1262.7 1202.3,1263.2 1202.6,1267.4 1202.9,1262.7 1203.2,1267.1 1203.5,1267.2 1203.8,1265.9 1204.1,1264.5 1204.4,1262.8 1204.7,1265.7 1205,1267.8 1205.3,1263.9 1205.6,1262.7 1205.9,1265.2 1206.2,1266.9 1206.5,1262.6 1206.8,1262.7 1207.1,1262.8 1207.4,1263.1 1207.7,1264 1208,1266.5 1208.3,1264 1208.6,1266.9 1208.9,1265.7 1209.2,1267 1209.5,1265.7 1209.8,1265.1 1210.1,1266.8 1210.4,1266.2 1210.7,1262.1 1211,1264.4 1211.3,1265.5 1211.6,1264.7 1211.9,1261.7 1212.2,1261.6 1212.5,1263.3 1212.8,1266.8 1213.1,1262.5 1213.4,1264.4 1213.7,1265.7 1214,1262.1 1214.3,1265 1214.6,1265 1214.9,1261.5 1215.2,1263.2 1215.5,1262.6 1215.8,1262.6 1216.1,1262.4 1216.4,1263.1 1216.7,1261.6 1217,1261 1217.3,1262.9 1217.6,1264.4 1217.9,1264.7 1218.2,1264.9 1218.5,1264.9 1218.8,1260.9 1219.1,1265.2 1219.4,1262.7 1219.7,1266 1220,1265.4 1220.3,1265.1 1220.6,1265.1 1220.9,1264.9 1221.2,1261.8 1221.5,1265.5 1221.8,1261.9 1222.1,1262.9 1222.4,1265 1222.7,1264.3 1223,1260.2 1223.3,1262.4 1223.6,1260.7 1223.9,1262.2 1224.2,1264 1224.5,1259.9 1224.8,1262.3 1225.1,1261.7 1225.4,1264.2 1225.7,1260.4 1226,1260.9 1226.3,1260.1 1226.6,1263.2 1226.9,1260.7 1227.2,1261.5 1227.5,1261.6 1227.8,1265.4 1228.1,1261.1 1228.4,1263 1228.7,1262.9 1229,1265.1 1229.3,1263.4 1229.6,1263.2 1229.9,1262.8 1230.2,1259.4 1230.5,1261.8 1230.8,1258.9 1231.1,1260.2 1231.4,1263.8 1231.7,1262.4 1232,1259.7 1232.3,1257.2 1232.6,1261.8 1232.9,1259 1233.2,1256.8 1233.5,1261.2 1233.8,1256.3 1234.1,1256.6 1234.4,1256.4 1234.7,1260.3 1235,1256.3 1235.3,1260.6 1235.6,1258.2 1235.9,1257.9 1236.2,1258.2 1236.5,1263.6 1236.8,1258.5 1237.1,1261.8 1237.4,1259.3 1237.7,1260.8 1238,1260.3 1238.3,1264 1238.6,1263.8 1238.9,1260.2 1239.2,1259.9 1239.5,1261.6 1239.8,1261.9 1240.1,1263 1240.4,1263.9 1240.7,1260.2 1241,1262.4 1241.3,1260.6 1241.6,1261.8 1241.9,1264 1242.2,1266.2 1242.5,1261.5 1242.8,1262.5 1243.1,1260.1 1243.4,1262.4 1243.7,1260.8 1244,1260.9 1244.3,1263.8 1244.6,1260.1 1244.9,1259.8 1245.2,1260.9 1245.5,1258.7 1245.8,1262.9 1246.1,1260 1246.4,1263.9 1246.7,1263.1 1247,1260.1 1247.3,1262.1 1247.6,1263.1 1247.9,1262.2 1248.2,1261.9 1248.5,1263.4 1248.8,1258.4 1249.1,1263.2 1249.4,1259.1 1249.7,1261.1 1250,1259.5 1250.3,1262.7 1250.6,1259.8 1250.9,1262.5 1251.2,1259.7 1251.5,1260.3 1251.8,1261 1252.1,1260.9 1252.4,1262.6 1252.7,1262.4 1253,1263.9 1253.3,1260.8 1253.6,1259.6 1253.9,1264.4 1254.2,1259.6 1254.5,1259.9 1254.8,1258.8 1255.1,1262.1 1255.4,1263.5 1255.7,1259.7 1256,1260.1 1256.3,1264.1 1256.6,1259.9 1256.9,1263.9 1257.2,1261.4 1257.5,1261.9 1257.8,1259.8 1258.1,1264 1258.4,1263.2 1258.7,1261.8 1259,1262.8 1259.3,1259.1 1259.6,1259.1 1259.9,1261.9 1260.2,1263.8 1260.5,1261.1 1260.8,1263.6 1261.1,1264.8 1261.4,1262.3 1261.7,1262.1 1262,1264.8 1262.3,1259.5 1262.6,1264.5 1262.9,1262.6 1263.2,1260.3 1263.5,1263.4 1263.8,1262.3 1264.1,1263.6 1264.4,1259.4 1264.7,1261.5 1265,1262.6 1265.3,1259 1265.6,1258.9 1265.9,1261.2 1266.2,1256.8 1266.5,1259.9 1266.8,1256.2 1267.1,1258.3 1267.4,1254.3 1267.7,1253.6 1268,1256.1 1268.3,1252.4 1268.6,1253.6 1268.9,1250.3 1269.2,1247.9 1269.5,1245.1 1269.8,1247.7 1270.1,1246 1270.4,1243.7 1270.7,1244.1 1271,1242.3 1271.3,1240.1 1271.6,1242.1 1271.9,1239.1 1272.2,1242.8 1272.5,1238.6 1272.8,1239.1 1273.1,1243.9 1273.4,1242.1 1273.7,1248.3 1274,1249.5 1274.3,1247.2 1274.6,1246.2 1274.9,1252.8 1275.2,1249.9 1275.5,1251.3 1275.8,1250.7 1276.1,1250.9 1276.4,1251.1 1276.7,1251.5 1277,1254.3 1277.3,1252 1277.6,1254.8 1277.9,1254.5 1278.2,1254.9 1278.5,1250.2 1278.8,1255 1279.1,1254.3 1279.4,1250.5 1279.7,1249.2 1280,1253.6 1280.3,1250.7 1280.6,1249.7 1280.9,1252.4 1281.2,1248.4 1281.5,1251 1281.8,1250.8 1282.1,1249.4 1282.4,1244.7 1282.7,1249.1 1283,1244.8 1283.3,1244 1283.6,1246.3 1283.9,1244.7 1284.2,1246 1284.5,1247.1 1284.8,1247 1285.1,1243.4 1285.4,1244.8 1285.7,1245.7 1286,1243.9 1286.3,1246.2 1286.6,1243.2 1286.9,1245.9 1287.2,1241.8 1287.5,1247.6 1287.8,1243.7 1288.1,1244.9 1288.4,1247 1288.7,1244.5 1289,1243.6 1289.3,1244.6 1289.6,1249.4 1289.9,1248.7 1290.2,1250.9 1290.5,1251.2 1290.8,1249.7 1291.1,1248.9 1291.4,1250.4 1291.7,1252.9 1292,1249.4 1292.3,1249.9 1292.6,1252.6 1292.9,1252.2 1293.2,1253.2 1293.5,1253.1 1293.8,1253.9 1294.1,1250.5 1294.4,1254.4 1294.7,1256.1 1295,1256.6 1295.3,1255 1295.6,1253 1295.9,1257.8 1296.2,1253.9 1296.5,1254.6 1296.8,1254.6 1297.1,1259.3 1297.4,1258.7 1297.7,1258.6 1298,1254.6 1298.3,1255.9 1298.6,1256.7 1298.9,1259.6 1299.2,1254.6 1299.5,1258.7 1299.8,1256.2 1300.1,1256.7 1300.4,1260.5 1300.7,1255.8 1301,1259.5 1301.3,1256.1 1301.6,1255.8 1301.9,1258.4 1302.2,1260.5 1302.5,1257.5 1302.8,1255.9 1303.1,1260.3 1303.4,1256.9 1303.7,1260.1 1304,1260.7 1304.3,1260.4 1304.6,1256.8 1304.9,1256.7 1305.2,1259 1305.5,1260.9 1305.8,1256.7 1306.1,1255.5 1306.4,1254.8 1306.7,1259.7 1307,1259.1 1307.3,1259 1307.6,1257.3 1307.9,1256.3 1308.2,1257.8 1308.5,1252.6 1308.8,1251.5 1309.1,1253 1309.4,1252.9 1309.7,1251.9 1310,1250 1310.3,1253.1 1310.6,1251.6 1310.9,1248.9 1311.2,1251.2 1311.5,1247.4 1311.8,1250.7 1312.1,1247.2 1312.4,1245.5 1312.7,1246.3 1313,1249.1 1313.3,1247.5 1313.6,1242.8 1313.9,1244.5 1314.2,1247.3 1314.5,1244.6 1314.8,1241.1 1315.1,1243.6 1315.4,1245.1 1315.7,1244.7 1316,1244.4 1316.3,1245.5 1316.6,1241 1316.9,1244 1317.2,1245.7 1317.5,1245.1 1317.8,1246.6 1318.1,1243.5 1318.4,1243 1318.7,1246.6 1319,1245 1319.3,1244.3 1319.6,1244.6 1319.9,1248.3 1320.2,1248.7 1320.5,1244.6 1320.8,1247.1 1321.1,1247.6 1321.4,1247.4 1321.7,1249.9 1322,1245.8 1322.3,1245.5 1322.6,1245.8 1322.9,1251.2 1323.2,1251.3 1323.5,1246.3 1323.8,1246.9 1324.1,1250 1324.4,1246.8 1324.7,1248.4 1325,1247.5 1325.3,1245.6 1325.6,1244.1 1325.9,1248.5 1326.2,1245.4 1326.5,1246.9 1326.8,1242 1327.1,1242.8 1327.4,1247.1 1327.7,1242.9 1328,1245.5 1328.3,1241.4 1328.6,1243.8 1328.9,1246 1329.2,1242.9 1329.5,1247.9 1329.8,1244.9 1330.1,1247.3 1330.4,1248.3 1330.7,1247.7 1331,1248.7 1331.3,1250.7 1331.6,1246.4 1331.9,1247 1332.2,1251.5 1332.5,1253.6 1332.8,1252.6 1333.1,1254.5 1333.4,1255.5 1333.7,1250.6 1334,1252.4 1334.3,1252.1 1334.6,1255.7 1334.9,1252.8 1335.2,1254.4 1335.5,1256.2 1335.8,1256.8 1336.1,1255.5 1336.4,1253.7 1336.7,1257.4 1337,1258.5 1337.3,1255.3 1337.6,1256 1337.9,1255.1 1338.2,1257.9 1338.5,1253.5 1338.8,1255 1339.1,1258.1 1339.4,1258.4 1339.7,1255.5 1340,1260 1340.3,1255.8 1340.6,1254.9 1340.9,1255 1341.2,1259.4 1341.5,1255 1341.8,1256.6 1342.1,1258.7 1342.4,1259.2 1342.7,1256.7 1343,1256.7 1343.3,1260.5 1343.6,1259.6 1343.9,1257.1 1344.2,1258.1 1344.5,1257.3 1344.8,1259.3 1345.1,1255.6 1345.4,1258.7 1345.7,1256.5 1346,1257.2 1346.3,1259.9 1346.6,1256.6 1346.9,1258.5 1347.2,1259.8 1347.5,1256.4 1347.8,1255.5 1348.1,1260.6 1348.4,1259.8 1348.7,1256.7 1349,1260.3 1349.3,1257.4 1349.6,1260.6 1349.9,1257.7 1350.2,1258.1 1350.5,1256.4 1350.8,1258.2 1351.1,1260.4 1351.4,1260.9 1351.7,1258.6 1352,1256.6 1352.3,1256.5 1352.6,1257.2 1352.9,1260.8 1353.2,1261.5 1353.5,1262 1353.8,1256.9 1354.1,1257.7 1354.4,1258.6 1354.7,1257.4 1355,1260.1" fill="none" stroke="#0000ff" stroke-width="9.5" stroke-linejoin="round" stroke-linecap="butt"/>
<polyline points="189.5,1517.8 190,1517.8 190.5,1517.8 191,1517.8 191.5,1517.7 192,1517.5 192.5,1517.4 193,1517.2 193.5,1517.1 194,1517.1 194.5,1517.2 195,1517.3 195.5,1517.4 196,1517.6 196.5,1517.9 197,1518.3 197.5,1518.9 198,1519.4 198.5,1519.8 199,1519.9 199.5,1519.9 200,1519.9 200.5,1519.9 201,1519.9 201.5,1520.1 202,1520.2 202.5,1520.4 203,1520.5 203.5,1520.6 204,1520.6 204.5,1520.7 205,1520.7 205.5,1520.8 206,1521 206.5,1521.2 207,1521.3 207.5,1521.4 208,1521.4 208.5,1521.4 209,1521.4 209.5,1521.3 210,1521.3 210.5,1521.3 211,1521.3 211.5,1521.3 212,1521.3 212.5,1521.3 213,1521.1 213.5,1520.9 214,1520.9 214.5,1521 215,1521.3 215.5,1521.6 216,1521.9 216.5,1522 217,1521.9 217.5,1521.8 218,1521.8 218.5,1521.7 219,1521.6 219.5,1521.5 220,1521.5 220.5,1521.4 221,1521.4 221.5,1521.3 222,1521.3 222.5,1521.4 223,1521.4 223.5,1521.5 224,1521.6 224.5,1521.6 225,1521.5 225.5,1521.4 226,1521.3 226.5,1521.2 227,1521.1 227.5,1521.1 228,1521 228.5,1521 229,1521 229.5,1521 230,1521.1 230.5,1521.1 231,1521.2 231.5,1521.3 232,1521.5 232.5,1521.6 233,1521.6 233.5,1521.6 234,1521.4 234.5,1521.3 235,1521.2 235.5,1521.3 236,1521.3 236.5,1521.4 237,1521.5 237.5,1521.6 238,1521.7 238.5,1521.8 239,1521.9 239.5,1521.9 240,1521.9 240.5,1521.9 241,1521.8 241.5,1521.8 242,1521.7 242.5,1521.6 243,1521.4 243.5,1521.3 244,1521.4 244.5,1521.5 245,1521.6 245.5,1521.5 246,1521.3 246.5,1521.1 247,1520.9 247.5,1520.8 248,1520.9 248.5,1521 249,1521 249.5,1521 250,1520.9 250.5,1520.9 251,1521 251.5,1521.1 252,1521.3 252.5,1521.4 253,1521.4 253.5,1521.5 254,1521.6 254.5,1521.7 255,1521.7 255.5,1521.6 256,1521.5 256.5,1521.3 257,1521.2 257.5,1521.3 258,1521.4 258.5,1521.5 259,1521.6 259.5,1521.6 260,1521.6 260.5,1521.6 261,1521.6 261.5,1521.5 262,1521.4 262.5,1521.3 263,1521.2 263.5,1521.2 264,1521.3 264.5,1521.4 265,1521.5 265.5,1521.5 266,1521.4 266.5,1521.2 267,1521.1 267.5,1521.1 268,1521.2 268.5,1521.4 269,1521.5 269.5,1521.6 270,1521.6 270.5,1521.5 271,1521.4 271.5,1521.2 272,1521.2 272.5,1521.2 273,1521.2 273.5,1521.4 274,1521.5 274.5,1521.6 275,1521.5 275.5,1521.4 276,1521.2 276.5,1521 277,1521 277.5,1521.1 278,1521.2 278.5,1521.3 279,1521.3 279.5,1521.3 280,1521.3 280.5,1521.3 281,1521.5 281.5,1521.5 282,1521.5 282.5,1521.4 283,1521.3 283.5,1521.3 284,1521.3 284.5,1521.3 285,1521.3 285.5,1521.1 286,1521.1 286.5,1521 287,1521.1 287.5,1521.2 288,1521.3 288.5,1521.3 289,1521.2 289.5,1521.1 290,1521.1 290.5,1521 291,1521.1 291.5,1521.1 292,1521.1 292.5,1521 293,1521 293.5,1521.1 294,1521.2 294.5,1521.2 295,1521.2 295.5,1521.1 296,1520.9 296.5,1520.8 297,1520.9 297.5,1521 298,1521 298.5,1521 299,1521 299.5,1521 300,1521.1 300.5,1521.2 301,1521.3 301.5,1521.4 302,1521.4 302.5,1521.4 303,1521.3 303.5,1521.3 304,1521.2 304.5,1521.2 305,1521.3 305.5,1521.4 306,1521.6 306.5,1521.8 307,1522 307.5,1522.1 308,1522 308.5,1521.7 309,1521.4 309.5,1521.1 310,1520.9 310.5,1520.7 311,1520.7 311.5,1520.7 312,1520.8 312.5,1520.8 313,1520.8 313.5,1520.9 314,1521 314.5,1521.2 315,1521.5 315.5,1521.7 316,1521.9 316.5,1521.8 317,1521.5 317.5,1521.1 318,1520.9 318.5,1520.9 319,1520.9 319.5,1521.1 320,1521.2 320.5,1521.2 321,1521.1 321.5,1520.9 322,1520.8 322.5,1520.7 323,1520.7 323.5,1520.8 324,1520.9 324.5,1520.9 325,1521.1 325.5,1521.2 326,1521.3 326.5,1521.5 327,1521.5 327.5,1521.5 328,1521.5 328.5,1521.3 329,1521.2 329.5,1521 330,1520.9 330.5,1520.8 331,1520.8 331.5,1520.8 332,1520.9 332.5,1520.9 333,1521 333.5,1521.2 334,1521.3 334.5,1521.4 335,1521.4 335.5,1521.3 336,1521.3 336.5,1521.3 337,1521.4 337.5,1521.5 338,1521.6 338.5,1521.6 339,1521.5 339.5,1521.5 340,1521.5 340.5,1521.6 341,1521.7 341.5,1521.8 342,1521.8 342.5,1521.7 343,1521.6 343.5,1521.6 344,1521.5 344.5,1521.5 345,1521.5 345.5,1521.4 346,1521.2 346.5,1521.1 347,1520.9 347.5,1520.9 348,1521 348.5,1521.2 349,1521.4 349.5,1521.5 350,1521.5 350.5,1521.3 351,1521.2 351.5,1521.1 352,1521 352.5,1520.9 353,1520.9 353.5,1520.8 354,1520.8 354.5,1520.9 355,1520.9 355.5,1520.9 356,1520.9 356.5,1521 357,1521.1 357.5,1521.2 358,1521.3 358.5,1521.4 359,1521.4 359.5,1521.3 360,1521.1 360.5,1521 361,1520.9 361.5,1521 362,1521 362.5,1521.1 363,1521.1 363.5,1521 364,1520.9 364.5,1520.8 365,1520.8 365.5,1521 366,1521.1 366.5,1521.3 367,1521.3 367.5,1521.2 368,1521.1 368.5,1520.9 369,1520.8 369.5,1520.7 370,1520.6 370.5,1520.7 371,1520.8 371.5,1520.9 372,1520.9 372.5,1520.8 373,1520.7 373.5,1520.7 374,1520.7 374.5,1520.9 375,1521.1 375.5,1521.2 376,1521.2 376.5,1521.1 377,1520.9 377.5,1520.8 378,1520.8 378.5,1520.8 379,1520.9 379.5,1521 380,1521 380.5,1521 381,1520.9 381.5,1521 382,1521.1 382.5,1521.2 383,1521.3 383.5,1521.3 384,1521.3 384.5,1521.2 385,1521.2 385.5,1521.2 386,1521.2 386.5,1521.2 387,1521.1 387.5,1521 388,1520.9 388.5,1520.8 389,1520.7 389.5,1520.8 390,1520.8 390.5,1520.8 391,1520.7 391.5,1520.6 392,1520.6 392.5,1520.7 393,1520.7 393.5,1520.8 394,1520.9 394.5,1521 395,1521.1 395.5,1521.2 396,1521.1 396.5,1521 397,1520.9 397.5,1520.9 398,1520.9 398.5,1520.9 399,1520.9 399.5,1520.8 400,1520.7 400.5,1520.7 401,1520.6 401.5,1520.6 402,1520.6 402.5,1520.5 403,1520.4 403.5,1520.3 404,1520.2 404.5,1520.1 405,1520 405.5,1520 406,1520.1 406.5,1520.2 407,1520.2 407.5,1520.3 408,1520.3 408.5,1520.4 409,1520.5 409.5,1520.6 410,1520.7 410.5,1520.8 411,1520.8 411.5,1520.9 412,1521 412.5,1521 413,1521.1 413.5,1521 414,1520.9 414.5,1520.7 415,1520.5 415.5,1520.4 416,1520.3 416.5,1520.4 417,1520.6 417.5,1520.8 418,1521 418.5,1521.1 419,1521 419.5,1520.8 420,1520.6 420.5,1520.4 421,1520.4 421.5,1520.4 422,1520.5 422.5,1520.6 423,1520.7 423.5,1520.7 424,1520.7 424.5,1520.6 425,1520.7 425.5,1520.8 426,1520.9 426.5,1520.9 427,1520.8 427.5,1520.8 428,1520.7 428.5,1520.7 429,1520.7 429.5,1520.8 430,1520.9 430.5,1520.9 431,1520.9 431.5,1520.8 432,1520.6 432.5,1520.4 433,1520.2 433.5,1520.2 434,1520.2 434.5,1520.2 435,1520.2 435.5,1520.3 436,1520.3 436.5,1520.5 437,1520.7 437.5,1520.8 438,1520.9 438.5,1521 439,1521 439.5,1521 440,1520.9 440.5,1520.7 441,1520.5 441.5,1520.2 442,1520 442.5,1519.8 443,1519.8 443.5,1519.8 444,1519.8 444.5,1519.9 445,1520 445.5,1520.1 446,1520.2 446.5,1520.3 447,1520.3 447.5,1520.2 448,1520.2 448.5,1520.1 449,1520 449.5,1519.9 450,1519.8 450.5,1519.8 451,1519.8 451.5,1519.8 452,1519.8 452.5,1519.7 453,1519.6 453.5,1519.5 454,1519.4 454.5,1519.4 455,1519.3 455.5,1519.3 456,1519.3 456.5,1519.1 457,1519 457.5,1518.9 458,1518.8 458.5,1518.9 459,1518.9 459.5,1519 460,1519 460.5,1518.9 461,1518.8 461.5,1518.7 462,1518.6 462.5,1518.7 463,1518.7 463.5,1518.6 464,1518.5 464.5,1518.3 465,1518.1 465.5,1517.8 466,1517.6 466.5,1517.5 467,1517.4 467.5,1517.4 468,1517.3 468.5,1517.3 469,1517.2 469.5,1517.2 470,1517 470.5,1516.9 471,1516.8 471.5,1516.6 472,1516.3 472.5,1516 473,1515.6 473.5,1515.2 474,1514.8 474.5,1514.5 475,1514.2 475.5,1513.9 476,1513.6 476.5,1513.2 477,1512.7 477.5,1512.1 478,1511.4 478.5,1510.8 479,1510.1 479.5,1509.4 480,1508.6 480.5,1507.6 481,1506.4 481.5,1505.2 482,1503.9 482.5,1502.4 483,1500.7 483.5,1498.7 484,1496.5 484.5,1494 485,1491.2 485.5,1487.8 486,1483.7 486.5,1478.8 487,1473 487.5,1466.1 488,1458 488.5,1448.6 489,1437.7 489.5,1425.2 490,1411 490.5,1395.3 491,1378.7 491.5,1362 492,1347.1 492.5,1335.7 493,1329.8 493.5,1330.5 494,1337.5 494.5,1349.7 495,1365.1 495.5,1381.8 496,1398.3 496.5,1413.8 497,1427.8 497.5,1440.1 498,1450.8 498.5,1459.9 499,1467.7 499.5,1474.2 500,1479.8 500.5,1484.5 501,1488.5 501.5,1491.9 502,1494.7 502.5,1497 503,1499.1 503.5,1501 504,1502.6 504.5,1504.1 505,1505.3 505.5,1506.4 506,1507.4 506.5,1508.5 507,1509.4 507.5,1510.2 508,1510.9 508.5,1511.4 509,1512 509.5,1512.6 510,1513.1 510.5,1513.5 511,1513.8 511.5,1514.1 512,1514.4 512.5,1514.6 513,1514.9 513.5,1515.1 514,1515.3 514.5,1515.6 515,1515.8 515.5,1516.1 516,1516.3 516.5,1516.5 517,1516.8 517.5,1516.9 518,1517 518.5,1517 519,1517 519.5,1517 520,1517 520.5,1517.2 521,1517.3 521.5,1517.5 522,1517.6 522.5,1517.6 523,1517.7 523.5,1517.8 524,1518 524.5,1518.3 525,1518.5 525.5,1518.8 526,1518.9 526.5,1518.9 527,1518.8 527.5,1518.6 528,1518.5 528.5,1518.4 529,1518.4 529.5,1518.4 530,1518.5 530.5,1518.5 531,1518.5 531.5,1518.5 532,1518.5 532.5,1518.5 533,1518.5 533.5,1518.6 534,1518.6 534.5,1518.6 535,1518.7 535.5,1518.7 536,1518.7 536.5,1518.8 537,1518.8 537.5,1518.9 538,1518.9 538.5,1518.9 539,1518.8 539.5,1518.7 540,1518.7 540.5,1518.7 541,1518.7 541.5,1518.7 542,1518.6 542.5,1518.6 543,1518.5 543.5,1518.4 544,1518.3 544.5,1518.2 545,1518.3 545.5,1518.4 546,1518.5 546.5,1518.7 547,1518.6 547.5,1518.4 548,1518 548.5,1517.6 549,1517.2 549.5,1516.8 550,1516.4 550.5,1516.2 551,1516 551.5,1515.9 552,1515.9 552.5,1516 553,1516 553.5,1515.8 554,1515.5 554.5,1515 555,1514.6 555.5,1514.2 556,1513.7 556.5,1513.2 557,1512.5 557.5,1511.7 558,1510.8 558.5,1509.9 559,1508.9 559.5,1507.8 560,1506.4 560.5,1504.7 561,1502.7 561.5,1500.4 562,1497.7 562.5,1494.4 563,1490.6 563.5,1486.2 564,1481.2 564.5,1475.6 565,1469.3 565.5,1462.4 566,1455.3 566.5,1448.3 567,1442.1 567.5,1437.2 568,1434.5 568.5,1434.2 569,1436.5 569.5,1441.1 570,1447.3 570.5,1454.3 571,1461.5 571.5,1468.5 572,1474.9 572.5,1480.6 573,1485.7 573.5,1490 574,1493.8 574.5,1497 575,1499.8 575.5,1502.2 576,1504.2 576.5,1506 577,1507.5 577.5,1508.6 578,1509.7 578.5,1510.6 579,1511.5 579.5,1512.2 580,1512.7 580.5,1513.2 581,1513.7 581.5,1514.3 582,1514.8 582.5,1515.3 583,1515.8 583.5,1516.2 584,1516.5 584.5,1516.9 585,1517.1 585.5,1517.3 586,1517.5 586.5,1517.8 587,1518 587.5,1518.1 588,1518.3 588.5,1518.3 589,1518.5 589.5,1518.6 590,1518.7 590.5,1518.8 591,1518.8 591.5,1518.8 592,1518.8 592.5,1518.9 593,1519 593.5,1519.1 594,1519.1 594.5,1519.1 595,1519.1 595.5,1519.1 596,1519.1 596.5,1519 597,1518.9 597.5,1518.8 598,1518.8 598.5,1518.9 599,1519.1 599.5,1519.4 600,1519.7 600.5,1519.9 601,1519.9 601.5,1519.8 602,1519.7 602.5,1519.6 603,1519.7 603.5,1519.8 604,1519.7 604.5,1519.7 605,1519.5 605.5,1519.4 606,1519.2 606.5,1519.2 607,1519.3 607.5,1519.4 608,1519.5 608.5,1519.5 609,1519.3 609.5,1519 610,1518.7 610.5,1518.4 611,1518.3 611.5,1518.3 612,1518.3 612.5,1518.3 613,1518.2 613.5,1518.2 614,1518 614.5,1517.8 615,1517.6 615.5,1517.5 616,1517.4 616.5,1517.3 617,1517.3 617.5,1517.3 618,1517.4 618.5,1517.5 619,1517.6 619.5,1517.7 620,1517.8 620.5,1517.9 621,1517.9 621.5,1517.9 622,1518 622.5,1518 623,1518.1 623.5,1518.4 624,1518.8 624.5,1519.2 625,1519.5 625.5,1519.8 626,1519.9 626.5,1520.1 627,1520.3 627.5,1520.5 628,1520.6 628.5,1520.7 629,1520.7 629.5,1520.6 630,1520.5 630.5,1520.5 631,1520.5 631.5,1520.6 632,1520.9 632.5,1521.1 633,1521.3 633.5,1521.3 634,1521.2 634.5,1521 635,1520.8 635.5,1520.7 636,1520.8 636.5,1520.8 637,1520.9 637.5,1521 638,1521 638.5,1521 639,1520.9 639.5,1520.9 640,1520.9 640.5,1520.9 641,1521 641.5,1521 642,1521.1 642.5,1521.3 643,1521.4 643.5,1521.4 644,1521.3 644.5,1521.1 645,1521 645.5,1521 646,1521.1 646.5,1521.2 647,1521.2 647.5,1521.2 648,1521.2 648.5,1521.1 649,1521 649.5,1520.9 650,1520.7 650.5,1520.6 651,1520.5 651.5,1520.6 652,1520.7 652.5,1520.9 653,1521.1 653.5,1521.3 654,1521.4 654.5,1521.5 655,1521.6 655.5,1521.5 656,1521.3 656.5,1521.2 657,1521 657.5,1520.9 658,1520.9 658.5,1520.9 659,1520.9 659.5,1521 660,1521.2 660.5,1521.2 661,1521.3 661.5,1521.2 662,1521.1 662.5,1521 663,1520.9 663.5,1520.8 664,1520.8 664.5,1520.7 665,1520.7 665.5,1520.7 666,1520.8 666.5,1521 667,1521.1 667.5,1521.2 668,1521.2 668.5,1521 669,1520.9 669.5,1520.8 670,1520.8 670.5,1520.9 671,1521 671.5,1521 672,1521 672.5,1521 673,1521 673.5,1521 674,1521.1 674.5,1521.1 675,1521.2 675.5,1521.1 676,1521 676.5,1520.9 677,1520.8 677.5,1520.9 678,1521 678.5,1521.1 679,1521.2 679.5,1521.2 680,1521.2 680.5,1521.2 681,1521.1 681.5,1521 682,1520.9 682.5,1520.9 683,1521 683.5,1521 684,1521.1 684.5,1521 685,1521 685.5,1521 686,1521 686.5,1521.1 687,1521.3 687.5,1521.4 688,1521.5 688.5,1521.5 689,1521.4 689.5,1521.3 690,1521.2 690.5,1521.1 691,1521.1 691.5,1521 692,1520.9 692.5,1520.9 693,1520.8 693.5,1520.7 694,1520.5 694.5,1520.4 695,1520.3 695.5,1520.3 696,1520.4 696.5,1520.5 697,1520.6 697.5,1520.7 698,1520.7 698.5,1520.8 699,1520.8 699.5,1520.8 700,1520.8 700.5,1520.8 701,1520.8 701.5,1520.9 702,1520.8 702.5,1520.8 703,1520.8 703.5,1520.9 704,1521 704.5,1521.1 705,1521.2 705.5,1521.2 706,1521.3 706.5,1521.3 707,1521.4 707.5,1521.4 708,1521.5 708.5,1521.6 709,1521.6 709.5,1521.5 710,1521.2 710.5,1521 711,1520.9 711.5,1520.8 712,1520.8 712.5,1520.9 713,1520.9 713.5,1521 714,1521 714.5,1521.1 715,1521.2 715.5,1521.2 716,1521.2 716.5,1521.1 717,1521 717.5,1520.9 718,1520.9 718.5,1520.9 719,1520.9 719.5,1521 720,1521.1 720.5,1521.1 721,1521 721.5,1521 722,1521 722.5,1521.1 723,1521.2 723.5,1521.2 724,1521.1 724.5,1520.8 725,1520.6 725.5,1520.5 726,1520.5 726.5,1520.6 727,1520.7 727.5,1520.9 728,1521.2 728.5,1521.3 729,1521.5 729.5,1521.5 730,1521.3 730.5,1521.2 731,1521.1 731.5,1521.1 732,1521.1 732.5,1521.1 733,1521 733.5,1520.9 734,1520.7 734.5,1520.6 735,1520.5 735.5,1520.4 736,1520.4 736.5,1520.4 737,1520.5 737.5,1520.7 738,1520.9 738.5,1521 739,1520.9 739.5,1520.8 740,1520.7 740.5,1520.7 741,1520.8 741.5,1520.8 742,1520.9 742.5,1520.9 743,1520.9 743.5,1520.8 744,1520.7 744.5,1520.5 745,1520.4 745.5,1520.4 746,1520.4 746.5,1520.6 747,1520.7 747.5,1520.7 748,1520.8 748.5,1520.7 749,1520.7 749.5,1520.7 750,1520.7 750.5,1520.7 751,1520.7 751.5,1520.6 752,1520.7 752.5,1520.7 753,1520.9 753.5,1521 754,1521 754.5,1521 755,1521 755.5,1520.9 756,1520.8 756.5,1520.8 757,1520.9 757.5,1520.9 758,1521 758.5,1521 759,1520.9 759.5,1520.9 760,1520.9 760.5,1520.9 761,1520.8 761.5,1520.7 762,1520.6 762.5,1520.5 763,1520.4 763.5,1520.4 764,1520.5 764.5,1520.5 765,1520.5 765.5,1520.5 766,1520.5 766.5,1520.5 767,1520.5 767.5,1520.6 768,1520.7 768.5,1520.7 769,1520.7 769.5,1520.7 770,1520.8 770.5,1520.8 771,1520.8 771.5,1520.7 772,1520.5 772.5,1520.2 773,1520.1 773.5,1519.9 774,1519.8 774.5,1519.7 775,1519.6 775.5,1519.6 776,1519.6 776.5,1519.7 777,1519.8 777.5,1519.9 778,1519.9 778.5,1519.8 779,1519.7 779.5,1519.6 780,1519.6 780.5,1519.5 781,1519.5 781.5,1519.3 782,1519.2 782.5,1519.1 783,1519.1 783.5,1519.1 784,1519.1 784.5,1519 785,1518.8 785.5,1518.5 786,1518.2 786.5,1518 787,1517.9 787.5,1517.8 788,1517.8 788.5,1517.7 789,1517.7 789.5,1517.7 790,1517.5 790.5,1517.4 791,1517.1 791.5,1516.9 792,1516.6 792.5,1516.2 793,1515.9 793.5,1515.5 794,1515.2 794.5,1514.8 795,1514.3 795.5,1513.8 796,1513.2 796.5,1512.5 797,1511.7 797.5,1510.8 798,1509.7 798.5,1508.4 799,1506.9 799.5,1505.1 800,1503.1 800.5,1500.9 801,1498.3 801.5,1495.4 802,1492.2 802.5,1488.5 803,1484.5 803.5,1480.2 804,1475.7 804.5,1471.1 805,1466.8 805.5,1463 806,1460.1 806.5,1458.5 807,1458.3 807.5,1459.7 808,1462.4 808.5,1466.1 809,1470.5 809.5,1475 810,1479.5 810.5,1483.8 811,1487.8 811.5,1491.3 812,1494.5 812.5,1497.2 813,1499.8 813.5,1502.1 814,1504.3 814.5,1506.2 815,1507.7 815.5,1508.9 816,1509.8 816.5,1510.5 817,1511.1 817.5,1511.8 818,1512.4 818.5,1513.1 819,1513.9 819.5,1514.7 820,1515.4 820.5,1515.9 821,1516.3 821.5,1516.4 822,1516.6 822.5,1516.8 823,1517 823.5,1517.3 824,1517.4 824.5,1517.5 825,1517.6 825.5,1517.7 826,1517.9 826.5,1518.1 827,1518.3 827.5,1518.6 828,1518.8 828.5,1519 829,1519.1 829.5,1519.1 830,1519.2 830.5,1519.3 831,1519.4 831.5,1519.6 832,1519.8 832.5,1519.8 833,1519.8 833.5,1519.7 834,1519.6 834.5,1519.6 835,1519.7 835.5,1519.7 836,1519.8 836.5,1519.9 837,1520 837.5,1520.1 838,1520.1 838.5,1520.1 839,1520 839.5,1519.9 840,1519.9 840.5,1519.8 841,1519.8 841.5,1519.9 842,1519.9 842.5,1520.1 843,1520.2 843.5,1520.3 844,1520.3 844.5,1520.2 845,1520 845.5,1519.9 846,1519.8 846.5,1519.9 847,1519.9 847.5,1520 848,1520.1 848.5,1520.2 849,1520.4 849.5,1520.5 850,1520.7 850.5,1520.8 851,1520.8 851.5,1520.6 852,1520.5 852.5,1520.4 853,1520.5 853.5,1520.5 854,1520.5 854.5,1520.4 855,1520.4 855.5,1520.4 856,1520.5 856.5,1520.6 857,1520.6 857.5,1520.6 858,1520.5 858.5,1520.4 859,1520.2 859.5,1520.1 860,1520.2 860.5,1520.3 861,1520.4 861.5,1520.5 862,1520.6 862.5,1520.5 863,1520.5 863.5,1520.5 864,1520.5 864.5,1520.7 865,1520.9 865.5,1521 866,1521.1 866.5,1521 867,1520.8 867.5,1520.7 868,1520.8 868.5,1520.9 869,1520.9 869.5,1520.9 870,1520.7 870.5,1520.6 871,1520.6 871.5,1520.6 872,1520.8 872.5,1520.9 873,1521 873.5,1521 874,1521 874.5,1520.9 875,1520.8 875.5,1520.8 876,1520.6 876.5,1520.5 877,1520.4 877.5,1520.4 878,1520.4 878.5,1520.5 879,1520.6 879.5,1520.6 880,1520.6 880.5,1520.6 881,1520.6 881.5,1520.6 882,1520.7 882.5,1520.7 883,1520.7 883.5,1520.7 884,1520.8 884.5,1520.8 885,1520.9 885.5,1521 886,1521.2 886.5,1521.2 887,1521.3 887.5,1521.3 888,1521.3 888.5,1521.2 889,1521 889.5,1520.9 890,1520.8 890.5,1520.7 891,1520.6 891.5,1520.5 892,1520.4 892.5,1520.4 893,1520.4 893.5,1520.4 894,1520.4 894.5,1520.3 895,1520.3 895.5,1520.3 896,1520.5 896.5,1520.7 897,1520.8 897.5,1520.9 898,1521 898.5,1521.1 899,1521.2 899.5,1521.3 900,1521.2 900.5,1521 901,1520.8 901.5,1520.6 902,1520.5 902.5,1520.5 903,1520.3 903.5,1520.2 904,1520.1 904.5,1520.2 905,1520.3 905.5,1520.4 906,1520.4 906.5,1520.3 907,1520.2 907.5,1520.1 908,1520.2 908.5,1520.2 909,1520.2 909.5,1520.2 910,1520.1 910.5,1520.1 911,1520.2 911.5,1520.3 912,1520.3 912.5,1520.2 913,1520.1 913.5,1520 914,1520.1 914.5,1520.1 915,1520 915.5,1519.9 916,1519.8 916.5,1519.6 917,1519.6 917.5,1519.5 918,1519.6 918.5,1519.7 919,1519.7 919.5,1519.7 920,1519.7 920.5,1519.8 921,1519.8 921.5,1519.9 922,1519.8 922.5,1519.8 923,1519.7 923.5,1519.6 924,1519.5 924.5,1519.3 925,1519.2 925.5,1519 926,1518.9 926.5,1518.8 927,1518.7 927.5,1518.5 928,1518.4 928.5,1518.3 929,1518.2 929.5,1518.2 930,1518 930.5,1517.8 931,1517.7 931.5,1517.5 932,1517.4 932.5,1517.3 933,1517.1 933.5,1517 934,1516.7 934.5,1516.3 935,1516 935.5,1515.6 936,1515.4 936.5,1515.2 937,1515.1 937.5,1514.9 938,1514.5 938.5,1514 939,1513.3 939.5,1512.6 940,1511.9 940.5,1511.2 941,1510.7 941.5,1510.1 942,1509.3 942.5,1508.3 943,1507.1 943.5,1505.8 944,1504.4 944.5,1502.9 945,1501.2 945.5,1499.2 946,1496.9 946.5,1494.3 947,1491.5 947.5,1488.6 948,1485.5 948.5,1482.4 949,1479.1 949.5,1475.5 950,1471.8 950.5,1468.1 951,1464.6 951.5,1461.7 952,1459.4 952.5,1458.2 953,1457.9 953.5,1458.7 954,1460.4 954.5,1462.9 955,1466.1 955.5,1469.7 956,1473.6 956.5,1477.5 957,1481.3 957.5,1484.8 958,1488 958.5,1490.9 959,1493.4 959.5,1495.8 960,1497.9 960.5,1499.9 961,1501.7 961.5,1503.5 962,1505 962.5,1506.3 963,1507.4 963.5,1508.3 964,1509.1 964.5,1509.8 965,1510.6 965.5,1511.5 966,1512.5 966.5,1513.3 967,1514 967.5,1514.4 968,1514.6 968.5,1514.8 969,1515 969.5,1515.2 970,1515.5 970.5,1515.9 971,1516.3 971.5,1516.5 972,1516.6 972.5,1516.6 973,1516.6 973.5,1516.7 974,1517 974.5,1517.2 975,1517.4 975.5,1517.4 976,1517.5 976.5,1517.5 977,1517.6 977.5,1517.6 978,1517.6 978.5,1517.5 979,1517.5 979.5,1517.5 980,1517.6 980.5,1517.8 981,1517.9 981.5,1517.9 982,1517.9 982.5,1517.7 983,1517.5 983.5,1517.3 984,1517.1 984.5,1517 985,1516.8 985.5,1516.5 986,1516.3 986.5,1516 987,1515.8 987.5,1515.5 988,1515.2 988.5,1514.7 989,1514.1 989.5,1513.4 990,1512.4 990.5,1511.4 991,1510.3 991.5,1509.2 992,1508.1 992.5,1507.1 993,1506.1 993.5,1505 994,1503.9 994.5,1503 995,1502.3 995.5,1502 996,1501.9 996.5,1502.3 997,1503 997.5,1504 998,1505.2 998.5,1506.5 999,1507.8 999.5,1509 1000,1510.1 1000.5,1511.1 1001,1512 1001.5,1512.8 1002,1513.4 1002.5,1514 1003,1514.5 1003.5,1515.2 1004,1515.8 1004.5,1516.4 1005,1516.9 1005.5,1517.2 1006,1517.5 1006.5,1517.8 1007,1518.1 1007.5,1518.4 1008,1518.8 1008.5,1519.1 1009,1519.4 1009.5,1519.6 1010,1519.6 1010.5,1519.7 1011,1519.8 1011.5,1519.9 1012,1520.1 1012.5,1520.3 1013,1520.3 1013.5,1520.3 1014,1520.2 1014.5,1520 1015,1520 1015.5,1520 1016,1520 1016.5,1520 1017,1519.9 1017.5,1519.7 1018,1519.7 1018.5,1519.7 1019,1519.9 1019.5,1520 1020,1520.2 1020.5,1520.3 1021,1520.4 1021.5,1520.4 1022,1520.4 1022.5,1520.5 1023,1520.7 1023.5,1520.7 1024,1520.6 1024.5,1520.5 1025,1520.4 1025.5,1520.3 1026,1520.4 1026.5,1520.4 1027,1520.3 1027.5,1520.2 1028,1520.1 1028.5,1520.2 1029,1520.3 1029.5,1520.5 1030,1520.7 1030.5,1520.7 1031,1520.7 1031.5,1520.7 1032,1520.7 1032.5,1520.7 1033,1520.8 1033.5,1520.8 1034,1520.7 1034.5,1520.6 1035,1520.5 1035.5,1520.4 1036,1520.5 1036.5,1520.6 1037,1520.6 1037.5,1520.6 1038,1520.5 1038.5,1520.6 1039,1520.7 1039.5,1520.9 1040,1521.1 1040.5,1521.1 1041,1521 1041.5,1521 1042,1520.9 1042.5,1521 1043,1521 1043.5,1521 1044,1520.9 1044.5,1520.8 1045,1520.8 1045.5,1520.8 1046,1520.8 1046.5,1520.9 1047,1520.9 1047.5,1520.9 1048,1520.9 1048.5,1520.8 1049,1520.8 1049.5,1520.9 1050,1521 1050.5,1521 1051,1521.1 1051.5,1521.1 1052,1521.2 1052.5,1521.2 1053,1521.2 1053.5,1521.2 1054,1521.2 1054.5,1521.2 1055,1521.2 1055.5,1521.2 1056,1521.2 1056.5,1521.1 1057,1521 1057.5,1520.9 1058,1521 1058.5,1521.1 1059,1521.3 1059.5,1521.4 1060,1521.5 1060.5,1521.6 1061,1521.5 1061.5,1521.4 1062,1521.3 1062.5,1521.1 1063,1521 1063.5,1520.8 1064,1520.7 1064.5,1520.7 1065,1520.8 1065.5,1520.8 1066,1520.9 1066.5,1520.8 1067,1520.8 1067.5,1520.7 1068,1520.6 1068.5,1520.5 1069,1520.5 1069.5,1520.6 1070,1520.7 1070.5,1520.8 1071,1520.9 1071.5,1520.9 1072,1520.9 1072.5,1521 1073,1521.1 1073.5,1521.1 1074,1521.1 1074.5,1521 1075,1520.9 1075.5,1521 1076,1521.1 1076.5,1521.2 1077,1521.3 1077.5,1521.4 1078,1521.5 1078.5,1521.6 1079,1521.7 1079.5,1521.7 1080,1521.6 1080.5,1521.5 1081,1521.4 1081.5,1521.2 1082,1521.2 1082.5,1521.1 1083,1521.2 1083.5,1521.2 1084,1521.2 1084.5,1521.1 1085,1520.9 1085.5,1520.8 1086,1520.7 1086.5,1520.7 1087,1520.8 1087.5,1520.9 1088,1521 1088.5,1521.1 1089,1521.2 1089.5,1521.2 1090,1521.2 1090.5,1521.3 1091,1521.3 1091.5,1521.4 1092,1521.4 1092.5,1521.3 1093,1521.2 1093.5,1521.1 1094,1520.9 1094.5,1520.9 1095,1520.9 1095.5,1521.1 1096,1521.3 1096.5,1521.4 1097,1521.4 1097.5,1521.2 1098,1521 1098.5,1520.9 1099,1520.8 1099.5,1520.8 1100,1520.7 1100.5,1520.7 1101,1520.8 1101.5,1520.8 1102,1520.8 1102.5,1520.8 1103,1520.8 1103.5,1520.7 1104,1520.7 1104.5,1520.8 1105,1520.9 1105.5,1521.2 1106,1521.5 1106.5,1521.6 1107,1521.6 1107.5,1521.5 1108,1521.3 1108.5,1521.2 1109,1521.1 1109.5,1521 1110,1520.9 1110.5,1520.8 1111,1520.9 1111.5,1520.9 1112,1521 1112.5,1521.1 1113,1521.2 1113.5,1521.2 1114,1521.1 1114.5,1520.9 1115,1520.8 1115.5,1520.7 1116,1520.7 1116.5,1520.9 1117,1521 1117.5,1521.1 1118,1521.2 1118.5,1521.4 1119,1521.5 1119.5,1521.6 1120,1521.7 1120.5,1521.7 1121,1521.5 1121.5,1521.3 1122,1521.1 1122.5,1521.1 1123,1521.1 1123.5,1521 1124,1520.9 1124.5,1520.8 1125,1520.7 1125.5,1520.8 1126,1520.9 1126.5,1520.9 1127,1520.9 1127.5,1520.9 1128,1521 1128.5,1521.1 1129,1521.2 1129.5,1521.2 1130,1521.1 1130.5,1521 1131,1521 1131.5,1521 1132,1521.1 1132.5,1521.2 1133,1521.3 1133.5,1521.4 1134,1521.5 1134.5,1521.6 1135,1521.7 1135.5,1521.7 1136,1521.7 1136.5,1521.7 1137,1521.6 1137.5,1521.6 1138,1521.6 1138.5,1521.6 1139,1521.5 1139.5,1521.3 1140,1521.2 1140.5,1521.1 1141,1521.1 1141.5,1521.2 1142,1521.3 1142.5,1521.4 1143,1521.3 1143.5,1521.2 1144,1521.1 1144.5,1521 1145,1520.9 1145.5,1520.8 1146,1520.8 1146.5,1520.8 1147,1520.8 1147.5,1520.9 1148,1520.9 1148.5,1521 1149,1521 1149.5,1520.9 1150,1520.8 1150.5,1520.6 1151,1520.5 1151.5,1520.5 1152,1520.5 1152.5,1520.4 1153,1520.3 1153.5,1520.1 1154,1520 1154.5,1520 1155,1519.9 1155.5,1519.8 1156,1519.5 1156.5,1519.2 1157,1519 1157.5,1518.7 1158,1518.5 1158.5,1518.4 1159,1518.4 1159.5,1518.4 1160,1518.3 1160.5,1518.1 1161,1517.8 1161.5,1517.5 1162,1517.2 1162.5,1517 1163,1516.8 1163.5,1516.6 1164,1516.3 1164.5,1516 1165,1515.7 1165.5,1515.5 1166,1515.5 1166.5,1515.5 1167,1515.6 1167.5,1515.7 1168,1515.6 1168.5,1515.4 1169,1515.3 1169.5,1515.3 1170,1515.3 1170.5,1515.5 1171,1515.6 1171.5,1515.7 1172,1515.9 1172.5,1516.1 1173,1516.3 1173.5,1516.7 1174,1517.1 1174.5,1517.4 1175,1517.7 1175.5,1517.8 1176,1518 1176.5,1518.3 1177,1518.6 1177.5,1518.8 1178,1518.9 1178.5,1519 1179,1519.1 1179.5,1519.3 1180,1519.7 1180.5,1519.9 1181,1520.1 1181.5,1520.1 1182,1520 1182.5,1519.9 1183,1519.8 1183.5,1519.8 1184,1519.8 1184.5,1519.9 1185,1520 1185.5,1520.1 1186,1520.3 1186.5,1520.5 1187,1520.7 1187.5,1520.8 1188,1520.8 1188.5,1520.8 1189,1520.8 1189.5,1520.6 1190,1520.4 1190.5,1520.2 1191,1520.1 1191.5,1520.2 1192,1520.5 1192.5,1520.8 1193,1521.1 1193.5,1521.3 1194,1521.3 1194.5,1521.3 1195,1521.2 1195.5,1521.1 1196,1521 1196.5,1520.8 1197,1520.6 1197.5,1520.4 1198,1520.3 1198.5,1520.3 1199,1520.5 1199.5,1520.8 1200,1521.1 1200.5,1521.3 1201,1521.3 1201.5,1521.2 1202,1521.1 1202.5,1520.9 1203,1520.8 1203.5,1520.9 1204,1520.9 1204.5,1520.9 1205,1520.8 1205.5,1520.8 1206,1520.8 1206.5,1520.9 1207,1521 1207.5,1521.1 1208,1521.2 1208.5,1521.2 1209,1521.1 1209.5,1520.9 1210,1520.9 1210.5,1520.9 1211,1520.9 1211.5,1521 1212,1521.1 1212.5,1521.2 1213,1521.3 1213.5,1521.3 1214,1521.3 1214.5,1521.2 1215,1521.1 1215.5,1521 1216,1521 1216.5,1521 1217,1521 1217.5,1521 1218,1521 1218.5,1521.1 1219,1521.3 1219.5,1521.4 1220,1521.3 1220.5,1521.2 1221,1521.1 1221.5,1521 1222,1521 1222.5,1521 1223,1521 1223.5,1521 1224,1521 1224.5,1521.2 1225,1521.4 1225.5,1521.5 1226,1521.6 1226.5,1521.5 1227,1521.2 1227.5,1520.9 1228,1520.6 1228.5,1520.6 1229,1520.7 1229.5,1520.8 1230,1520.9 1230.5,1521 1231,1521.1 1231.5,1521.2 1232,1521.2 1232.5,1521.1 1233,1521 1233.5,1521 1234,1520.9 1234.5,1520.9 1235,1520.8 1235.5,1520.8 1236,1520.9 1236.5,1521 1237,1521.2 1237.5,1521.3 1238,1521.4 1238.5,1521.3 1239,1521.3 1239.5,1521.3 1240,1521.3 1240.5,1521.3 1241,1521.2 1241.5,1521.2 1242,1521.2 1242.5,1521.2 1243,1521.3 1243.5,1521.4 1244,1521.4 1244.5,1521.4 1245,1521.3 1245.5,1521.2 1246,1521.3 1246.5,1521.4 1247,1521.4 1247.5,1521.4 1248,1521.3 1248.5,1521.2 1249,1521.1 1249.5,1521.1 1250,1521.2 1250.5,1521.1 1251,1521 1251.5,1520.9 1252,1520.9 1252.5,1520.8 1253,1520.8 1253.5,1520.8 1254,1520.8 1254.5,1520.8 1255,1520.8 1255.5,1520.8 1256,1520.9 1256.5,1520.9 1257,1520.8 1257.5,1520.6 1258,1520.5 1258.5,1520.4 1259,1520.4 1259.5,1520.5 1260,1520.6 1260.5,1520.7 1261,1520.8 1261.5,1520.9 1262,1521 1262.5,1521.1 1263,1521.1 1263.5,1521 1264,1520.9 1264.5,1520.6 1265,1520.4 1265.5,1520.3 1266,1520.2 1266.5,1520.2 1267,1520.2 1267.5,1520.2 1268,1520.2 1268.5,1520.2 1269,1520.3 1269.5,1520.3 1270,1520.2 1270.5,1520.1 1271,1519.8 1271.5,1519.5 1272,1519.3 1272.5,1519.2 1273,1519.2 1273.5,1519.3 1274,1519.4 1274.5,1519.3 1275,1519 1275.5,1518.6 1276,1518.2 1276.5,1517.9 1277,1517.7 1277.5,1517.5 1278,1517.4 1278.5,1517.2 1279,1516.9 1279.5,1516.5 1280,1516.1 1280.5,1515.6 1281,1515 1281.5,1514.5 1282,1514 1282.5,1513.2 1283,1512.2 1283.5,1511 1284,1509.9 1284.5,1508.9 1285,1508 1285.5,1507.3 1286,1506.5 1286.5,1505.7 1287,1505.1 1287.5,1504.5 1288,1504 1288.5,1503.9 1289,1504 1289.5,1504.4 1290,1505.1 1290.5,1506 1291,1507 1291.5,1508 1292,1508.9 1292.5,1509.8 1293,1510.5 1293.5,1511.1 1294,1511.8 1294.5,1512.4 1295,1513.1 1295.5,1513.8 1296,1514.5 1296.5,1515.2 1297,1515.8 1297.5,1516.4 1298,1516.8 1298.5,1517.1 1299,1517.4 1299.5,1517.7 1300,1518 1300.5,1518.2 1301,1518.4 1301.5,1518.5 1302,1518.5 1302.5,1518.5 1303,1518.6 1303.5,1518.8 1304,1519 1304.5,1519.2 1305,1519.4 1305.5,1519.6 1306,1519.8 1306.5,1519.8 1307,1519.6 1307.5,1519.4 1308,1519.2 1308.5,1519.1 1309,1519.1 1309.5,1519.2 1310,1519.4 1310.5,1519.4 1311,1519.5 1311.5,1519.5 1312,1519.3 1312.5,1519 1313,1518.6 1313.5,1518.2 1314,1517.9 1314.5,1517.7 1315,1517.4 1315.5,1517.1 1316,1516.7 1316.5,1516.3 1317,1515.9 1317.5,1515.5 1318,1515.2 1318.5,1514.8 1319,1514.4 1319.5,1513.9 1320,1513.5 1320.5,1513 1321,1512.4 1321.5,1511.8 1322,1511.2 1322.5,1510.7 1323,1510.4 1323.5,1510.1 1324,1509.8 1324.5,1509.6 1325,1509.5 1325.5,1509.4 1326,1509.3 1326.5,1509.3 1327,1509.5 1327.5,1509.8 1328,1510.2 1328.5,1510.5 1329,1510.9 1329.5,1511.3 1330,1511.8 1330.5,1512.2 1331,1512.6 1331.5,1512.9 1332,1513.3 1332.5,1513.8 1333,1514.3 1333.5,1514.9 1334,1515.5 1334.5,1516.1 1335,1516.6 1335.5,1517.1 1336,1517.5 1336.5,1517.7 1337,1517.8 1337.5,1517.9 1338,1518.1 1338.5,1518.3 1339,1518.6 1339.5,1518.8 1340,1519.1 1340.5,1519.3 1341,1519.6 1341.5,1519.8 1342,1519.9 1342.5,1520 1343,1520 1343.5,1520.1 1344,1520.2 1344.5,1520.3 1345,1520.4 1345.5,1520.4 1346,1520.4 1346.5,1520.4 1347,1520.4 1347.5,1520.4 1348,1520.4 1348.5,1520.4 1349,1520.4 1349.5,1520.4 1350,1520.5 1350.5,1520.6 1351,1520.8 1351.5,1520.8 1352,1520.8 1352.5,1520.8 1353,1520.8 1353.5,1520.8 1354,1520.8 1354.5,1520.8 1355,1520.7" fill="none" stroke="#ff0000" stroke-width="10.4" stroke-linejoin="round" stroke-linecap="butt"/>
</g>
<g>
<text transform="translate(838.35 180.8) scale(0.9813 1)" font-size="77.5" fill="#000">JCPDS <tspan x="260.01">85-0861</tspan></text>
<text transform="translate(836.40 1711.2) scale(0.9859 1)" font-size="77.5" fill="#000">JCPDS <tspan x="258.82">73-2020</tspan></text>
<text transform="translate(1129.21 456.7) scale(0.9870 1)" font-size="77.5" fill="#008000">BOC</text>
<text transform="translate(1072.02 669.8) scale(0.9823 1)" font-size="77.5" fill="#000080">B<tspan dx="-3.2">WOC3</tspan></text>
<text transform="translate(1072.12 946.1) scale(0.9805 1)" font-size="77.5" fill="#8000ff">B<tspan dx="-3.2">WOC2</tspan></text>
<text transform="translate(1070.33 1202) scale(0.9743 1)" font-size="77.5" fill="#0000ff">B<tspan dx="-3.2">WOC1</tspan></text>
<text transform="translate(1123.01 1476.8) scale(0.9902 1)" font-size="77.5" fill="#ff0000">B<tspan dx="-2">WO</tspan></text>
<text transform="translate(139.41 1904.4) scale(0.9989 1)" font-size="99" fill="#000">10</text>
<text transform="translate(304.44 1904.4) scale(1.0143 1)" font-size="99" fill="#000">20</text>
<text transform="translate(470.64 1904.4) scale(1.0154 1)" font-size="99" fill="#000">30</text>
<text transform="translate(640.91 1904.4) scale(0.9926 1)" font-size="99" fill="#000">40</text>
<text transform="translate(805.73 1904.4) scale(0.9923 1)" font-size="99" fill="#000">50</text>
<text transform="translate(972.47 1904.4) scale(1.0098 1)" font-size="99" fill="#000">60</text>
<text transform="translate(1137.81 1904.4) scale(1.0146 1)" font-size="99" fill="#000">70</text>
<text transform="translate(1306.76 1904.4) scale(0.9815 1)" font-size="99" fill="#000">80</text>
<text transform="translate(384.96 2004.4) scale(1.0086 1)" font-size="129.8" fill="#000">2 <tspan dx="6">T</tspan><tspan dx="-1">h</tspan><tspan dx="-0.7">e</tspan><tspan dx="-0.5">ta</tspan><tspan dx="-3.8"> (deg.)</tspan></text>
<text transform="translate(115.7 1321.8) rotate(-90) scale(0.9950 1)" font-size="130.6" fill="#000">Intensity (a.u.)</text>
</g>
</svg>
</body></html>
